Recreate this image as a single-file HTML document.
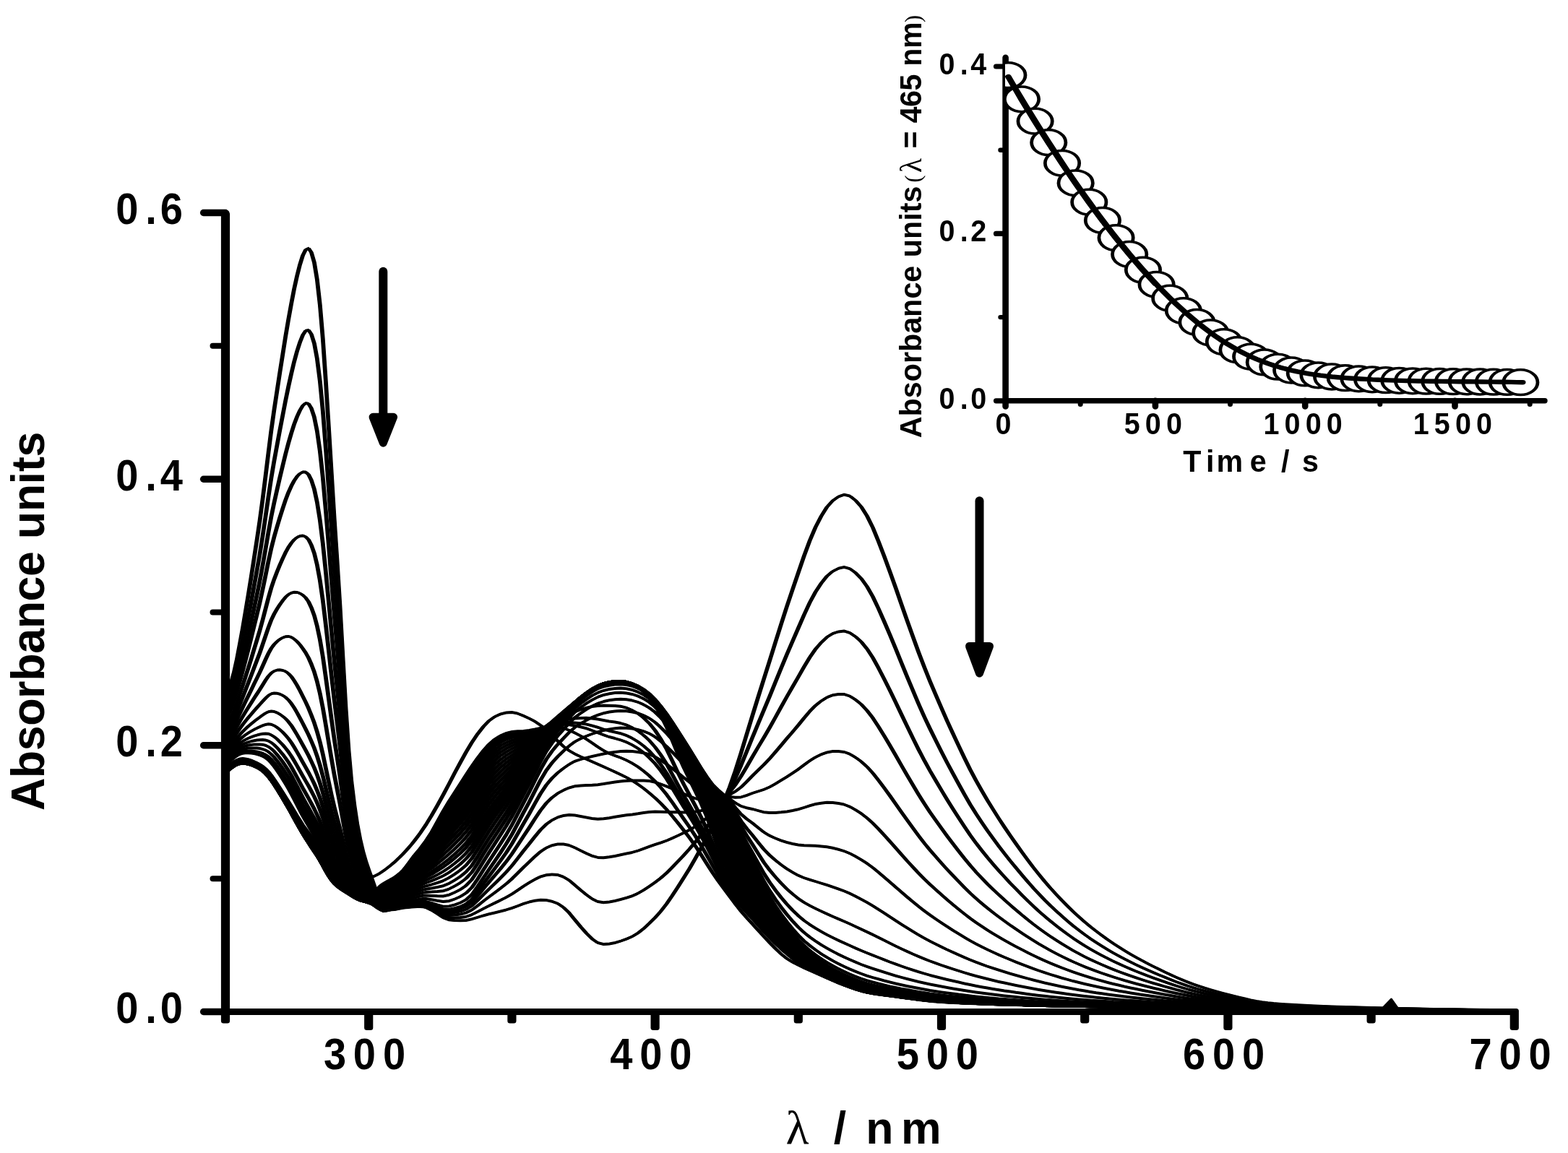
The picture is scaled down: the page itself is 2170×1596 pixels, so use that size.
<!DOCTYPE html>
<html lang="en"><head><meta charset="utf-8"><title>Absorbance spectra</title>
<style>html,body{margin:0;padding:0;background:#fff;overflow:hidden}svg{display:block}text{font-family:"Liberation Sans",sans-serif;font-weight:bold;fill:#000}.sym{font-family:"Liberation Serif",serif;font-weight:normal}</style></head><body>
<svg width="2170" height="1596" viewBox="0 0 2170 1596">
<rect width="2170" height="1596" fill="#fff"/>
<defs><g id="cv" fill="none" stroke="#000" stroke-width="1.40" stroke-linejoin="round" stroke-linecap="round">
<polyline points="312.0,967.5 316.0,956.8 319.9,945.0 323.9,930.4 327.9,912.5 331.8,892.0 335.8,870.1 339.7,847.2 343.7,823.2 347.7,798.3 351.6,773.0 355.6,747.1 359.6,720.1 363.5,691.0 367.5,659.2 371.5,626.5 375.4,595.6 379.4,567.4 383.4,541.1 387.3,515.6 391.3,490.4 395.2,465.7 399.2,442.1 403.2,420.1 407.1,399.9 411.1,381.8 415.1,366.2 419.0,353.8 423.0,345.7 427.0,343.7 430.9,349.4 434.9,363.2 438.8,386.6 442.8,421.8 446.8,468.9 450.7,525.3 454.7,588.1 458.7,653.7 462.6,717.0 466.6,777.4 470.6,840.8 474.5,910.2 478.5,979.8 482.5,1038.6 486.4,1082.2 490.4,1114.8 494.3,1140.7 498.3,1161.7 502.3,1178.6 506.2,1192.1 510.2,1203.9 514.2,1215.1 518.1,1226.2 522.1,1236.8 526.1,1246.3 530.0,1253.4 534.0,1257.3 537.9,1258.8 541.9,1259.2 545.9,1258.9 549.8,1258.3 553.8,1257.5 557.8,1256.8 561.7,1256.3 565.7,1255.9 569.7,1255.6 573.6,1255.3 577.6,1255.1 581.6,1255.0 585.5,1255.3 589.5,1256.2 597.4,1260.0 605.3,1264.9 613.3,1270.3 621.2,1273.3 629.1,1274.1 637.0,1274.3 645.0,1273.9 652.9,1272.3 660.8,1269.9 668.8,1267.4 676.7,1265.3 684.6,1263.4 692.5,1261.5 700.5,1259.4 708.4,1257.0 716.3,1254.1 724.3,1251.0 732.2,1248.6 740.1,1246.8 748.0,1245.7 756.0,1246.1 763.9,1247.7 771.8,1250.6 779.8,1256.0 787.7,1263.6 795.6,1273.3 803.5,1282.8 811.5,1291.7 819.4,1299.6 827.3,1305.1 835.2,1307.1 843.2,1306.6 851.1,1305.0 859.0,1302.6 867.0,1299.8 874.9,1296.4 882.8,1291.6 890.7,1285.4 898.7,1278.1 906.6,1270.2 914.5,1261.4 922.5,1251.1 930.4,1239.7 938.3,1227.6 946.2,1215.2 954.2,1202.3 962.1,1188.6 970.0,1174.3 978.0,1159.4 985.9,1144.0 993.8,1127.6 1001.7,1109.8 1009.7,1089.8 1017.6,1067.2 1025.5,1042.4 1033.4,1016.4 1041.4,990.3 1049.3,964.7 1057.2,939.6 1065.2,914.4 1073.1,889.1 1081.0,864.1 1088.9,839.6 1096.9,815.9 1104.8,792.8 1112.7,769.8 1120.7,748.2 1128.6,729.7 1136.5,714.5 1144.4,701.9 1152.4,693.1 1160.3,687.5 1168.2,684.7 1176.2,686.6 1184.1,692.7 1192.0,701.6 1199.9,714.1 1207.9,730.2 1215.8,749.4 1223.7,770.1 1231.6,791.4 1239.6,813.8 1247.5,836.4 1255.4,858.9 1263.4,881.2 1271.3,903.0 1279.2,923.6 1287.1,943.2 1295.1,962.0 1303.0,980.3 1310.9,998.2 1318.9,1015.6 1326.8,1032.5 1334.7,1049.1 1342.6,1065.1 1350.6,1080.2 1358.5,1094.2 1366.4,1107.7 1374.4,1120.5 1382.3,1133.0 1390.2,1145.0 1398.1,1156.6 1406.1,1168.0 1414.0,1179.1 1421.9,1189.9 1429.8,1200.4 1437.8,1210.4 1445.7,1220.0 1453.6,1229.1 1461.6,1237.9 1469.5,1246.3 1477.4,1254.3 1485.3,1262.0 1493.3,1269.3 1501.2,1276.2 1509.1,1282.8 1517.1,1289.0 1525.0,1294.9 1532.9,1300.6 1540.8,1306.0 1548.8,1311.2 1556.7,1316.1 1564.6,1320.8 1572.6,1325.3 1580.5,1329.6 1588.4,1333.8 1596.3,1337.8 1604.3,1341.7 1612.2,1345.6 1620.1,1349.3 1628.0,1352.9 1636.0,1356.3 1643.9,1359.5 1651.8,1362.5 1659.8,1365.2 1667.7,1367.8 1675.6,1370.2 1683.5,1372.5 1691.5,1374.7 1699.4,1376.7 1707.3,1378.7 1715.3,1380.7 1723.2,1382.6 1731.1,1384.4 1739.0,1386.0 1747.0,1387.3 1754.9,1388.3 1762.8,1389.1 1770.8,1389.7 1778.7,1390.3 1810.4,1392.1 1842.1,1393.4 1873.8,1394.3 1905.5,1395.2 1937.2,1396.0 1969.0,1396.7 2000.7,1397.2 2032.4,1397.7 2064.1,1398.1 2095.8,1398.3"/>
<polyline points="312.0,979.8 316.0,970.2 319.9,959.6 323.9,946.6 327.9,930.9 331.8,913.1 335.8,894.2 339.7,874.6 343.7,854.1 347.7,832.9 351.6,811.3 355.6,789.4 359.6,766.5 363.5,741.8 367.5,715.0 371.5,687.4 375.4,661.6 379.4,638.2 383.4,616.4 387.3,595.4 391.3,574.6 395.2,554.3 399.2,535.0 403.2,517.0 407.1,500.7 411.1,486.1 415.1,473.7 419.0,463.9 423.0,457.8 427.0,456.9 430.9,462.6 434.9,475.2 438.8,496.2 442.8,527.4 446.8,568.9 450.7,618.6 454.7,673.7 458.7,731.0 462.6,786.2 466.6,838.8 470.6,893.8 474.5,953.9 478.5,1014.2 482.5,1065.3 486.4,1103.3 490.4,1131.7 494.3,1154.6 498.3,1173.2 502.3,1188.2 506.2,1200.5 510.2,1211.1 514.2,1221.2 518.1,1231.2 522.1,1240.6 526.1,1248.9 530.0,1255.0 534.0,1258.1 537.9,1259.1 541.9,1259.1 545.9,1258.7 549.8,1257.9 553.8,1256.9 557.8,1256.1 561.7,1255.5 565.7,1255.1 569.7,1254.7 573.6,1254.3 577.6,1254.0 581.6,1253.9 585.5,1254.1 589.5,1254.9 597.4,1258.4 605.3,1262.9 613.3,1267.7 621.2,1270.1 629.1,1270.4 637.0,1270.1 645.0,1268.9 652.9,1266.2 660.8,1262.2 668.8,1257.8 676.7,1253.8 684.6,1250.0 692.5,1246.2 700.5,1242.1 708.4,1237.6 716.3,1232.3 724.3,1226.8 732.2,1221.9 740.1,1217.3 748.0,1213.5 756.0,1211.2 763.9,1210.4 771.8,1211.0 779.8,1213.8 787.7,1218.5 795.6,1225.2 803.5,1232.0 811.5,1238.5 819.4,1244.2 827.3,1248.1 835.2,1249.3 843.2,1248.6 851.1,1247.1 859.0,1245.0 867.0,1242.8 874.9,1240.2 882.8,1236.7 890.7,1232.1 898.7,1226.9 906.6,1221.4 914.5,1215.4 922.5,1208.4 930.4,1200.6 938.3,1192.3 946.2,1183.9 954.2,1175.1 962.1,1165.8 970.0,1155.8 978.0,1145.2 985.9,1134.1 993.8,1121.8 1001.7,1108.2 1009.7,1093.6 1017.6,1077.5 1025.5,1059.6 1033.4,1040.3 1041.4,1020.6 1049.3,1001.5 1057.2,982.8 1065.2,963.7 1073.1,944.3 1081.0,924.9 1088.9,905.9 1096.9,887.5 1104.8,869.4 1112.7,851.2 1120.7,834.0 1128.6,819.4 1136.5,807.4 1144.4,797.5 1152.4,790.8 1160.3,786.8 1168.2,785.0 1176.2,787.2 1184.1,792.9 1192.0,800.9 1199.9,811.9 1207.9,825.9 1215.8,842.5 1223.7,860.4 1231.6,878.7 1239.6,898.0 1247.5,917.4 1255.4,936.7 1263.4,955.8 1271.3,974.5 1279.2,992.2 1287.1,1008.9 1295.1,1025.0 1303.0,1040.7 1310.9,1056.0 1318.9,1070.9 1326.8,1085.4 1334.7,1099.6 1342.6,1113.3 1350.6,1126.2 1358.5,1138.2 1366.4,1149.7 1374.4,1160.7 1382.3,1171.3 1390.2,1181.6 1398.1,1191.6 1406.1,1201.3 1414.0,1210.8 1421.9,1220.0 1429.8,1228.9 1437.8,1237.5 1445.7,1245.7 1453.6,1253.5 1461.6,1260.9 1469.5,1268.1 1477.4,1275.0 1485.3,1281.6 1493.3,1287.8 1501.2,1293.7 1509.1,1299.3 1517.1,1304.6 1525.0,1309.6 1532.9,1314.5 1540.8,1319.1 1548.8,1323.5 1556.7,1327.7 1564.6,1331.7 1572.6,1335.6 1580.5,1339.3 1588.4,1342.8 1596.3,1346.2 1604.3,1349.6 1612.2,1352.8 1620.1,1356.0 1628.0,1359.1 1636.0,1362.0 1643.9,1364.8 1651.8,1367.3 1659.8,1369.6 1667.7,1371.8 1675.6,1373.9 1683.5,1375.9 1691.5,1377.7 1699.4,1379.5 1707.3,1381.2 1715.3,1382.9 1723.2,1384.5 1731.1,1386.0 1739.0,1387.4 1747.0,1388.5 1754.9,1389.4 1762.8,1390.0 1770.8,1390.6 1778.7,1391.1 1810.4,1392.7 1842.1,1393.8 1873.8,1394.7 1905.5,1395.4 1937.2,1396.2 1969.0,1396.8 2000.7,1397.4 2032.4,1397.8 2064.1,1398.2 2095.8,1398.3"/>
<polyline points="312.0,989.6 316.0,980.9 319.9,971.3 323.9,959.6 327.9,945.6 331.8,930.0 335.8,913.6 339.7,896.5 343.7,878.9 347.7,860.6 351.6,842.1 355.6,823.3 359.6,803.7 363.5,782.7 367.5,759.9 371.5,736.7 375.4,715.1 379.4,695.8 383.4,678.0 387.3,661.0 391.3,644.4 395.2,628.3 399.2,613.2 403.2,599.5 407.1,587.3 411.1,576.7 415.1,568.0 419.0,561.5 423.0,558.0 427.0,558.8 430.9,565.2 434.9,577.3 438.8,596.5 442.8,624.4 446.8,661.1 450.7,704.6 454.7,752.7 458.7,802.6 462.6,850.3 466.6,895.6 470.6,942.9 474.5,994.5 478.5,1046.2 482.5,1090.0 486.4,1122.8 490.4,1147.5 494.3,1167.4 498.3,1183.9 502.3,1197.2 506.2,1208.2 510.2,1217.8 514.2,1226.9 518.1,1235.8 522.1,1244.1 526.1,1251.3 530.0,1256.5 534.0,1258.8 537.9,1259.3 541.9,1259.1 545.9,1258.4 549.8,1257.4 553.8,1256.4 557.8,1255.5 561.7,1254.8 565.7,1254.3 569.7,1253.8 573.6,1253.4 577.6,1253.0 581.6,1252.8 585.5,1252.8 589.5,1253.5 597.4,1256.7 605.3,1260.7 613.3,1264.9 621.2,1266.8 629.1,1266.4 637.0,1265.5 645.0,1263.5 652.9,1259.7 660.8,1253.9 668.8,1247.5 676.7,1241.5 684.6,1235.7 692.5,1229.7 700.5,1223.5 708.4,1216.6 716.3,1208.8 724.3,1200.7 732.2,1193.2 740.1,1185.7 748.0,1178.9 756.0,1173.6 763.9,1170.2 771.8,1168.4 779.8,1168.5 787.7,1170.1 795.6,1173.4 803.5,1177.4 811.5,1181.3 819.4,1184.7 827.3,1186.9 835.2,1187.3 843.2,1186.3 851.1,1184.9 859.0,1183.2 867.0,1181.6 874.9,1179.9 882.8,1177.6 890.7,1174.8 898.7,1171.8 906.6,1169.0 914.5,1166.5 922.5,1163.6 930.4,1160.2 938.3,1156.6 946.2,1152.8 954.2,1148.8 962.1,1144.1 970.0,1138.6 978.0,1132.4 985.9,1125.2 993.8,1116.7 1001.7,1106.8 1009.7,1096.8 1017.6,1086.6 1025.5,1074.7 1033.4,1061.3 1041.4,1047.3 1049.3,1034.0 1057.2,1020.9 1065.2,1007.2 1073.1,993.0 1081.0,978.7 1088.9,964.5 1096.9,950.7 1104.8,937.0 1112.7,923.1 1120.7,909.8 1128.6,898.5 1136.5,889.4 1144.4,881.9 1152.4,877.0 1160.3,874.4 1168.2,873.5 1176.2,876.0 1184.1,881.3 1192.0,888.5 1199.9,898.2 1207.9,910.4 1215.8,924.7 1223.7,940.0 1231.6,955.8 1239.6,972.3 1247.5,988.9 1255.4,1005.3 1263.4,1021.7 1271.3,1037.6 1279.2,1052.7 1287.1,1067.0 1295.1,1080.7 1303.0,1094.0 1310.9,1107.1 1318.9,1119.8 1326.8,1132.1 1334.7,1144.2 1342.6,1155.8 1350.6,1166.8 1358.5,1177.0 1366.4,1186.8 1374.4,1196.2 1382.3,1205.2 1390.2,1213.9 1398.1,1222.4 1406.1,1230.6 1414.0,1238.7 1421.9,1246.5 1429.8,1254.1 1437.8,1261.4 1445.7,1268.3 1453.6,1274.9 1461.6,1281.3 1469.5,1287.4 1477.4,1293.2 1485.3,1298.8 1493.3,1304.1 1501.2,1309.1 1509.1,1313.8 1517.1,1318.3 1525.0,1322.6 1532.9,1326.7 1540.8,1330.6 1548.8,1334.3 1556.7,1337.9 1564.6,1341.3 1572.6,1344.6 1580.5,1347.7 1588.4,1350.8 1596.3,1353.7 1604.3,1356.5 1612.2,1359.3 1620.1,1362.0 1628.0,1364.6 1636.0,1367.1 1643.9,1369.4 1651.8,1371.5 1659.8,1373.5 1667.7,1375.4 1675.6,1377.2 1683.5,1378.8 1691.5,1380.4 1699.4,1381.9 1707.3,1383.3 1715.3,1384.8 1723.2,1386.2 1731.1,1387.5 1739.0,1388.7 1747.0,1389.6 1754.9,1390.4 1762.8,1390.9 1770.8,1391.4 1778.7,1391.8 1810.4,1393.2 1842.1,1394.2 1873.8,1395.0 1905.5,1395.7 1937.2,1396.3 1969.0,1397.0 2000.7,1397.5 2032.4,1397.9 2064.1,1398.2 2095.8,1398.4"/>
<polyline points="312.0,997.5 316.0,989.5 319.9,980.6 323.9,970.0 327.9,957.5 331.8,943.6 335.8,929.1 339.7,914.2 343.7,898.8 347.7,882.9 351.6,866.9 355.6,850.7 359.6,833.9 363.5,815.9 367.5,796.5 371.5,776.9 375.4,759.0 379.4,743.3 383.4,729.3 387.3,716.2 391.3,703.7 395.2,692.0 399.2,681.6 403.2,672.7 407.1,665.3 411.1,659.6 415.1,655.6 419.0,653.3 423.0,653.4 427.0,656.9 430.9,664.6 434.9,677.0 438.8,695.0 442.8,720.0 446.8,752.2 450.7,790.0 454.7,831.3 458.7,873.7 462.6,914.1 466.6,952.3 470.6,991.9 474.5,1035.0 478.5,1078.1 482.5,1114.7 486.4,1142.3 490.4,1163.3 494.3,1180.3 498.3,1194.5 502.3,1206.2 506.2,1215.9 510.2,1224.5 514.2,1232.6 518.1,1240.4 522.1,1247.6 526.1,1253.7 530.0,1258.0 534.0,1259.5 537.9,1259.6 541.9,1259.0 545.9,1258.1 549.8,1257.0 553.8,1255.9 557.8,1254.9 561.7,1254.1 565.7,1253.5 569.7,1252.9 573.6,1252.4 577.6,1252.0 581.6,1251.7 585.5,1251.7 589.5,1252.3 597.4,1255.2 605.3,1258.8 613.3,1262.5 621.2,1263.8 629.1,1263.0 637.0,1261.5 645.0,1258.8 652.9,1254.1 660.8,1246.8 668.8,1238.6 676.7,1230.8 684.6,1223.2 692.5,1215.4 700.5,1207.3 708.4,1198.4 716.3,1188.4 724.3,1178.0 732.2,1168.3 740.1,1158.2 748.0,1148.7 756.0,1140.9 763.9,1135.3 771.8,1131.3 779.8,1129.0 787.7,1128.0 795.6,1128.5 803.5,1129.9 811.5,1131.5 819.4,1133.0 827.3,1133.7 835.2,1133.3 843.2,1132.2 851.1,1130.8 859.0,1129.4 867.0,1128.3 874.9,1127.4 882.8,1126.3 890.7,1125.0 898.7,1123.9 906.6,1123.4 914.5,1123.7 922.5,1124.0 930.4,1124.2 938.3,1124.3 946.2,1124.4 954.2,1124.3 962.1,1123.6 970.0,1122.2 978.0,1119.9 985.9,1116.5 993.8,1111.6 1001.7,1105.4 1009.7,1100.1 1017.6,1095.6 1025.5,1089.7 1033.4,1082.0 1041.4,1073.8 1049.3,1066.1 1057.2,1058.5 1065.2,1050.1 1073.1,1041.0 1081.0,1031.7 1088.9,1022.3 1096.9,1013.1 1104.8,1003.7 1112.7,994.0 1120.7,984.6 1128.6,976.6 1136.5,970.3 1144.4,965.3 1152.4,962.2 1160.3,960.9 1168.2,961.0 1176.2,963.6 1184.1,968.6 1192.0,975.0 1199.9,983.5 1207.9,993.8 1215.8,1005.9 1223.7,1018.7 1231.6,1031.9 1239.6,1045.7 1247.5,1059.5 1255.4,1073.1 1263.4,1086.7 1271.3,1099.9 1279.2,1112.4 1287.1,1124.3 1295.1,1135.6 1303.0,1146.7 1310.9,1157.5 1318.9,1168.0 1326.8,1178.2 1334.7,1188.2 1342.6,1197.8 1350.6,1206.9 1358.5,1215.3 1366.4,1223.4 1374.4,1231.2 1382.3,1238.6 1390.2,1245.8 1398.1,1252.8 1406.1,1259.6 1414.0,1266.3 1421.9,1272.7 1429.8,1279.0 1437.8,1285.0 1445.7,1290.7 1453.6,1296.2 1461.6,1301.4 1469.5,1306.4 1477.4,1311.2 1485.3,1315.8 1493.3,1320.2 1501.2,1324.3 1509.1,1328.2 1517.1,1331.9 1525.0,1335.4 1532.9,1338.8 1540.8,1342.0 1548.8,1345.1 1556.7,1348.0 1564.6,1350.8 1572.6,1353.5 1580.5,1356.1 1588.4,1358.6 1596.3,1361.0 1604.3,1363.3 1612.2,1365.6 1620.1,1367.8 1628.0,1370.0 1636.0,1372.0 1643.9,1374.0 1651.8,1375.7 1659.8,1377.4 1667.7,1378.9 1675.6,1380.4 1683.5,1381.7 1691.5,1383.0 1699.4,1384.3 1707.3,1385.5 1715.3,1386.7 1723.2,1387.8 1731.1,1388.9 1739.0,1389.9 1747.0,1390.7 1754.9,1391.3 1762.8,1391.8 1770.8,1392.2 1778.7,1392.6 1810.4,1393.7 1842.1,1394.6 1873.8,1395.3 1905.5,1395.9 1937.2,1396.5 1969.0,1397.1 2000.7,1397.6 2032.4,1398.0 2064.1,1398.3 2095.8,1398.4"/>
<polyline points="312.0,1007.7 316.0,1000.6 319.9,992.8 323.9,983.5 327.9,972.8 331.8,961.1 335.8,949.1 339.7,937.0 343.7,924.5 347.7,911.7 351.6,898.8 355.6,885.8 359.6,872.4 363.5,858.1 367.5,842.8 371.5,827.5 375.4,813.7 379.4,801.9 383.4,791.5 387.3,782.0 391.3,773.0 395.2,764.7 399.2,757.5 403.2,751.6 407.1,747.0 411.1,743.8 415.1,742.0 419.0,741.5 423.0,742.9 427.0,746.9 430.9,754.5 434.9,765.7 438.8,781.6 442.8,803.4 446.8,831.1 450.7,863.5 454.7,898.7 458.7,934.6 462.6,968.6 466.6,1000.5 470.6,1033.6 474.5,1069.3 478.5,1105.1 482.5,1135.7 486.4,1158.8 490.4,1176.6 494.3,1191.2 498.3,1203.5 502.3,1213.8 506.2,1222.5 510.2,1230.2 514.2,1237.4 518.1,1244.3 522.1,1250.5 526.1,1255.7 530.0,1259.3 534.0,1260.1 537.9,1259.8 541.9,1259.0 545.9,1257.9 549.8,1256.7 553.8,1255.4 557.8,1254.3 561.7,1253.5 565.7,1252.9 569.7,1252.2 573.6,1251.6 577.6,1251.2 581.6,1250.8 585.5,1250.7 589.5,1251.2 597.4,1253.8 605.3,1257.1 613.3,1260.3 621.2,1261.2 629.1,1259.9 637.0,1257.9 645.0,1254.7 652.9,1249.1 660.8,1240.3 668.8,1230.6 676.7,1221.2 684.6,1212.0 692.5,1202.7 700.5,1192.8 708.4,1182.2 716.3,1170.1 724.3,1157.8 732.2,1146.0 740.1,1133.7 748.0,1121.9 756.0,1111.7 763.9,1104.1 771.8,1098.2 779.8,1093.8 787.7,1090.4 795.6,1088.3 803.5,1087.6 811.5,1087.1 819.4,1086.8 827.3,1086.2 835.2,1085.1 843.2,1083.8 851.1,1082.5 859.0,1081.4 867.0,1080.8 874.9,1080.5 882.8,1080.4 890.7,1080.5 898.7,1081.1 906.6,1082.7 914.5,1085.4 922.5,1088.5 930.4,1091.9 938.3,1095.3 946.2,1098.8 954.2,1102.2 962.1,1105.1 970.0,1107.3 978.0,1108.5 985.9,1108.6 993.8,1107.0 1001.7,1104.1 1009.7,1103.0 1017.6,1103.8 1025.5,1103.4 1033.4,1101.0 1041.4,1097.9 1049.3,1095.4 1057.2,1092.9 1065.2,1089.4 1073.1,1085.0 1081.0,1080.2 1088.9,1075.3 1096.9,1070.2 1104.8,1064.8 1112.7,1058.9 1120.7,1053.0 1128.6,1048.1 1136.5,1044.3 1144.4,1041.5 1152.4,1040.1 1160.3,1040.0 1168.2,1040.9 1176.2,1043.8 1184.1,1048.5 1192.0,1054.2 1199.9,1061.4 1207.9,1070.1 1215.8,1080.1 1223.7,1090.7 1231.6,1101.5 1239.6,1112.8 1247.5,1124.1 1255.4,1135.2 1263.4,1146.2 1271.3,1156.9 1279.2,1167.1 1287.1,1176.7 1295.1,1185.9 1303.0,1194.9 1310.9,1203.6 1318.9,1212.1 1326.8,1220.3 1334.7,1228.4 1342.6,1236.2 1350.6,1243.5 1358.5,1250.4 1366.4,1256.9 1374.4,1263.2 1382.3,1269.2 1390.2,1275.0 1398.1,1280.7 1406.1,1286.1 1414.0,1291.5 1421.9,1296.7 1429.8,1301.7 1437.8,1306.6 1445.7,1311.2 1453.6,1315.6 1461.6,1319.8 1469.5,1323.8 1477.4,1327.7 1485.3,1331.4 1493.3,1334.9 1501.2,1338.2 1509.1,1341.3 1517.1,1344.3 1525.0,1347.1 1532.9,1349.8 1540.8,1352.4 1548.8,1354.9 1556.7,1357.3 1564.6,1359.5 1572.6,1361.7 1580.5,1363.8 1588.4,1365.8 1596.3,1367.7 1604.3,1369.6 1612.2,1371.4 1620.1,1373.2 1628.0,1374.9 1636.0,1376.6 1643.9,1378.1 1651.8,1379.6 1659.8,1380.9 1667.7,1382.1 1675.6,1383.3 1683.5,1384.4 1691.5,1385.5 1699.4,1386.5 1707.3,1387.4 1715.3,1388.4 1723.2,1389.3 1731.1,1390.2 1739.0,1391.0 1747.0,1391.7 1754.9,1392.2 1762.8,1392.6 1770.8,1392.9 1778.7,1393.2 1810.4,1394.2 1842.1,1394.9 1873.8,1395.5 1905.5,1396.1 1937.2,1396.7 1969.0,1397.2 2000.7,1397.7 2032.4,1398.1 2064.1,1398.4 2095.8,1398.5"/>
<polyline points="312.0,1015.9 316.0,1009.5 319.9,1002.5 323.9,994.4 327.9,985.1 331.8,975.2 335.8,965.2 339.7,955.2 343.7,945.1 347.7,934.8 351.6,924.4 355.6,914.0 359.6,903.4 363.5,892.1 367.5,880.2 371.5,868.5 375.4,858.3 379.4,849.9 383.4,842.9 387.3,836.8 391.3,831.3 395.2,826.6 399.2,822.9 403.2,820.7 407.1,819.7 411.1,819.9 415.1,821.3 419.0,823.7 423.0,827.3 427.0,832.9 430.9,841.1 434.9,851.9 438.8,866.4 442.8,885.4 446.8,909.0 450.7,936.3 454.7,965.6 458.7,995.1 462.6,1022.8 466.6,1048.6 470.6,1075.1 474.5,1103.7 478.5,1132.2 482.5,1156.6 486.4,1175.3 490.4,1190.0 494.3,1202.1 498.3,1212.5 502.3,1221.4 506.2,1229.0 510.2,1235.9 514.2,1242.3 518.1,1248.2 522.1,1253.5 526.1,1257.8 530.0,1260.6 534.0,1260.7 537.9,1260.0 541.9,1258.9 545.9,1257.7 549.8,1256.3 553.8,1255.0 557.8,1253.8 561.7,1253.0 565.7,1252.2 569.7,1251.5 573.6,1250.9 577.6,1250.3 581.6,1249.9 585.5,1249.8 589.5,1250.2 597.4,1252.6 605.3,1255.6 613.3,1258.4 621.2,1258.9 629.1,1257.2 637.0,1254.9 645.0,1251.1 652.9,1244.7 660.8,1234.8 668.8,1223.7 676.7,1213.0 684.6,1202.4 692.5,1191.7 700.5,1180.3 708.4,1168.2 716.3,1154.4 724.3,1140.3 732.2,1126.8 740.1,1112.5 748.0,1098.7 756.0,1086.6 763.9,1077.3 771.8,1069.7 779.8,1063.5 787.7,1058.0 795.6,1053.7 803.5,1051.1 811.5,1048.9 819.4,1047.0 827.3,1045.3 835.2,1043.6 843.2,1042.1 851.1,1040.9 859.0,1040.0 867.0,1039.8 874.9,1040.1 882.8,1040.9 890.7,1042.2 898.7,1044.3 906.6,1047.6 914.5,1052.3 922.5,1057.8 930.4,1063.7 938.3,1069.9 946.2,1076.3 954.2,1082.6 962.1,1088.6 970.0,1093.9 978.0,1098.3 985.9,1101.4 993.8,1102.8 1001.7,1102.9 1009.7,1105.7 1017.6,1111.3 1025.5,1115.9 1033.4,1118.3 1041.4,1119.9 1049.3,1122.1 1057.2,1124.2 1065.2,1125.1 1073.1,1125.0 1081.0,1124.3 1088.9,1123.4 1096.9,1122.0 1104.8,1120.3 1112.7,1117.9 1120.7,1115.2 1128.6,1113.1 1136.5,1111.7 1144.4,1110.8 1152.4,1111.0 1160.3,1111.9 1168.2,1113.6 1176.2,1116.7 1184.1,1121.1 1192.0,1126.2 1199.9,1132.3 1207.9,1139.5 1215.8,1147.6 1223.7,1156.1 1231.6,1164.8 1239.6,1173.8 1247.5,1182.8 1255.4,1191.6 1263.4,1200.3 1271.3,1208.7 1279.2,1216.8 1287.1,1224.3 1295.1,1231.6 1303.0,1238.6 1310.9,1245.5 1318.9,1252.2 1326.8,1258.7 1334.7,1265.0 1342.6,1271.1 1350.6,1276.9 1358.5,1282.2 1366.4,1287.4 1374.4,1292.3 1382.3,1297.0 1390.2,1301.6 1398.1,1306.0 1406.1,1310.3 1414.0,1314.4 1421.9,1318.5 1429.8,1322.4 1437.8,1326.2 1445.7,1329.8 1453.6,1333.2 1461.6,1336.5 1469.5,1339.6 1477.4,1342.6 1485.3,1345.5 1493.3,1348.2 1501.2,1350.8 1509.1,1353.2 1517.1,1355.6 1525.0,1357.8 1532.9,1359.9 1540.8,1361.9 1548.8,1363.8 1556.7,1365.7 1564.6,1367.4 1572.6,1369.1 1580.5,1370.7 1588.4,1372.3 1596.3,1373.8 1604.3,1375.3 1612.2,1376.7 1620.1,1378.1 1628.0,1379.4 1636.0,1380.7 1643.9,1381.9 1651.8,1383.0 1659.8,1384.1 1667.7,1385.0 1675.6,1386.0 1683.5,1386.8 1691.5,1387.7 1699.4,1388.4 1707.3,1389.2 1715.3,1390.0 1723.2,1390.7 1731.1,1391.4 1739.0,1392.0 1747.0,1392.6 1754.9,1393.0 1762.8,1393.3 1770.8,1393.6 1778.7,1393.8 1810.4,1394.6 1842.1,1395.3 1873.8,1395.8 1905.5,1396.3 1937.2,1396.8 1969.0,1397.3 2000.7,1397.7 2032.4,1398.1 2064.1,1398.4 2095.8,1398.5"/>
<polyline points="312.0,1023.2 316.0,1017.4 319.9,1011.1 323.9,1003.9 327.9,995.9 331.8,987.6 335.8,979.4 339.7,971.3 343.7,963.1 347.7,955.0 351.6,946.8 355.6,938.7 359.6,930.5 363.5,921.9 367.5,912.9 371.5,904.4 375.4,897.3 379.4,892.0 383.4,888.0 387.3,884.9 391.3,882.6 395.2,881.2 399.2,880.9 403.2,882.0 407.1,884.5 411.1,888.0 415.1,892.4 419.0,897.6 423.0,903.5 427.0,910.6 430.9,919.4 434.9,930.1 438.8,943.3 442.8,959.9 446.8,979.9 450.7,1002.5 454.7,1026.5 458.7,1050.2 462.6,1072.2 466.6,1092.5 470.6,1113.1 474.5,1135.0 478.5,1156.9 482.5,1175.8 486.4,1190.5 490.4,1202.2 494.3,1212.1 498.3,1220.8 502.3,1228.3 506.2,1234.9 510.2,1240.9 514.2,1246.4 518.1,1251.4 522.1,1255.7 526.1,1259.1 530.0,1261.2 534.0,1260.7 537.9,1259.6 541.9,1258.3 545.9,1256.8 549.8,1255.3 553.8,1253.9 557.8,1252.6 561.7,1251.7 565.7,1250.8 569.7,1250.0 573.6,1249.2 577.6,1248.6 581.6,1248.0 585.5,1247.8 589.5,1248.0 597.4,1250.0 605.3,1252.4 613.3,1254.7 621.2,1254.6 629.1,1252.5 637.0,1249.6 645.0,1245.3 652.9,1238.3 660.8,1227.5 668.8,1215.4 676.7,1203.7 684.6,1192.2 692.5,1180.5 700.5,1168.2 708.4,1155.1 716.3,1140.3 724.3,1125.2 732.2,1110.6 740.1,1095.1 748.0,1079.9 756.0,1066.5 763.9,1056.0 771.8,1047.2 779.8,1039.6 787.7,1032.5 795.6,1026.6 803.5,1022.5 811.5,1018.9 819.4,1015.9 827.3,1013.2 835.2,1011.1 843.2,1009.5 851.1,1008.3 859.0,1007.6 867.0,1007.8 874.9,1008.5 882.8,1010.0 890.7,1012.2 898.7,1015.4 906.6,1020.0 914.5,1026.2 922.5,1033.3 930.4,1041.0 938.3,1049.2 946.2,1057.6 954.2,1066.1 962.1,1074.5 970.0,1082.4 978.0,1089.3 985.9,1095.1 993.8,1099.0 1001.7,1101.9 1009.7,1108.1 1017.6,1118.0 1025.5,1126.9 1033.4,1133.6 1041.4,1139.4 1049.3,1145.8 1057.2,1152.0 1065.2,1156.8 1073.1,1160.4 1081.0,1163.5 1088.9,1166.0 1096.9,1168.1 1104.8,1169.6 1112.7,1170.2 1120.7,1170.4 1128.6,1170.7 1136.5,1171.4 1144.4,1172.3 1152.4,1173.8 1160.3,1175.8 1168.2,1178.1 1176.2,1181.4 1184.1,1185.5 1192.0,1190.1 1199.9,1195.2 1207.9,1201.0 1215.8,1207.5 1223.7,1214.2 1231.6,1221.0 1239.6,1228.0 1247.5,1234.8 1255.4,1241.6 1263.4,1248.3 1271.3,1254.7 1279.2,1260.9 1287.1,1266.6 1295.1,1272.2 1303.0,1277.5 1310.9,1282.7 1318.9,1287.8 1326.8,1292.7 1334.7,1297.5 1342.6,1302.1 1350.6,1306.5 1358.5,1310.5 1366.4,1314.4 1374.4,1318.1 1382.3,1321.7 1390.2,1325.1 1398.1,1328.4 1406.1,1331.7 1414.0,1334.8 1421.9,1337.8 1429.8,1340.8 1437.8,1343.6 1445.7,1346.3 1453.6,1348.9 1461.6,1351.3 1469.5,1353.7 1477.4,1355.9 1485.3,1358.1 1493.3,1360.1 1501.2,1362.0 1509.1,1363.8 1517.1,1365.6 1525.0,1367.2 1532.9,1368.8 1540.8,1370.3 1548.8,1371.8 1556.7,1373.1 1564.6,1374.4 1572.6,1375.7 1580.5,1376.9 1588.4,1378.1 1596.3,1379.2 1604.3,1380.3 1612.2,1381.4 1620.1,1382.4 1628.0,1383.4 1636.0,1384.4 1643.9,1385.3 1651.8,1386.1 1659.8,1386.9 1667.7,1387.6 1675.6,1388.3 1683.5,1389.0 1691.5,1389.6 1699.4,1390.2 1707.3,1390.8 1715.3,1391.4 1723.2,1391.9 1731.1,1392.5 1739.0,1392.9 1747.0,1393.3 1754.9,1393.7 1762.8,1393.9 1770.8,1394.1 1778.7,1394.3 1810.4,1395.0 1842.1,1395.5 1873.8,1396.0 1905.5,1396.4 1937.2,1396.9 1969.0,1397.4 2000.7,1397.8 2032.4,1398.2 2064.1,1398.5 2095.8,1398.6"/>
<polyline points="312.0,1029.8 316.0,1024.6 319.9,1018.9 323.9,1012.6 327.9,1005.7 331.8,998.7 335.8,992.0 339.7,985.5 343.7,979.1 347.7,972.8 351.6,966.6 355.6,960.5 359.6,954.4 363.5,948.1 367.5,941.7 371.5,935.9 375.4,931.6 379.4,928.9 383.4,927.6 387.3,927.3 391.3,927.9 395.2,929.4 399.2,932.3 403.2,936.5 407.1,942.1 411.1,948.7 415.1,956.0 419.0,963.7 423.0,971.8 427.0,980.4 430.9,990.0 434.9,1000.6 438.8,1012.7 442.8,1027.1 446.8,1043.9 450.7,1062.4 454.7,1081.5 458.7,1100.1 462.6,1117.0 466.6,1132.3 470.6,1147.5 474.5,1163.5 478.5,1179.4 482.5,1193.2 486.4,1204.3 490.4,1213.4 494.3,1221.3 498.3,1228.3 502.3,1234.5 506.2,1240.1 510.2,1245.1 514.2,1249.7 518.1,1253.7 522.1,1256.9 526.1,1259.4 530.0,1260.7 534.0,1259.6 537.9,1258.3 541.9,1256.7 545.9,1255.1 549.8,1253.5 553.8,1251.9 557.8,1250.5 561.7,1249.3 565.7,1248.2 569.7,1247.2 573.6,1246.2 577.6,1245.3 581.6,1244.6 585.5,1244.1 589.5,1244.1 597.4,1245.3 605.3,1246.8 613.3,1248.1 621.2,1247.3 629.1,1244.6 637.0,1241.1 645.0,1236.2 652.9,1228.6 660.8,1217.2 668.8,1204.4 676.7,1192.2 684.6,1180.2 692.5,1168.1 700.5,1155.5 708.4,1142.0 716.3,1127.0 724.3,1111.6 732.2,1096.7 740.1,1080.8 748.0,1065.1 756.0,1051.1 763.9,1039.9 771.8,1030.4 779.8,1021.9 787.7,1013.8 795.6,1006.7 803.5,1001.5 811.5,997.0 819.4,993.0 827.3,989.7 835.2,987.3 843.2,985.6 851.1,984.4 859.0,983.9 867.0,984.3 874.9,985.4 882.8,987.3 890.7,990.3 898.7,994.3 906.6,999.8 914.5,1006.9 922.5,1015.0 930.4,1023.7 938.3,1033.1 946.2,1042.9 954.2,1052.9 962.1,1063.0 970.0,1072.8 978.0,1081.8 985.9,1089.8 993.8,1095.8 1001.7,1101.0 1009.7,1110.2 1017.6,1123.7 1025.5,1136.4 1033.4,1146.7 1041.4,1156.1 1049.3,1166.1 1057.2,1175.8 1065.2,1183.9 1073.1,1190.8 1081.0,1197.0 1088.9,1202.6 1096.9,1207.5 1104.8,1211.8 1112.7,1215.1 1120.7,1217.7 1128.6,1220.1 1136.5,1222.6 1144.4,1225.0 1152.4,1227.7 1160.3,1230.5 1168.2,1233.4 1176.2,1236.8 1184.1,1240.7 1192.0,1244.8 1199.9,1249.1 1207.9,1253.8 1215.8,1258.8 1223.7,1263.9 1231.6,1269.1 1239.6,1274.3 1247.5,1279.5 1255.4,1284.4 1263.4,1289.4 1271.3,1294.1 1279.2,1298.6 1287.1,1302.8 1295.1,1306.9 1303.0,1310.8 1310.9,1314.6 1318.9,1318.2 1326.8,1321.8 1334.7,1325.3 1342.6,1328.6 1350.6,1331.8 1358.5,1334.7 1366.4,1337.6 1374.4,1340.2 1382.3,1342.8 1390.2,1345.3 1398.1,1347.7 1406.1,1350.0 1414.0,1352.2 1421.9,1354.4 1429.8,1356.5 1437.8,1358.5 1445.7,1360.5 1453.6,1362.3 1461.6,1364.0 1469.5,1365.7 1477.4,1367.3 1485.3,1368.8 1493.3,1370.3 1501.2,1371.6 1509.1,1372.9 1517.1,1374.2 1525.0,1375.3 1532.9,1376.4 1540.8,1377.5 1548.8,1378.5 1556.7,1379.5 1564.6,1380.4 1572.6,1381.3 1580.5,1382.2 1588.4,1383.0 1596.3,1383.8 1604.3,1384.6 1612.2,1385.4 1620.1,1386.1 1628.0,1386.8 1636.0,1387.5 1643.9,1388.2 1651.8,1388.8 1659.8,1389.3 1667.7,1389.9 1675.6,1390.4 1683.5,1390.8 1691.5,1391.3 1699.4,1391.7 1707.3,1392.2 1715.3,1392.6 1723.2,1393.0 1731.1,1393.4 1739.0,1393.7 1747.0,1394.0 1754.9,1394.3 1762.8,1394.5 1770.8,1394.6 1778.7,1394.8 1810.4,1395.3 1842.1,1395.8 1873.8,1396.2 1905.5,1396.6 1937.2,1397.0 1969.0,1397.5 2000.7,1397.9 2032.4,1398.2 2064.1,1398.5 2095.8,1398.6"/>
<polyline points="312.0,1035.9 316.0,1031.1 319.9,1026.0 323.9,1020.3 327.9,1014.4 331.8,1008.6 335.8,1003.2 339.7,998.1 343.7,993.3 347.7,988.6 351.6,984.0 355.6,979.5 359.6,975.1 363.5,970.7 367.5,966.4 371.5,962.7 375.4,960.3 379.4,959.4 383.4,959.7 387.3,960.8 391.3,962.6 395.2,965.2 399.2,968.9 403.2,973.8 407.1,979.7 411.1,986.5 415.1,993.8 419.0,1001.3 423.0,1009.1 427.0,1017.2 430.9,1026.0 434.9,1035.6 438.8,1046.5 442.8,1059.3 446.8,1074.2 450.7,1090.4 454.7,1107.1 458.7,1123.2 462.6,1137.6 466.6,1150.5 470.6,1163.3 474.5,1176.6 478.5,1189.7 482.5,1201.3 486.4,1210.7 490.4,1218.6 494.3,1225.5 498.3,1231.7 502.3,1237.2 506.2,1242.2 510.2,1246.7 514.2,1250.6 518.1,1253.9 522.1,1256.5 526.1,1258.3 530.0,1259.2 534.0,1257.9 537.9,1256.4 541.9,1254.8 545.9,1253.1 549.8,1251.4 553.8,1249.7 557.8,1248.1 561.7,1246.7 565.7,1245.4 569.7,1244.0 573.6,1242.8 577.6,1241.6 581.6,1240.6 585.5,1239.8 589.5,1239.5 597.4,1239.9 605.3,1240.3 613.3,1240.5 621.2,1238.8 629.1,1235.4 637.0,1231.3 645.0,1225.8 652.9,1217.7 660.8,1205.9 668.8,1192.8 676.7,1180.3 684.6,1168.2 692.5,1155.9 700.5,1143.4 708.4,1130.1 716.3,1115.3 724.3,1100.2 732.2,1085.5 740.1,1069.7 748.0,1054.1 756.0,1040.0 763.9,1028.6 771.8,1018.6 779.8,1009.7 787.7,1000.9 795.6,993.1 803.5,987.3 811.5,982.0 819.4,977.5 827.3,973.7 835.2,971.1 843.2,969.3 851.1,968.2 859.0,967.7 867.0,968.2 874.9,969.6 882.8,971.9 890.7,975.3 898.7,979.9 906.6,985.9 914.5,993.6 922.5,1002.2 930.4,1011.6 938.3,1021.6 946.2,1032.2 954.2,1043.2 962.1,1054.5 970.0,1065.6 978.0,1076.2 985.9,1085.7 993.8,1093.4 1001.7,1100.3 1009.7,1111.7 1017.6,1128.0 1025.5,1143.6 1033.4,1156.7 1041.4,1168.8 1049.3,1181.5 1057.2,1193.8 1065.2,1204.5 1073.1,1213.9 1081.0,1222.5 1088.9,1230.4 1096.9,1237.5 1104.8,1243.8 1112.7,1249.1 1120.7,1253.6 1128.6,1257.6 1136.5,1261.4 1144.4,1265.0 1152.4,1268.6 1160.3,1272.0 1168.2,1275.4 1176.2,1278.9 1184.1,1282.6 1192.0,1286.3 1199.9,1290.0 1207.9,1293.8 1215.8,1297.7 1223.7,1301.7 1231.6,1305.7 1239.6,1309.6 1247.5,1313.4 1255.4,1317.0 1263.4,1320.6 1271.3,1324.0 1279.2,1327.3 1287.1,1330.4 1295.1,1333.3 1303.0,1336.1 1310.9,1338.8 1318.9,1341.4 1326.8,1343.9 1334.7,1346.4 1342.6,1348.8 1350.6,1351.0 1358.5,1353.1 1366.4,1355.1 1374.4,1357.1 1382.3,1358.9 1390.2,1360.6 1398.1,1362.3 1406.1,1363.9 1414.0,1365.5 1421.9,1367.0 1429.8,1368.5 1437.8,1369.9 1445.7,1371.2 1453.6,1372.5 1461.6,1373.7 1469.5,1374.8 1477.4,1375.9 1485.3,1377.0 1493.3,1378.0 1501.2,1378.9 1509.1,1379.8 1517.1,1380.7 1525.0,1381.5 1532.9,1382.2 1540.8,1383.0 1548.8,1383.7 1556.7,1384.4 1564.6,1385.0 1572.6,1385.6 1580.5,1386.2 1588.4,1386.8 1596.3,1387.4 1604.3,1387.9 1612.2,1388.4 1620.1,1388.9 1628.0,1389.4 1636.0,1389.9 1643.9,1390.4 1651.8,1390.8 1659.8,1391.2 1667.7,1391.5 1675.6,1391.9 1683.5,1392.2 1691.5,1392.6 1699.4,1392.9 1707.3,1393.2 1715.3,1393.5 1723.2,1393.8 1731.1,1394.1 1739.0,1394.3 1747.0,1394.5 1754.9,1394.7 1762.8,1394.9 1770.8,1395.0 1778.7,1395.1 1810.4,1395.6 1842.1,1396.0 1873.8,1396.3 1905.5,1396.7 1937.2,1397.1 1969.0,1397.5 2000.7,1397.9 2032.4,1398.3 2064.1,1398.5 2095.8,1398.6"/>
<polyline points="312.0,1041.1 316.0,1036.8 319.9,1032.1 323.9,1027.0 327.9,1021.9 331.8,1017.1 335.8,1012.7 339.7,1008.9 343.7,1005.3 347.7,1001.9 351.6,998.7 355.6,995.6 359.6,992.7 363.5,989.8 367.5,987.1 371.5,985.2 375.4,984.5 379.4,985.0 383.4,986.5 387.3,988.7 391.3,991.5 395.2,994.8 399.2,999.1 403.2,1004.2 407.1,1010.3 411.1,1017.0 415.1,1024.0 419.0,1031.2 423.0,1038.4 427.0,1045.9 430.9,1054.0 434.9,1062.7 438.8,1072.6 442.8,1084.0 446.8,1097.3 450.7,1111.8 454.7,1126.6 458.7,1140.7 462.6,1153.2 466.6,1164.4 470.6,1175.3 474.5,1186.5 478.5,1197.6 482.5,1207.5 486.4,1215.7 490.4,1222.6 494.3,1228.7 498.3,1234.3 502.3,1239.3 506.2,1243.8 510.2,1247.7 514.2,1251.1 518.1,1253.8 522.1,1255.8 526.1,1257.1 530.0,1257.6 534.0,1256.1 537.9,1254.5 541.9,1252.8 545.9,1251.0 549.8,1249.2 553.8,1247.4 557.8,1245.7 561.7,1244.2 565.7,1242.5 569.7,1240.9 573.6,1239.4 577.6,1238.0 581.6,1236.8 585.5,1235.7 589.5,1235.0 597.4,1234.6 605.3,1234.0 613.3,1233.2 621.2,1230.7 629.1,1226.7 637.0,1222.0 645.0,1216.0 652.9,1207.6 660.8,1195.6 668.8,1182.4 676.7,1169.9 684.6,1157.8 692.5,1145.8 700.5,1133.5 708.4,1120.6 716.3,1106.4 724.3,1091.8 732.2,1077.6 740.1,1062.4 748.0,1047.2 756.0,1033.3 763.9,1021.9 771.8,1011.8 779.8,1002.7 787.7,993.7 795.6,985.6 803.5,979.3 811.5,973.7 819.4,968.8 827.3,964.8 835.2,962.0 843.2,960.3 851.1,959.1 859.0,958.7 867.0,959.4 874.9,960.9 882.8,963.5 890.7,967.2 898.7,972.2 906.6,978.7 914.5,986.8 922.5,995.9 930.4,1005.8 938.3,1016.5 946.2,1027.6 954.2,1039.3 962.1,1051.3 970.0,1063.4 978.0,1075.1 985.9,1086.1 993.8,1095.5 1001.7,1104.0 1009.7,1117.0 1017.6,1134.9 1025.5,1152.1 1033.4,1166.9 1041.4,1180.8 1049.3,1195.1 1057.2,1209.0 1065.2,1221.3 1073.1,1232.2 1081.0,1242.2 1088.9,1251.5 1096.9,1260.0 1104.8,1267.6 1112.7,1274.2 1120.7,1279.8 1128.6,1284.8 1136.5,1289.5 1144.4,1293.8 1152.4,1297.9 1160.3,1301.7 1168.2,1305.3 1176.2,1308.9 1184.1,1312.5 1192.0,1315.9 1199.9,1319.1 1207.9,1322.3 1215.8,1325.4 1223.7,1328.5 1231.6,1331.6 1239.6,1334.5 1247.5,1337.4 1255.4,1340.1 1263.4,1342.7 1271.3,1345.3 1279.2,1347.6 1287.1,1349.9 1295.1,1352.0 1303.0,1354.0 1310.9,1355.9 1318.9,1357.8 1326.8,1359.6 1334.7,1361.4 1342.6,1363.1 1350.6,1364.7 1358.5,1366.2 1366.4,1367.6 1374.4,1368.9 1382.3,1370.2 1390.2,1371.5 1398.1,1372.6 1406.1,1373.8 1414.0,1374.8 1421.9,1375.9 1429.8,1376.9 1437.8,1377.9 1445.7,1378.8 1453.6,1379.7 1461.6,1380.5 1469.5,1381.3 1477.4,1382.1 1485.3,1382.8 1493.3,1383.5 1501.2,1384.1 1509.1,1384.7 1517.1,1385.3 1525.0,1385.8 1532.9,1386.3 1540.8,1386.9 1548.8,1387.3 1556.7,1387.8 1564.6,1388.2 1572.6,1388.7 1580.5,1389.1 1588.4,1389.5 1596.3,1389.8 1604.3,1390.2 1612.2,1390.6 1620.1,1390.9 1628.0,1391.3 1636.0,1391.6 1643.9,1391.9 1651.8,1392.2 1659.8,1392.5 1667.7,1392.7 1675.6,1393.0 1683.5,1393.2 1691.5,1393.5 1699.4,1393.7 1707.3,1393.9 1715.3,1394.1 1723.2,1394.3 1731.1,1394.5 1739.0,1394.7 1747.0,1394.9 1754.9,1395.0 1762.8,1395.2 1770.8,1395.3 1778.7,1395.4 1810.4,1395.8 1842.1,1396.1 1873.8,1396.4 1905.5,1396.8 1937.2,1397.2 1969.0,1397.6 2000.7,1398.0 2032.4,1398.3 2064.1,1398.5 2095.8,1398.6"/>
<polyline points="312.0,1045.2 316.0,1041.2 319.9,1036.8 323.9,1032.3 327.9,1027.7 331.8,1023.6 335.8,1020.1 339.7,1017.2 343.7,1014.5 347.7,1012.1 351.6,1009.9 355.6,1007.9 359.6,1006.0 363.5,1004.3 367.5,1003.0 371.5,1002.3 375.4,1002.8 379.4,1004.4 383.4,1006.9 387.3,1010.0 391.3,1013.6 395.2,1017.7 399.2,1022.4 403.2,1027.9 407.1,1034.2 411.1,1041.0 415.1,1048.0 419.0,1055.1 423.0,1062.1 427.0,1069.3 430.9,1076.8 434.9,1084.9 438.8,1094.0 442.8,1104.5 446.8,1116.5 450.7,1129.6 454.7,1142.9 458.7,1155.3 462.6,1166.3 466.6,1176.0 470.6,1185.4 474.5,1194.9 478.5,1204.3 482.5,1212.7 486.4,1219.8 490.4,1225.9 494.3,1231.5 498.3,1236.5 502.3,1241.0 506.2,1245.0 510.2,1248.5 514.2,1251.4 518.1,1253.5 522.1,1255.0 526.1,1255.8 530.0,1255.9 534.0,1254.3 537.9,1252.6 541.9,1250.8 545.9,1249.0 549.8,1247.2 553.8,1245.3 557.8,1243.4 561.7,1241.6 565.7,1239.8 569.7,1237.9 573.6,1236.2 577.6,1234.5 581.6,1233.0 585.5,1231.7 589.5,1230.7 597.4,1229.5 605.3,1228.0 613.3,1226.2 621.2,1223.0 629.1,1218.5 637.0,1213.4 645.0,1206.9 652.9,1198.1 660.8,1186.0 668.8,1172.9 676.7,1160.4 684.6,1148.5 692.5,1136.7 700.5,1124.8 708.4,1112.4 716.3,1098.8 724.3,1084.9 732.2,1071.3 740.1,1056.6 748.0,1041.9 756.0,1028.4 763.9,1017.1 771.8,1007.0 779.8,997.8 787.7,988.7 795.6,980.4 803.5,973.9 811.5,968.1 819.4,962.9 827.3,958.8 835.2,955.9 843.2,954.1 851.1,953.0 859.0,952.6 867.0,953.3 874.9,955.0 882.8,957.8 890.7,961.8 898.7,967.1 906.6,974.0 914.5,982.5 922.5,992.0 930.4,1002.5 938.3,1013.7 946.2,1025.5 954.2,1037.6 962.1,1050.2 970.0,1063.0 978.0,1075.6 985.9,1087.7 993.8,1098.3 1001.7,1108.1 1009.7,1122.1 1017.6,1140.9 1025.5,1159.1 1033.4,1174.9 1041.4,1189.8 1049.3,1205.1 1057.2,1219.9 1065.2,1233.0 1073.1,1244.8 1081.0,1255.7 1088.9,1265.8 1096.9,1275.1 1104.8,1283.5 1112.7,1290.8 1120.7,1297.1 1128.6,1302.7 1136.5,1307.8 1144.4,1312.5 1152.4,1316.9 1160.3,1321.0 1168.2,1324.8 1176.2,1328.4 1184.1,1331.8 1192.0,1335.1 1199.9,1338.0 1207.9,1340.7 1215.8,1343.3 1223.7,1345.8 1231.6,1348.3 1239.6,1350.7 1247.5,1352.9 1255.4,1355.0 1263.4,1357.0 1271.3,1359.0 1279.2,1360.8 1287.1,1362.5 1295.1,1364.1 1303.0,1365.6 1310.9,1367.0 1318.9,1368.4 1326.8,1369.8 1334.7,1371.1 1342.6,1372.3 1350.6,1373.5 1358.5,1374.6 1366.4,1375.6 1374.4,1376.6 1382.3,1377.6 1390.2,1378.5 1398.1,1379.3 1406.1,1380.1 1414.0,1380.9 1421.9,1381.6 1429.8,1382.3 1437.8,1383.0 1445.7,1383.7 1453.6,1384.3 1461.6,1384.9 1469.5,1385.5 1477.4,1386.0 1485.3,1386.5 1493.3,1387.0 1501.2,1387.4 1509.1,1387.8 1517.1,1388.2 1525.0,1388.6 1532.9,1389.0 1540.8,1389.3 1548.8,1389.7 1556.7,1390.0 1564.6,1390.3 1572.6,1390.6 1580.5,1390.9 1588.4,1391.2 1596.3,1391.4 1604.3,1391.7 1612.2,1392.0 1620.1,1392.2 1628.0,1392.4 1636.0,1392.7 1643.9,1392.9 1651.8,1393.1 1659.8,1393.3 1667.7,1393.5 1675.6,1393.7 1683.5,1393.9 1691.5,1394.0 1699.4,1394.2 1707.3,1394.4 1715.3,1394.5 1723.2,1394.7 1731.1,1394.8 1739.0,1395.0 1747.0,1395.1 1754.9,1395.2 1762.8,1395.3 1770.8,1395.4 1778.7,1395.5 1810.4,1395.9 1842.1,1396.2 1873.8,1396.5 1905.5,1396.8 1937.2,1397.2 1969.0,1397.6 2000.7,1398.0 2032.4,1398.3 2064.1,1398.5 2095.8,1398.6"/>
<polyline points="312.0,1048.6 316.0,1044.8 319.9,1040.7 323.9,1036.5 327.9,1032.4 331.8,1028.9 335.8,1026.0 339.7,1023.8 343.7,1021.9 347.7,1020.2 351.6,1018.8 355.6,1017.6 359.6,1016.6 363.5,1015.8 367.5,1015.4 371.5,1015.8 375.4,1017.3 379.4,1019.8 383.4,1023.0 387.3,1026.9 391.3,1031.0 395.2,1035.6 399.2,1040.8 403.2,1046.7 407.1,1053.1 411.1,1060.0 415.1,1067.1 419.0,1074.1 423.0,1081.0 427.0,1087.9 430.9,1095.1 434.9,1102.8 438.8,1111.2 442.8,1120.9 446.8,1132.0 450.7,1144.0 454.7,1156.0 458.7,1167.2 462.6,1177.0 466.6,1185.5 470.6,1193.5 474.5,1201.7 478.5,1209.7 482.5,1217.0 486.4,1223.2 490.4,1228.7 494.3,1233.7 498.3,1238.3 502.3,1242.4 506.2,1246.0 510.2,1249.1 514.2,1251.4 518.1,1253.0 522.1,1254.0 526.1,1254.4 530.0,1254.2 534.0,1252.4 537.9,1250.7 541.9,1248.9 545.9,1247.0 549.8,1245.1 553.8,1243.1 557.8,1241.1 561.7,1239.1 565.7,1237.0 569.7,1234.8 573.6,1232.9 577.6,1231.0 581.6,1229.3 585.5,1227.7 589.5,1226.4 597.4,1224.4 605.3,1222.0 613.3,1219.2 621.2,1215.2 629.1,1210.1 637.0,1204.5 645.0,1197.6 652.9,1188.5 660.8,1176.4 668.8,1163.3 676.7,1150.9 684.6,1139.1 692.5,1127.6 700.5,1116.1 708.4,1104.2 716.3,1091.3 724.3,1078.1 732.2,1065.2 740.1,1051.1 748.0,1037.0 756.0,1023.9 763.9,1012.8 771.8,1002.7 779.8,993.4 787.7,984.3 795.6,975.9 803.5,969.2 811.5,963.1 819.4,957.8 827.3,953.4 835.2,950.5 843.2,948.7 851.1,947.5 859.0,947.2 867.0,948.0 874.9,949.8 882.8,952.8 890.7,957.0 898.7,962.7 906.6,970.0 914.5,978.9 922.5,989.0 930.4,1000.2 938.3,1012.1 946.2,1024.4 954.2,1037.1 962.1,1050.3 970.0,1063.7 978.0,1077.0 985.9,1090.0 993.8,1101.7 1001.7,1112.4 1009.7,1127.1 1017.6,1146.4 1025.5,1165.1 1033.4,1181.5 1041.4,1196.9 1049.3,1212.7 1057.2,1228.0 1065.2,1241.7 1073.1,1253.9 1081.0,1265.3 1088.9,1275.9 1096.9,1285.6 1104.8,1294.5 1112.7,1302.2 1120.7,1308.9 1128.6,1314.8 1136.5,1320.3 1144.4,1325.2 1152.4,1329.8 1160.3,1334.0 1168.2,1337.9 1176.2,1341.5 1184.1,1344.8 1192.0,1347.9 1199.9,1350.7 1207.9,1353.1 1215.8,1355.3 1223.7,1357.5 1231.6,1359.5 1239.6,1361.5 1247.5,1363.3 1255.4,1365.0 1263.4,1366.6 1271.3,1368.1 1279.2,1369.6 1287.1,1371.0 1295.1,1372.2 1303.0,1373.4 1310.9,1374.5 1318.9,1375.5 1326.8,1376.6 1334.7,1377.5 1342.6,1378.5 1350.6,1379.4 1358.5,1380.2 1366.4,1381.0 1374.4,1381.7 1382.3,1382.5 1390.2,1383.1 1398.1,1383.7 1406.1,1384.3 1414.0,1384.9 1421.9,1385.5 1429.8,1386.0 1437.8,1386.5 1445.7,1387.0 1453.6,1387.4 1461.6,1387.8 1469.5,1388.2 1477.4,1388.6 1485.3,1389.0 1493.3,1389.3 1501.2,1389.6 1509.1,1389.9 1517.1,1390.2 1525.0,1390.5 1532.9,1390.8 1540.8,1391.0 1548.8,1391.3 1556.7,1391.5 1564.6,1391.7 1572.6,1391.9 1580.5,1392.1 1588.4,1392.3 1596.3,1392.5 1604.3,1392.7 1612.2,1392.9 1620.1,1393.1 1628.0,1393.2 1636.0,1393.4 1643.9,1393.6 1651.8,1393.7 1659.8,1393.9 1667.7,1394.0 1675.6,1394.1 1683.5,1394.3 1691.5,1394.4 1699.4,1394.5 1707.3,1394.7 1715.3,1394.8 1723.2,1394.9 1731.1,1395.0 1739.0,1395.2 1747.0,1395.3 1754.9,1395.4 1762.8,1395.5 1770.8,1395.5 1778.7,1395.6 1810.4,1395.9 1842.1,1396.2 1873.8,1396.5 1905.5,1396.9 1937.2,1397.2 1969.0,1397.6 2000.7,1398.0 2032.4,1398.3 2064.1,1398.6 2095.8,1398.6"/>
<polyline points="312.0,1051.2 316.0,1047.5 319.9,1043.6 323.9,1039.7 327.9,1035.9 331.8,1032.8 335.8,1030.4 339.7,1028.6 343.7,1027.2 347.7,1026.1 351.6,1025.3 355.6,1024.6 359.6,1024.2 363.5,1024.1 367.5,1024.5 371.5,1025.6 375.4,1027.8 379.4,1031.0 383.4,1034.9 387.3,1039.4 391.3,1044.2 395.2,1049.4 399.2,1055.2 403.2,1061.6 407.1,1068.6 411.1,1076.0 415.1,1083.5 419.0,1090.8 423.0,1097.9 427.0,1105.0 430.9,1112.2 434.9,1119.7 438.8,1127.8 442.8,1136.9 446.8,1147.1 450.7,1158.1 454.7,1168.9 458.7,1178.9 462.6,1187.5 466.6,1194.9 470.6,1201.7 474.5,1208.5 478.5,1215.2 482.5,1221.3 486.4,1226.7 490.4,1231.5 494.3,1236.0 498.3,1240.1 502.3,1243.7 506.2,1246.9 510.2,1249.6 514.2,1251.4 518.1,1252.5 522.1,1252.9 526.1,1252.8 530.0,1252.4 534.0,1250.5 537.9,1248.6 541.9,1246.8 545.9,1244.9 549.8,1242.9 553.8,1240.8 557.8,1238.7 561.7,1236.5 565.7,1234.1 569.7,1231.7 573.6,1229.5 577.6,1227.4 581.6,1225.5 585.5,1223.7 589.5,1222.1 597.4,1219.3 605.3,1216.0 613.3,1212.4 621.2,1207.8 629.1,1202.2 637.0,1196.1 645.0,1188.8 652.9,1179.5 660.8,1167.3 668.8,1154.3 676.7,1142.1 684.6,1130.6 692.5,1119.5 700.5,1108.4 708.4,1097.2 716.3,1085.0 724.3,1072.7 732.2,1060.5 740.1,1047.2 748.0,1033.7 756.0,1021.1 763.9,1010.3 771.8,1000.4 779.8,991.2 787.7,982.2 795.6,973.8 803.5,966.9 811.5,960.7 819.4,955.3 827.3,951.0 835.2,948.0 843.2,946.1 851.1,945.0 859.0,944.7 867.0,945.5 874.9,947.4 882.8,950.5 890.7,954.9 898.7,960.9 906.6,968.4 914.5,977.7 922.5,988.2 930.4,999.9 938.3,1012.3 946.2,1025.1 954.2,1038.1 962.1,1051.6 970.0,1065.4 978.0,1079.2 985.9,1093.0 993.8,1105.4 1001.7,1116.8 1009.7,1131.8 1017.6,1151.2 1025.5,1170.0 1033.4,1186.6 1041.4,1202.2 1049.3,1218.1 1057.2,1233.5 1065.2,1247.3 1073.1,1259.7 1081.0,1271.2 1088.9,1281.9 1096.9,1291.8 1104.8,1300.8 1112.7,1308.6 1120.7,1315.5 1128.6,1321.5 1136.5,1327.0 1144.4,1332.1 1152.4,1336.7 1160.3,1340.9 1168.2,1344.8 1176.2,1348.4 1184.1,1351.7 1192.0,1354.7 1199.9,1357.3 1207.9,1359.5 1215.8,1361.6 1223.7,1363.5 1231.6,1365.4 1239.6,1367.1 1247.5,1368.7 1255.4,1370.1 1263.4,1371.6 1271.3,1372.9 1279.2,1374.2 1287.1,1375.4 1295.1,1376.4 1303.0,1377.4 1310.9,1378.4 1318.9,1379.2 1326.8,1380.1 1334.7,1380.9 1342.6,1381.7 1350.6,1382.4 1358.5,1383.1 1366.4,1383.8 1374.4,1384.4 1382.3,1385.0 1390.2,1385.5 1398.1,1386.0 1406.1,1386.5 1414.0,1387.0 1421.9,1387.4 1429.8,1387.9 1437.8,1388.3 1445.7,1388.6 1453.6,1389.0 1461.6,1389.4 1469.5,1389.7 1477.4,1390.0 1485.3,1390.3 1493.3,1390.5 1501.2,1390.8 1509.1,1391.0 1517.1,1391.3 1525.0,1391.5 1532.9,1391.7 1540.8,1391.9 1548.8,1392.1 1556.7,1392.3 1564.6,1392.4 1572.6,1392.6 1580.5,1392.8 1588.4,1392.9 1596.3,1393.1 1604.3,1393.2 1612.2,1393.4 1620.1,1393.5 1628.0,1393.6 1636.0,1393.8 1643.9,1393.9 1651.8,1394.0 1659.8,1394.1 1667.7,1394.3 1675.6,1394.4 1683.5,1394.5 1691.5,1394.6 1699.4,1394.7 1707.3,1394.8 1715.3,1394.9 1723.2,1395.0 1731.1,1395.1 1739.0,1395.2 1747.0,1395.3 1754.9,1395.4 1762.8,1395.5 1770.8,1395.6 1778.7,1395.7 1810.4,1396.0 1842.1,1396.3 1873.8,1396.6 1905.5,1396.9 1937.2,1397.2 1969.0,1397.6 2000.7,1398.0 2032.4,1398.3 2064.1,1398.6 2095.8,1398.7"/>
<polyline points="312.0,1053.4 316.0,1049.8 319.9,1046.1 323.9,1042.3 327.9,1038.9 331.8,1036.0 335.8,1034.0 339.7,1032.6 343.7,1031.6 347.7,1030.9 351.6,1030.5 355.6,1030.4 359.6,1030.4 363.5,1030.8 367.5,1031.8 371.5,1033.6 375.4,1036.3 379.4,1040.1 383.4,1044.5 387.3,1049.4 391.3,1054.7 395.2,1060.4 399.2,1066.6 403.2,1073.4 407.1,1080.8 411.1,1088.4 415.1,1096.2 419.0,1103.7 423.0,1111.0 427.0,1118.2 430.9,1125.3 434.9,1132.6 438.8,1140.4 442.8,1149.0 446.8,1158.6 450.7,1168.8 454.7,1178.8 458.7,1187.8 462.6,1195.5 466.6,1202.0 470.6,1207.9 474.5,1213.7 478.5,1219.4 482.5,1224.6 486.4,1229.3 490.4,1233.7 494.3,1237.7 498.3,1241.4 502.3,1244.7 506.2,1247.6 510.2,1249.8 514.2,1251.3 518.1,1251.9 522.1,1251.9 526.1,1251.4 530.0,1250.7 534.0,1248.7 537.9,1246.8 541.9,1244.9 545.9,1242.9 549.8,1240.9 553.8,1238.8 557.8,1236.5 561.7,1234.1 565.7,1231.5 569.7,1228.9 573.6,1226.5 577.6,1224.2 581.6,1222.1 585.5,1220.0 589.5,1218.2 597.4,1214.8 605.3,1210.8 613.3,1206.3 621.2,1201.2 629.1,1195.2 637.0,1188.7 645.0,1181.0 652.9,1171.5 660.8,1159.4 668.8,1146.5 676.7,1134.5 684.6,1123.3 692.5,1112.6 700.5,1102.0 708.4,1091.3 716.3,1079.9 724.3,1068.3 732.2,1056.9 740.1,1044.3 748.0,1031.5 756.0,1019.4 763.9,1008.9 771.8,999.2 779.8,990.1 787.7,981.2 795.6,972.8 803.5,966.0 811.5,959.7 819.4,954.3 827.3,949.9 835.2,946.9 843.2,945.1 851.1,943.9 859.0,943.6 867.0,944.5 874.9,946.5 882.8,949.7 890.7,954.2 898.7,960.3 906.6,968.1 914.5,977.6 922.5,988.5 930.4,1000.6 938.3,1013.5 946.2,1026.6 954.2,1039.9 962.1,1053.6 970.0,1067.6 978.0,1081.8 985.9,1096.1 993.8,1109.3 1001.7,1121.3 1009.7,1136.5 1017.6,1155.8 1025.5,1174.5 1033.4,1191.0 1041.4,1206.7 1049.3,1222.5 1057.2,1237.9 1065.2,1251.6 1073.1,1264.0 1081.0,1275.5 1088.9,1286.1 1096.9,1296.0 1104.8,1305.0 1112.7,1312.9 1120.7,1319.7 1128.6,1325.7 1136.5,1331.2 1144.4,1336.3 1152.4,1340.9 1160.3,1345.1 1168.2,1349.0 1176.2,1352.5 1184.1,1355.8 1192.0,1358.8 1199.9,1361.3 1207.9,1363.4 1215.8,1365.3 1223.7,1367.1 1231.6,1368.8 1239.6,1370.4 1247.5,1371.8 1255.4,1373.2 1263.4,1374.5 1271.3,1375.8 1279.2,1376.9 1287.1,1378.0 1295.1,1379.0 1303.0,1379.8 1310.9,1380.7 1318.9,1381.4 1326.8,1382.2 1334.7,1382.9 1342.6,1383.6 1350.6,1384.2 1358.5,1384.9 1366.4,1385.4 1374.4,1386.0 1382.3,1386.5 1390.2,1387.0 1398.1,1387.4 1406.1,1387.8 1414.0,1388.2 1421.9,1388.6 1429.8,1389.0 1437.8,1389.3 1445.7,1389.6 1453.6,1389.9 1461.6,1390.2 1469.5,1390.5 1477.4,1390.8 1485.3,1391.0 1493.3,1391.3 1501.2,1391.5 1509.1,1391.7 1517.1,1391.9 1525.0,1392.0 1532.9,1392.2 1540.8,1392.4 1548.8,1392.5 1556.7,1392.7 1564.6,1392.8 1572.6,1393.0 1580.5,1393.1 1588.4,1393.3 1596.3,1393.4 1604.3,1393.5 1612.2,1393.6 1620.1,1393.8 1628.0,1393.9 1636.0,1394.0 1643.9,1394.1 1651.8,1394.2 1659.8,1394.3 1667.7,1394.4 1675.6,1394.5 1683.5,1394.6 1691.5,1394.7 1699.4,1394.8 1707.3,1394.9 1715.3,1395.0 1723.2,1395.1 1731.1,1395.2 1739.0,1395.3 1747.0,1395.4 1754.9,1395.5 1762.8,1395.5 1770.8,1395.6 1778.7,1395.7 1810.4,1396.0 1842.1,1396.3 1873.8,1396.6 1905.5,1396.9 1937.2,1397.2 1969.0,1397.6 2000.7,1398.0 2032.4,1398.3 2064.1,1398.6 2095.8,1398.7"/>
<polyline points="312.0,1055.4 316.0,1052.0 319.9,1048.4 323.9,1044.8 327.9,1041.6 331.8,1039.0 335.8,1037.3 339.7,1036.3 343.7,1035.6 347.7,1035.4 351.6,1035.4 355.6,1035.6 359.6,1036.1 363.5,1037.0 367.5,1038.4 371.5,1040.7 375.4,1044.0 379.4,1048.1 383.4,1053.0 387.3,1058.2 391.3,1063.9 395.2,1069.8 399.2,1076.2 403.2,1083.2 407.1,1090.6 411.1,1098.4 415.1,1106.1 419.0,1113.6 423.0,1120.8 427.0,1127.8 430.9,1134.8 434.9,1141.9 438.8,1149.4 442.8,1157.6 446.8,1166.7 450.7,1176.3 454.7,1185.7 458.7,1194.1 462.6,1201.1 466.6,1207.0 470.6,1212.3 474.5,1217.4 478.5,1222.3 482.5,1226.9 486.4,1231.2 490.4,1235.2 494.3,1239.0 498.3,1242.4 502.3,1245.4 506.2,1248.0 510.2,1249.9 514.2,1251.0 518.1,1251.1 522.1,1250.7 526.1,1249.9 530.0,1248.9 534.0,1246.8 537.9,1244.9 541.9,1243.0 545.9,1241.0 549.8,1238.9 553.8,1236.7 557.8,1234.3 561.7,1231.8 565.7,1229.0 569.7,1226.1 573.6,1223.5 577.6,1221.0 581.6,1218.7 585.5,1216.4 589.5,1214.3 597.4,1210.3 605.3,1205.5 613.3,1200.3 621.2,1194.6 629.1,1188.1 637.0,1181.2 645.0,1173.2 652.9,1163.5 660.8,1151.5 668.8,1138.8 676.7,1127.0 684.6,1116.1 692.5,1105.8 700.5,1095.7 708.4,1085.7 716.3,1075.0 724.3,1064.2 732.2,1053.5 740.1,1041.7 748.0,1029.6 756.0,1018.1 763.9,1007.9 771.8,998.4 779.8,989.5 787.7,980.7 795.6,972.5 803.5,965.7 811.5,959.4 819.4,954.0 827.3,949.5 835.2,946.5 843.2,944.7 851.1,943.6 859.0,943.2 867.0,944.1 874.9,946.2 882.8,949.5 890.7,954.1 898.7,960.3 906.6,968.3 914.5,978.1 922.5,989.3 930.4,1001.8 938.3,1015.1 946.2,1028.4 954.2,1041.9 962.1,1055.8 970.0,1070.1 978.0,1084.6 985.9,1099.4 993.8,1113.2 1001.7,1125.7 1009.7,1141.1 1017.6,1160.2 1025.5,1178.7 1033.4,1195.1 1041.4,1210.7 1049.3,1226.4 1057.2,1241.6 1065.2,1255.2 1073.1,1267.4 1081.0,1278.8 1088.9,1289.4 1096.9,1299.2 1104.8,1308.1 1112.7,1315.9 1120.7,1322.6 1128.6,1328.6 1136.5,1334.1 1144.4,1339.1 1152.4,1343.7 1160.3,1347.9 1168.2,1351.7 1176.2,1355.2 1184.1,1358.5 1192.0,1361.4 1199.9,1363.8 1207.9,1365.9 1215.8,1367.7 1223.7,1369.4 1231.6,1371.0 1239.6,1372.5 1247.5,1373.9 1255.4,1375.2 1263.4,1376.4 1271.3,1377.6 1279.2,1378.6 1287.1,1379.6 1295.1,1380.6 1303.0,1381.4 1310.9,1382.1 1318.9,1382.8 1326.8,1383.5 1334.7,1384.2 1342.6,1384.8 1350.6,1385.4 1358.5,1385.9 1366.4,1386.5 1374.4,1387.0 1382.3,1387.4 1390.2,1387.8 1398.1,1388.2 1406.1,1388.6 1414.0,1389.0 1421.9,1389.3 1429.8,1389.6 1437.8,1390.0 1445.7,1390.3 1453.6,1390.5 1461.6,1390.8 1469.5,1391.1 1477.4,1391.3 1485.3,1391.5 1493.3,1391.7 1501.2,1391.9 1509.1,1392.1 1517.1,1392.2 1525.0,1392.4 1532.9,1392.6 1540.8,1392.7 1548.8,1392.8 1556.7,1393.0 1564.6,1393.1 1572.6,1393.2 1580.5,1393.4 1588.4,1393.5 1596.3,1393.6 1604.3,1393.7 1612.2,1393.8 1620.1,1393.9 1628.0,1394.0 1636.0,1394.1 1643.9,1394.2 1651.8,1394.3 1659.8,1394.4 1667.7,1394.5 1675.6,1394.6 1683.5,1394.7 1691.5,1394.8 1699.4,1394.9 1707.3,1395.0 1715.3,1395.1 1723.2,1395.2 1731.1,1395.2 1739.0,1395.3 1747.0,1395.4 1754.9,1395.5 1762.8,1395.6 1770.8,1395.6 1778.7,1395.7 1810.4,1396.0 1842.1,1396.3 1873.8,1396.6 1905.5,1396.9 1937.2,1397.2 1969.0,1397.6 2000.7,1398.0 2032.4,1398.3 2064.1,1398.6 2095.8,1398.7"/>
<polyline points="312.0,1057.3 316.0,1054.0 319.9,1050.5 323.9,1047.1 327.9,1044.1 331.8,1041.8 335.8,1040.4 339.7,1039.7 343.7,1039.4 347.7,1039.5 351.6,1039.9 355.6,1040.5 359.6,1041.4 363.5,1042.7 367.5,1044.6 371.5,1047.4 375.4,1051.1 379.4,1055.6 383.4,1060.8 387.3,1066.4 391.3,1072.3 395.2,1078.5 399.2,1085.1 403.2,1092.2 407.1,1099.7 411.1,1107.5 415.1,1115.2 419.0,1122.6 423.0,1129.8 427.0,1136.6 430.9,1143.4 434.9,1150.3 438.8,1157.5 442.8,1165.4 446.8,1174.0 450.7,1183.1 454.7,1191.8 458.7,1199.6 462.6,1206.1 466.6,1211.5 470.6,1216.2 474.5,1220.6 478.5,1224.9 482.5,1229.0 486.4,1232.9 490.4,1236.6 494.3,1240.1 498.3,1243.2 502.3,1246.0 506.2,1248.3 510.2,1249.9 514.2,1250.7 518.1,1250.5 522.1,1249.7 526.1,1248.6 530.0,1247.4 534.0,1245.3 537.9,1243.3 541.9,1241.4 545.9,1239.4 549.8,1237.2 553.8,1235.0 557.8,1232.5 561.7,1229.8 565.7,1226.8 569.7,1223.8 573.6,1220.9 577.6,1218.3 581.6,1215.8 585.5,1213.4 589.5,1211.1 597.4,1206.6 605.3,1201.1 613.3,1195.3 621.2,1189.1 629.1,1182.3 637.0,1175.1 645.0,1166.8 652.9,1157.0 660.8,1145.0 668.8,1132.4 676.7,1120.8 684.6,1110.1 692.5,1100.2 700.5,1090.5 708.4,1081.0 716.3,1071.0 724.3,1060.9 732.2,1050.8 740.1,1039.7 748.0,1028.2 756.0,1017.1 763.9,1007.2 771.8,997.9 779.8,989.0 787.7,980.4 795.6,972.4 803.5,965.5 811.5,959.2 819.4,953.8 827.3,949.3 835.2,946.3 843.2,944.5 851.1,943.4 859.0,943.0 867.0,944.0 874.9,946.1 882.8,949.5 890.7,954.2 898.7,960.6 906.6,968.7 914.5,978.7 922.5,990.2 930.4,1003.2 938.3,1016.8 946.2,1030.5 954.2,1044.2 962.1,1058.2 970.0,1072.7 978.0,1087.5 985.9,1102.8 993.8,1117.2 1001.7,1130.2 1009.7,1145.7 1017.6,1164.5 1025.5,1182.7 1033.4,1199.0 1041.4,1214.4 1049.3,1229.9 1057.2,1244.9 1065.2,1258.3 1073.1,1270.4 1081.0,1281.6 1088.9,1292.0 1096.9,1301.7 1104.8,1310.5 1112.7,1318.2 1120.7,1324.9 1128.6,1330.7 1136.5,1336.1 1144.4,1341.1 1152.4,1345.6 1160.3,1349.8 1168.2,1353.6 1176.2,1357.1 1184.1,1360.3 1192.0,1363.1 1199.9,1365.5 1207.9,1367.5 1215.8,1369.3 1223.7,1370.9 1231.6,1372.4 1239.6,1373.9 1247.5,1375.2 1255.4,1376.4 1263.4,1377.6 1271.3,1378.7 1279.2,1379.8 1287.1,1380.7 1295.1,1381.6 1303.0,1382.4 1310.9,1383.1 1318.9,1383.8 1326.8,1384.4 1334.7,1385.0 1342.6,1385.6 1350.6,1386.1 1358.5,1386.6 1366.4,1387.1 1374.4,1387.6 1382.3,1388.0 1390.2,1388.4 1398.1,1388.8 1406.1,1389.1 1414.0,1389.5 1421.9,1389.8 1429.8,1390.1 1437.8,1390.4 1445.7,1390.6 1453.6,1390.9 1461.6,1391.2 1469.5,1391.4 1477.4,1391.6 1485.3,1391.8 1493.3,1392.0 1501.2,1392.2 1509.1,1392.3 1517.1,1392.5 1525.0,1392.6 1532.9,1392.8 1540.8,1392.9 1548.8,1393.0 1556.7,1393.2 1564.6,1393.3 1572.6,1393.4 1580.5,1393.5 1588.4,1393.6 1596.3,1393.7 1604.3,1393.8 1612.2,1393.9 1620.1,1394.0 1628.0,1394.1 1636.0,1394.2 1643.9,1394.3 1651.8,1394.4 1659.8,1394.5 1667.7,1394.6 1675.6,1394.7 1683.5,1394.7 1691.5,1394.8 1699.4,1394.9 1707.3,1395.0 1715.3,1395.1 1723.2,1395.2 1731.1,1395.3 1739.0,1395.3 1747.0,1395.4 1754.9,1395.5 1762.8,1395.6 1770.8,1395.7 1778.7,1395.7 1810.4,1396.0 1842.1,1396.3 1873.8,1396.6 1905.5,1396.9 1937.2,1397.2 1969.0,1397.6 2000.7,1398.0 2032.4,1398.3 2064.1,1398.6 2095.8,1398.7"/>
<polyline points="312.0,1058.8 316.0,1055.6 319.9,1052.2 323.9,1048.9 327.9,1046.1 331.8,1044.0 335.8,1042.8 339.7,1042.2 343.7,1042.2 347.7,1042.5 351.6,1043.1 355.6,1044.0 359.6,1045.2 363.5,1046.8 367.5,1049.0 371.5,1052.1 375.4,1056.1 379.4,1060.9 383.4,1066.4 387.3,1072.2 391.3,1078.3 395.2,1084.6 399.2,1091.3 403.2,1098.6 407.1,1106.1 411.1,1113.9 415.1,1121.7 419.0,1129.1 423.0,1136.2 427.0,1143.0 430.9,1149.7 434.9,1156.4 438.8,1163.4 442.8,1171.0 446.8,1179.4 450.7,1188.0 454.7,1196.4 458.7,1203.8 462.6,1209.9 466.6,1214.8 470.6,1219.1 474.5,1223.1 478.5,1227.0 482.5,1230.7 486.4,1234.2 490.4,1237.7 494.3,1240.9 498.3,1243.9 502.3,1246.5 506.2,1248.5 510.2,1249.8 514.2,1250.1 518.1,1249.6 522.1,1248.4 526.1,1246.9 530.0,1245.5 534.0,1243.4 537.9,1241.4 541.9,1239.5 545.9,1237.4 549.8,1235.3 553.8,1232.9 557.8,1230.3 561.7,1227.4 565.7,1224.2 569.7,1220.9 573.6,1217.9 577.6,1215.1 581.6,1212.4 585.5,1209.8 589.5,1207.2 597.4,1202.0 605.3,1195.8 613.3,1189.2 621.2,1182.4 629.1,1175.2 637.0,1167.5 645.0,1158.9 652.9,1148.9 660.8,1137.0 668.8,1124.6 676.7,1113.2 684.6,1102.9 692.5,1093.3 700.5,1084.2 708.4,1075.3 716.3,1066.1 724.3,1056.9 732.2,1047.6 740.1,1037.2 748.0,1026.4 756.0,1016.0 763.9,1006.4 771.8,997.3 779.8,988.6 787.7,980.2 795.6,972.3 803.5,965.4 811.5,959.2 819.4,953.7 827.3,949.3 835.2,946.3 843.2,944.4 851.1,943.3 859.0,943.0 867.0,943.9 874.9,946.1 882.8,949.5 890.7,954.4 898.7,960.9 906.6,969.2 914.5,979.4 922.5,991.3 930.4,1004.6 938.3,1018.7 946.2,1032.6 954.2,1046.5 962.1,1060.7 970.0,1075.4 978.0,1090.5 985.9,1106.2 993.8,1121.2 1001.7,1134.7 1009.7,1150.2 1017.6,1168.7 1025.5,1186.7 1033.4,1202.8 1041.4,1218.0 1049.3,1233.3 1057.2,1248.0 1065.2,1261.2 1073.1,1273.1 1081.0,1284.1 1088.9,1294.4 1096.9,1303.9 1104.8,1312.5 1112.7,1320.1 1120.7,1326.6 1128.6,1332.4 1136.5,1337.7 1144.4,1342.6 1152.4,1347.1 1160.3,1351.2 1168.2,1354.9 1176.2,1358.4 1184.1,1361.6 1192.0,1364.4 1199.9,1366.7 1207.9,1368.6 1215.8,1370.4 1223.7,1371.9 1231.6,1373.4 1239.6,1374.8 1247.5,1376.1 1255.4,1377.3 1263.4,1378.4 1271.3,1379.5 1279.2,1380.6 1287.1,1381.5 1295.1,1382.3 1303.0,1383.1 1310.9,1383.7 1318.9,1384.4 1326.8,1385.0 1334.7,1385.6 1342.6,1386.1 1350.6,1386.6 1358.5,1387.1 1366.4,1387.6 1374.4,1388.0 1382.3,1388.4 1390.2,1388.8 1398.1,1389.1 1406.1,1389.5 1414.0,1389.8 1421.9,1390.1 1429.8,1390.4 1437.8,1390.6 1445.7,1390.9 1453.6,1391.2 1461.6,1391.4 1469.5,1391.6 1477.4,1391.8 1485.3,1392.0 1493.3,1392.2 1501.2,1392.3 1509.1,1392.5 1517.1,1392.6 1525.0,1392.8 1532.9,1392.9 1540.8,1393.0 1548.8,1393.2 1556.7,1393.3 1564.6,1393.4 1572.6,1393.5 1580.5,1393.6 1588.4,1393.7 1596.3,1393.8 1604.3,1393.9 1612.2,1394.0 1620.1,1394.1 1628.0,1394.2 1636.0,1394.3 1643.9,1394.3 1651.8,1394.4 1659.8,1394.5 1667.7,1394.6 1675.6,1394.7 1683.5,1394.8 1691.5,1394.9 1699.4,1394.9 1707.3,1395.0 1715.3,1395.1 1723.2,1395.2 1731.1,1395.3 1739.0,1395.4 1747.0,1395.4 1754.9,1395.5 1762.8,1395.6 1770.8,1395.7 1778.7,1395.7 1810.4,1396.0 1842.1,1396.3 1873.8,1396.6 1905.5,1396.9 1937.2,1397.2 1969.0,1397.6 2000.7,1398.0 2032.4,1398.3 2064.1,1398.6 2095.8,1398.7"/>
<polyline points="312.0,1063.0 316.0,1060.1 319.9,1057.0 323.9,1054.2 327.9,1051.9 331.8,1050.5 335.8,1050.1 339.7,1050.4 343.7,1051.2 347.7,1052.5 351.6,1054.1 355.6,1055.9 359.6,1058.1 363.5,1060.7 367.5,1064.1 371.5,1068.2 375.4,1073.2 379.4,1078.8 383.4,1084.8 387.3,1090.9 391.3,1097.1 395.2,1103.3 399.2,1109.6 403.2,1116.1 407.1,1122.7 411.1,1129.3 415.1,1135.7 419.0,1141.8 423.0,1147.5 427.0,1153.0 430.9,1158.5 434.9,1164.2 438.8,1170.3 442.8,1177.1 446.8,1184.7 450.7,1192.7 454.7,1200.5 458.7,1207.3 462.6,1213.0 466.6,1217.5 470.6,1221.5 474.5,1225.1 478.5,1228.6 482.5,1232.0 486.4,1235.3 490.4,1238.5 494.3,1241.6 498.3,1244.4 502.3,1246.7 506.2,1248.5 510.2,1249.5 514.2,1249.6 518.1,1248.6 522.1,1247.1 526.1,1245.3 530.0,1243.7 534.0,1241.6 537.9,1239.6 541.9,1237.6 545.9,1235.6 549.8,1233.4 553.8,1230.9 557.8,1228.2 561.7,1225.2 565.7,1221.7 569.7,1218.3 573.6,1215.0 577.6,1212.0 581.6,1209.2 585.5,1206.3 589.5,1203.5 597.4,1197.7 605.3,1190.7 613.3,1183.3 621.2,1176.0 629.1,1168.3 637.0,1160.3 645.0,1151.4 652.9,1141.2 660.8,1129.3 668.8,1117.1 676.7,1105.9 684.6,1095.9 692.5,1086.8 700.5,1078.1 708.4,1069.9 716.3,1061.5 724.3,1053.0 732.2,1044.5 740.1,1034.9 748.0,1024.8 756.0,1014.9 763.9,1005.7 771.8,996.7 779.8,988.3 787.7,980.0 795.6,972.2 803.5,965.4 811.5,959.1 819.4,953.7 827.3,949.2 835.2,946.2 843.2,944.4 851.1,943.2 859.0,942.9 867.0,943.9 874.9,946.1 882.8,949.6 890.7,954.6 898.7,961.2 906.6,969.7 914.5,980.2 922.5,992.4 930.4,1006.1 938.3,1020.6 946.2,1034.8 954.2,1048.9 962.1,1063.3 970.0,1078.1 978.0,1093.5 985.9,1109.7 993.8,1125.2 1001.7,1139.2 1009.7,1154.7 1017.6,1172.9 1025.5,1190.5 1033.4,1206.4 1041.4,1221.4 1049.3,1236.5 1057.2,1250.9 1065.2,1263.9 1073.1,1275.6 1081.0,1286.4 1088.9,1296.5 1096.9,1305.8 1104.8,1314.3 1112.7,1321.8 1120.7,1328.1 1128.6,1333.8 1136.5,1339.0 1144.4,1343.8 1152.4,1348.2 1160.3,1352.3 1168.2,1356.0 1176.2,1359.4 1184.1,1362.5 1192.0,1365.3 1199.9,1367.6 1207.9,1369.5 1215.8,1371.1 1223.7,1372.7 1231.6,1374.1 1239.6,1375.5 1247.5,1376.7 1255.4,1377.9 1263.4,1379.0 1271.3,1380.1 1279.2,1381.1 1287.1,1382.0 1295.1,1382.9 1303.0,1383.6 1310.9,1384.2 1318.9,1384.8 1326.8,1385.4 1334.7,1386.0 1342.6,1386.5 1350.6,1387.0 1358.5,1387.5 1366.4,1387.9 1374.4,1388.3 1382.3,1388.7 1390.2,1389.0 1398.1,1389.4 1406.1,1389.7 1414.0,1390.0 1421.9,1390.3 1429.8,1390.6 1437.8,1390.8 1445.7,1391.1 1453.6,1391.3 1461.6,1391.6 1469.5,1391.8 1477.4,1392.0 1485.3,1392.1 1493.3,1392.3 1501.2,1392.5 1509.1,1392.6 1517.1,1392.8 1525.0,1392.9 1532.9,1393.0 1540.8,1393.1 1548.8,1393.2 1556.7,1393.4 1564.6,1393.5 1572.6,1393.6 1580.5,1393.7 1588.4,1393.8 1596.3,1393.9 1604.3,1394.0 1612.2,1394.0 1620.1,1394.1 1628.0,1394.2 1636.0,1394.3 1643.9,1394.4 1651.8,1394.5 1659.8,1394.5 1667.7,1394.6 1675.6,1394.7 1683.5,1394.8 1691.5,1394.9 1699.4,1395.0 1707.3,1395.0 1715.3,1395.1 1723.2,1395.2 1731.1,1395.3 1739.0,1395.4 1747.0,1395.4 1754.9,1395.5 1762.8,1395.6 1770.8,1395.7 1778.7,1395.7 1810.4,1396.0 1842.1,1396.3 1873.8,1396.6 1905.5,1396.9 1937.2,1397.2 1969.0,1397.6 2000.7,1398.0 2032.4,1398.3 2064.1,1398.6 2095.8,1398.7"/>
<polyline points="312.0,1063.7 316.0,1060.7 319.9,1057.7 323.9,1054.8 327.9,1052.6 331.8,1051.2 335.8,1050.7 339.7,1051.0 343.7,1051.9 347.7,1053.2 351.6,1054.7 355.6,1056.6 359.6,1058.8 363.5,1061.4 367.5,1064.8 371.5,1069.0 375.4,1074.0 379.4,1079.6 383.4,1085.7 387.3,1091.9 391.3,1098.2 395.2,1104.5 399.2,1111.0 403.2,1117.6 407.1,1124.4 411.1,1131.2 415.1,1137.8 419.0,1144.1 423.0,1150.0 427.0,1155.7 430.9,1161.3 434.9,1167.0 438.8,1173.1 442.8,1179.9 446.8,1187.4 450.7,1195.3 454.7,1202.9 458.7,1209.6 462.6,1215.0 466.6,1219.4 470.6,1223.1 474.5,1226.6 478.5,1229.8 482.5,1233.0 486.4,1236.1 490.4,1239.2 494.3,1242.2 498.3,1244.8 502.3,1246.9 506.2,1248.5 510.2,1249.2 514.2,1249.0 518.1,1247.7 522.1,1245.8 526.1,1243.8 530.0,1242.0 534.0,1239.8 537.9,1237.8 541.9,1235.9 545.9,1233.8 549.8,1231.5 553.8,1229.0 557.8,1226.2 561.7,1223.0 565.7,1219.4 569.7,1215.7 573.6,1212.2 577.6,1209.0 581.6,1206.0 585.5,1202.9 589.5,1199.9 597.4,1193.4 605.3,1185.7 613.3,1177.6 621.2,1169.7 629.1,1161.7 637.0,1153.3 645.0,1144.0 652.9,1133.6 660.8,1121.9 668.8,1109.9 676.7,1098.8 684.6,1089.1 692.5,1080.4 700.5,1072.2 708.4,1064.6 716.3,1057.0 724.3,1049.3 732.2,1041.5 740.1,1032.6 748.0,1023.2 756.0,1013.8 763.9,1005.0 771.8,996.2 779.8,987.9 787.7,979.8 795.6,972.2 803.5,965.4 811.5,959.1 819.4,953.6 827.3,949.2 835.2,946.2 843.2,944.4 851.1,943.2 859.0,942.9 867.0,943.9 874.9,946.2 882.8,949.8 890.7,954.8 898.7,961.6 906.6,970.3 914.5,981.0 922.5,993.5 930.4,1007.7 938.3,1022.5 946.2,1037.0 954.2,1051.3 962.1,1065.9 970.0,1080.8 978.0,1096.5 985.9,1113.1 993.8,1129.2 1001.7,1143.6 1009.7,1159.2 1017.6,1177.1 1025.5,1194.4 1033.4,1210.0 1041.4,1224.8 1049.3,1239.6 1057.2,1253.8 1065.2,1266.6 1073.1,1278.0 1081.0,1288.6 1088.9,1298.4 1096.9,1307.6 1104.8,1315.9 1112.7,1323.2 1120.7,1329.5 1128.6,1335.0 1136.5,1340.1 1144.4,1344.8 1152.4,1349.1 1160.3,1353.1 1168.2,1356.8 1176.2,1360.2 1184.1,1363.3 1192.0,1366.0 1199.9,1368.3 1207.9,1370.2 1215.8,1371.8 1223.7,1373.3 1231.6,1374.7 1239.6,1376.0 1247.5,1377.2 1255.4,1378.4 1263.4,1379.5 1271.3,1380.6 1279.2,1381.5 1287.1,1382.5 1295.1,1383.3 1303.0,1384.0 1310.9,1384.6 1318.9,1385.2 1326.8,1385.7 1334.7,1386.3 1342.6,1386.8 1350.6,1387.3 1358.5,1387.7 1366.4,1388.1 1374.4,1388.5 1382.3,1388.9 1390.2,1389.2 1398.1,1389.6 1406.1,1389.9 1414.0,1390.2 1421.9,1390.5 1429.8,1390.7 1437.8,1391.0 1445.7,1391.2 1453.6,1391.5 1461.6,1391.7 1469.5,1391.9 1477.4,1392.1 1485.3,1392.3 1493.3,1392.4 1501.2,1392.6 1509.1,1392.7 1517.1,1392.8 1525.0,1393.0 1532.9,1393.1 1540.8,1393.2 1548.8,1393.3 1556.7,1393.4 1564.6,1393.5 1572.6,1393.6 1580.5,1393.7 1588.4,1393.8 1596.3,1393.9 1604.3,1394.0 1612.2,1394.1 1620.1,1394.2 1628.0,1394.2 1636.0,1394.3 1643.9,1394.4 1651.8,1394.5 1659.8,1394.6 1667.7,1394.6 1675.6,1394.7 1683.5,1394.8 1691.5,1394.9 1699.4,1395.0 1707.3,1395.0 1715.3,1395.1 1723.2,1395.2 1731.1,1395.3 1739.0,1395.4 1747.0,1395.4 1754.9,1395.5 1762.8,1395.6 1770.8,1395.7 1778.7,1395.7 1810.4,1396.0 1842.1,1396.3 1873.8,1396.6 1905.5,1396.9 1937.2,1397.2 1969.0,1397.6 2000.7,1398.0 2032.4,1398.3 2064.1,1398.6 2095.8,1398.7"/>
<polyline points="312.0,1064.3 316.0,1061.4 319.9,1058.3 323.9,1055.5 327.9,1053.2 331.8,1051.8 335.8,1051.4 339.7,1051.7 343.7,1052.5 347.7,1053.8 351.6,1055.4 355.6,1057.2 359.6,1059.4 363.5,1062.1 367.5,1065.5 371.5,1069.7 375.4,1074.7 379.4,1080.4 383.4,1086.5 387.3,1092.8 391.3,1099.1 395.2,1105.5 399.2,1112.1 403.2,1118.8 407.1,1125.8 411.1,1132.7 415.1,1139.4 419.0,1145.8 423.0,1151.9 427.0,1157.7 430.9,1163.4 434.9,1169.2 438.8,1175.3 442.8,1182.1 446.8,1189.5 450.7,1197.3 454.7,1204.8 458.7,1211.3 462.6,1216.6 466.6,1220.8 470.6,1224.4 474.5,1227.7 478.5,1230.8 482.5,1233.8 486.4,1236.8 490.4,1239.8 494.3,1242.6 498.3,1245.1 502.3,1247.1 506.2,1248.4 510.2,1248.9 514.2,1248.3 518.1,1246.7 522.1,1244.5 526.1,1242.3 530.0,1240.3 534.0,1238.1 537.9,1236.1 541.9,1234.2 545.9,1232.1 549.8,1229.8 553.8,1227.2 557.8,1224.3 561.7,1220.9 565.7,1217.1 569.7,1213.2 573.6,1209.5 577.6,1206.2 581.6,1203.0 585.5,1199.7 589.5,1196.4 597.4,1189.4 605.3,1180.9 613.3,1172.1 621.2,1163.7 629.1,1155.3 637.0,1146.6 645.0,1137.0 652.9,1126.4 660.8,1114.7 668.8,1102.9 676.7,1092.1 684.6,1082.6 692.5,1074.3 700.5,1066.6 708.4,1059.6 716.3,1052.6 724.3,1045.7 732.2,1038.6 740.1,1030.4 748.0,1021.7 756.0,1012.9 763.9,1004.3 771.8,995.8 779.8,987.6 787.7,979.7 795.6,972.1 803.5,965.4 811.5,959.1 819.4,953.6 827.3,949.2 835.2,946.2 843.2,944.3 851.1,943.2 859.0,942.9 867.0,943.9 874.9,946.3 882.8,949.9 890.7,955.0 898.7,961.9 906.6,970.8 914.5,981.8 922.5,994.6 930.4,1009.2 938.3,1024.4 946.2,1039.3 954.2,1053.8 962.1,1068.5 970.0,1083.6 978.0,1099.5 985.9,1116.6 993.8,1133.3 1001.7,1148.1 1009.7,1163.7 1017.6,1181.2 1025.5,1198.2 1033.4,1213.6 1041.4,1228.2 1049.3,1242.7 1057.2,1256.6 1065.2,1269.1 1073.1,1280.4 1081.0,1290.7 1088.9,1300.4 1096.9,1309.3 1104.8,1317.5 1112.7,1324.6 1120.7,1330.7 1128.6,1336.1 1136.5,1341.1 1144.4,1345.7 1152.4,1350.0 1160.3,1353.9 1168.2,1357.5 1176.2,1360.9 1184.1,1363.9 1192.0,1366.7 1199.9,1368.9 1207.9,1370.7 1215.8,1372.3 1223.7,1373.7 1231.6,1375.1 1239.6,1376.4 1247.5,1377.6 1255.4,1378.7 1263.4,1379.9 1271.3,1380.9 1279.2,1381.9 1287.1,1382.8 1295.1,1383.6 1303.0,1384.3 1310.9,1384.9 1318.9,1385.5 1326.8,1386.0 1334.7,1386.5 1342.6,1387.0 1350.6,1387.5 1358.5,1387.9 1366.4,1388.3 1374.4,1388.7 1382.3,1389.1 1390.2,1389.4 1398.1,1389.7 1406.1,1390.0 1414.0,1390.3 1421.9,1390.6 1429.8,1390.8 1437.8,1391.1 1445.7,1391.3 1453.6,1391.6 1461.6,1391.8 1469.5,1392.0 1477.4,1392.2 1485.3,1392.3 1493.3,1392.5 1501.2,1392.6 1509.1,1392.8 1517.1,1392.9 1525.0,1393.0 1532.9,1393.1 1540.8,1393.3 1548.8,1393.4 1556.7,1393.5 1564.6,1393.6 1572.6,1393.7 1580.5,1393.8 1588.4,1393.8 1596.3,1393.9 1604.3,1394.0 1612.2,1394.1 1620.1,1394.2 1628.0,1394.3 1636.0,1394.3 1643.9,1394.4 1651.8,1394.5 1659.8,1394.6 1667.7,1394.6 1675.6,1394.7 1683.5,1394.8 1691.5,1394.9 1699.4,1395.0 1707.3,1395.0 1715.3,1395.1 1723.2,1395.2 1731.1,1395.3 1739.0,1395.4 1747.0,1395.4 1754.9,1395.5 1762.8,1395.6 1770.8,1395.7 1778.7,1395.7 1810.4,1396.0 1842.1,1396.3 1873.8,1396.6 1905.5,1396.9 1937.2,1397.2 1969.0,1397.6 2000.7,1398.0 2032.4,1398.3 2064.1,1398.6 2095.8,1398.7"/>
<polyline points="312.0,1064.9 316.0,1062.0 319.9,1059.0 323.9,1056.1 327.9,1053.9 331.8,1052.5 335.8,1052.0 339.7,1052.3 343.7,1053.2 347.7,1054.5 351.6,1056.0 355.6,1057.9 359.6,1060.1 363.5,1062.8 367.5,1066.2 371.5,1070.4 375.4,1075.4 379.4,1081.1 383.4,1087.2 387.3,1093.5 391.3,1100.0 395.2,1106.4 399.2,1113.1 403.2,1119.9 407.1,1126.9 411.1,1133.9 415.1,1140.8 419.0,1147.3 423.0,1153.4 427.0,1159.3 430.9,1165.0 434.9,1170.9 438.8,1177.0 442.8,1183.8 446.8,1191.2 450.7,1198.9 454.7,1206.2 458.7,1212.6 462.6,1217.8 466.6,1222.0 470.6,1225.5 474.5,1228.6 478.5,1231.6 482.5,1234.5 486.4,1237.4 490.4,1240.3 494.3,1243.0 498.3,1245.3 502.3,1247.2 506.2,1248.3 510.2,1248.5 514.2,1247.7 518.1,1245.8 522.1,1243.3 526.1,1240.8 530.0,1238.7 534.0,1236.4 537.9,1234.5 541.9,1232.5 545.9,1230.4 549.8,1228.0 553.8,1225.4 557.8,1222.4 561.7,1218.9 565.7,1214.8 569.7,1210.7 573.6,1206.9 577.6,1203.4 581.6,1200.0 585.5,1196.5 589.5,1193.0 597.4,1185.3 605.3,1176.2 613.3,1166.7 621.2,1157.7 629.1,1148.9 637.0,1139.8 645.0,1129.9 652.9,1119.2 660.8,1107.6 668.8,1095.9 676.7,1085.3 684.6,1076.2 692.5,1068.2 700.5,1061.0 708.4,1054.5 716.3,1048.3 724.3,1042.1 732.2,1035.7 740.1,1028.3 748.0,1020.2 756.0,1011.9 763.9,1003.6 771.8,995.3 779.8,987.3 787.7,979.5 795.6,972.1 803.5,965.4 811.5,959.1 819.4,953.6 827.3,949.2 835.2,946.2 843.2,944.3 851.1,943.2 859.0,942.9 867.0,943.9 874.9,946.4 882.8,950.1 890.7,955.3 898.7,962.3 906.6,971.4 914.5,982.6 922.5,995.8 930.4,1010.8 938.3,1026.4 946.2,1041.5 954.2,1056.2 962.1,1071.1 970.0,1086.3 978.0,1102.5 985.9,1120.1 993.8,1137.3 1001.7,1152.5 1009.7,1168.2 1017.6,1185.4 1025.5,1202.0 1033.4,1217.2 1041.4,1231.5 1049.3,1245.8 1057.2,1259.4 1065.2,1271.6 1073.1,1282.6 1081.0,1292.8 1088.9,1302.2 1096.9,1311.0 1104.8,1319.0 1112.7,1326.0 1120.7,1331.9 1128.6,1337.1 1136.5,1342.0 1144.4,1346.5 1152.4,1350.7 1160.3,1354.6 1168.2,1358.2 1176.2,1361.5 1184.1,1364.5 1192.0,1367.2 1199.9,1369.4 1207.9,1371.2 1215.8,1372.7 1223.7,1374.2 1231.6,1375.5 1239.6,1376.7 1247.5,1377.9 1255.4,1379.1 1263.4,1380.2 1271.3,1381.2 1279.2,1382.2 1287.1,1383.1 1295.1,1383.9 1303.0,1384.6 1310.9,1385.2 1318.9,1385.7 1326.8,1386.3 1334.7,1386.8 1342.6,1387.2 1350.6,1387.7 1358.5,1388.1 1366.4,1388.5 1374.4,1388.8 1382.3,1389.2 1390.2,1389.5 1398.1,1389.8 1406.1,1390.1 1414.0,1390.4 1421.9,1390.7 1429.8,1390.9 1437.8,1391.2 1445.7,1391.4 1453.6,1391.6 1461.6,1391.8 1469.5,1392.0 1477.4,1392.2 1485.3,1392.4 1493.3,1392.6 1501.2,1392.7 1509.1,1392.8 1517.1,1393.0 1525.0,1393.1 1532.9,1393.2 1540.8,1393.3 1548.8,1393.4 1556.7,1393.5 1564.6,1393.6 1572.6,1393.7 1580.5,1393.8 1588.4,1393.9 1596.3,1394.0 1604.3,1394.0 1612.2,1394.1 1620.1,1394.2 1628.0,1394.3 1636.0,1394.4 1643.9,1394.4 1651.8,1394.5 1659.8,1394.6 1667.7,1394.7 1675.6,1394.7 1683.5,1394.8 1691.5,1394.9 1699.4,1395.0 1707.3,1395.0 1715.3,1395.1 1723.2,1395.2 1731.1,1395.3 1739.0,1395.4 1747.0,1395.4 1754.9,1395.5 1762.8,1395.6 1770.8,1395.7 1778.7,1395.7 1810.4,1396.0 1842.1,1396.3 1873.8,1396.6 1905.5,1396.9 1937.2,1397.2 1969.0,1397.6 2000.7,1398.0 2032.4,1398.3 2064.1,1398.6 2095.8,1398.7"/>
<polyline points="312.0,1065.5 316.0,1062.6 319.9,1059.6 323.9,1056.7 327.9,1054.5 331.8,1053.1 335.8,1052.6 339.7,1052.9 343.7,1053.8 347.7,1055.1 351.6,1056.6 355.6,1058.5 359.6,1060.7 363.5,1063.4 367.5,1066.8 371.5,1071.0 375.4,1076.1 379.4,1081.8 383.4,1087.9 387.3,1094.2 391.3,1100.7 395.2,1107.2 399.2,1113.9 403.2,1120.8 407.1,1127.9 411.1,1134.9 415.1,1141.8 419.0,1148.4 423.0,1154.6 427.0,1160.5 430.9,1166.3 434.9,1172.2 438.8,1178.4 442.8,1185.1 446.8,1192.5 450.7,1200.1 454.7,1207.4 458.7,1213.7 462.6,1218.8 466.6,1222.9 470.6,1226.3 474.5,1229.4 478.5,1232.2 482.5,1235.0 486.4,1237.8 490.4,1240.7 494.3,1243.3 498.3,1245.5 502.3,1247.2 506.2,1248.2 510.2,1248.2 514.2,1247.1 518.1,1244.9 522.1,1242.1 526.1,1239.4 530.0,1237.1 534.0,1234.9 537.9,1232.9 541.9,1230.9 545.9,1228.8 549.8,1226.4 553.8,1223.8 557.8,1220.6 561.7,1216.9 565.7,1212.7 569.7,1208.4 573.6,1204.4 577.6,1200.8 581.6,1197.2 585.5,1193.5 589.5,1189.8 597.4,1181.6 605.3,1171.8 613.3,1161.6 621.2,1152.2 629.1,1143.0 637.0,1133.6 645.0,1123.4 652.9,1112.5 660.8,1101.0 668.8,1089.4 676.7,1079.0 684.6,1070.1 692.5,1062.5 700.5,1055.8 708.4,1049.9 716.3,1044.3 724.3,1038.8 732.2,1033.1 740.1,1026.3 748.0,1018.8 756.0,1011.0 763.9,1003.0 771.8,994.8 779.8,987.0 787.7,979.4 795.6,972.1 803.5,965.4 811.5,959.1 819.4,953.6 827.3,949.2 835.2,946.2 843.2,944.3 851.1,943.2 859.0,942.9 867.0,943.9 874.9,946.4 882.8,950.2 890.7,955.5 898.7,962.7 906.6,971.9 914.5,983.4 922.5,996.9 930.4,1012.3 938.3,1028.4 946.2,1043.8 954.2,1058.7 962.1,1073.7 970.0,1089.1 978.0,1105.6 985.9,1123.5 993.8,1141.3 1001.7,1157.0 1009.7,1172.6 1017.6,1189.5 1025.5,1205.8 1033.4,1220.7 1041.4,1234.9 1049.3,1248.8 1057.2,1262.1 1065.2,1274.2 1073.1,1284.9 1081.0,1294.8 1088.9,1304.0 1096.9,1312.6 1104.8,1320.5 1112.7,1327.3 1120.7,1333.0 1128.6,1338.2 1136.5,1342.9 1144.4,1347.3 1152.4,1351.5 1160.3,1355.3 1168.2,1358.8 1176.2,1362.1 1184.1,1365.1 1192.0,1367.7 1199.9,1369.9 1207.9,1371.6 1215.8,1373.2 1223.7,1374.5 1231.6,1375.8 1239.6,1377.0 1247.5,1378.2 1255.4,1379.4 1263.4,1380.5 1271.3,1381.5 1279.2,1382.5 1287.1,1383.4 1295.1,1384.1 1303.0,1384.8 1310.9,1385.4 1318.9,1385.9 1326.8,1386.5 1334.7,1386.9 1342.6,1387.4 1350.6,1387.8 1358.5,1388.2 1366.4,1388.6 1374.4,1389.0 1382.3,1389.3 1390.2,1389.6 1398.1,1389.9 1406.1,1390.2 1414.0,1390.5 1421.9,1390.8 1429.8,1391.0 1437.8,1391.3 1445.7,1391.5 1453.6,1391.7 1461.6,1391.9 1469.5,1392.1 1477.4,1392.3 1485.3,1392.5 1493.3,1392.6 1501.2,1392.8 1509.1,1392.9 1517.1,1393.0 1525.0,1393.1 1532.9,1393.2 1540.8,1393.3 1548.8,1393.4 1556.7,1393.5 1564.6,1393.6 1572.6,1393.7 1580.5,1393.8 1588.4,1393.9 1596.3,1394.0 1604.3,1394.1 1612.2,1394.1 1620.1,1394.2 1628.0,1394.3 1636.0,1394.4 1643.9,1394.4 1651.8,1394.5 1659.8,1394.6 1667.7,1394.7 1675.6,1394.7 1683.5,1394.8 1691.5,1394.9 1699.4,1395.0 1707.3,1395.0 1715.3,1395.1 1723.2,1395.2 1731.1,1395.3 1739.0,1395.4 1747.0,1395.4 1754.9,1395.5 1762.8,1395.6 1770.8,1395.7 1778.7,1395.7 1810.4,1396.0 1842.1,1396.3 1873.8,1396.6 1905.5,1396.9 1937.2,1397.2 1969.0,1397.6 2000.7,1398.0 2032.4,1398.3 2064.1,1398.6 2095.8,1398.7"/>
<polyline points="312.0,1066.1 316.0,1063.1 319.9,1060.1 323.9,1057.3 327.9,1055.1 331.8,1053.7 335.8,1053.2 339.7,1053.5 343.7,1054.4 347.7,1055.6 351.6,1057.2 355.6,1059.1 359.6,1061.3 363.5,1064.0 367.5,1067.4 371.5,1071.6 375.4,1076.7 379.4,1082.4 383.4,1088.5 387.3,1094.9 391.3,1101.4 395.2,1107.9 399.2,1114.6 403.2,1121.6 407.1,1128.7 411.1,1135.8 415.1,1142.8 419.0,1149.4 423.0,1155.6 427.0,1161.6 430.9,1167.4 434.9,1173.3 438.8,1179.5 442.8,1186.2 446.8,1193.5 450.7,1201.1 454.7,1208.3 458.7,1214.6 462.6,1219.7 466.6,1223.7 470.6,1227.0 474.5,1230.0 478.5,1232.8 482.5,1235.5 486.4,1238.3 490.4,1241.0 494.3,1243.6 498.3,1245.7 502.3,1247.3 506.2,1248.0 510.2,1247.8 514.2,1246.5 518.1,1244.0 522.1,1240.9 526.1,1238.0 530.0,1235.6 534.0,1233.4 537.9,1231.4 541.9,1229.4 545.9,1227.3 549.8,1224.9 553.8,1222.2 557.8,1218.9 561.7,1215.1 565.7,1210.7 569.7,1206.2 573.6,1202.0 577.6,1198.2 581.6,1194.5 585.5,1190.6 589.5,1186.7 597.4,1177.9 605.3,1167.5 613.3,1156.7 621.2,1146.8 629.1,1137.2 637.0,1127.5 645.0,1117.0 652.9,1106.0 660.8,1094.5 668.8,1083.1 676.7,1072.9 684.6,1064.3 692.5,1057.0 700.5,1050.7 708.4,1045.3 716.3,1040.4 724.3,1035.5 732.2,1030.5 740.1,1024.3 748.0,1017.4 756.0,1010.1 763.9,1002.4 771.8,994.4 779.8,986.7 787.7,979.2 795.6,972.1 803.5,965.4 811.5,959.1 819.4,953.6 827.3,949.2 835.2,946.2 843.2,944.3 851.1,943.2 859.0,942.9 867.0,944.0 874.9,946.5 882.8,950.4 890.7,955.8 898.7,963.1 906.6,972.5 914.5,984.2 922.5,998.1 930.4,1013.9 938.3,1030.3 946.2,1046.0 954.2,1061.1 962.1,1076.3 970.0,1091.9 978.0,1108.6 985.9,1127.0 993.8,1145.3 1001.7,1161.5 1009.7,1177.1 1017.6,1193.6 1025.5,1209.6 1033.4,1224.3 1041.4,1238.2 1049.3,1251.9 1057.2,1264.9 1065.2,1276.6 1073.1,1287.2 1081.0,1296.9 1088.9,1305.8 1096.9,1314.2 1104.8,1321.9 1112.7,1328.5 1120.7,1334.2 1128.6,1339.1 1136.5,1343.8 1144.4,1348.1 1152.4,1352.1 1160.3,1355.9 1168.2,1359.4 1176.2,1362.6 1184.1,1365.6 1192.0,1368.2 1199.9,1370.4 1207.9,1372.1 1215.8,1373.5 1223.7,1374.9 1231.6,1376.1 1239.6,1377.3 1247.5,1378.5 1255.4,1379.6 1263.4,1380.7 1271.3,1381.8 1279.2,1382.7 1287.1,1383.6 1295.1,1384.4 1303.0,1385.0 1310.9,1385.6 1318.9,1386.2 1326.8,1386.7 1334.7,1387.1 1342.6,1387.6 1350.6,1388.0 1358.5,1388.4 1366.4,1388.8 1374.4,1389.1 1382.3,1389.4 1390.2,1389.7 1398.1,1390.0 1406.1,1390.3 1414.0,1390.6 1421.9,1390.8 1429.8,1391.1 1437.8,1391.3 1445.7,1391.6 1453.6,1391.8 1461.6,1392.0 1469.5,1392.2 1477.4,1392.4 1485.3,1392.5 1493.3,1392.7 1501.2,1392.8 1509.1,1392.9 1517.1,1393.1 1525.0,1393.2 1532.9,1393.3 1540.8,1393.4 1548.8,1393.5 1556.7,1393.6 1564.6,1393.7 1572.6,1393.8 1580.5,1393.8 1588.4,1393.9 1596.3,1394.0 1604.3,1394.1 1612.2,1394.2 1620.1,1394.2 1628.0,1394.3 1636.0,1394.4 1643.9,1394.5 1651.8,1394.5 1659.8,1394.6 1667.7,1394.7 1675.6,1394.7 1683.5,1394.8 1691.5,1394.9 1699.4,1395.0 1707.3,1395.0 1715.3,1395.1 1723.2,1395.2 1731.1,1395.3 1739.0,1395.4 1747.0,1395.4 1754.9,1395.5 1762.8,1395.6 1770.8,1395.7 1778.7,1395.7 1810.4,1396.0 1842.1,1396.3 1873.8,1396.6 1905.5,1396.9 1937.2,1397.2 1969.0,1397.6 2000.7,1398.0 2032.4,1398.3 2064.1,1398.6 2095.8,1398.7"/>
<polyline points="312.0,1066.7 316.0,1063.7 319.9,1060.7 323.9,1057.9 327.9,1055.6 331.8,1054.3 335.8,1053.8 339.7,1054.1 343.7,1054.9 347.7,1056.2 351.6,1057.8 355.6,1059.6 359.6,1061.8 363.5,1064.5 367.5,1068.0 371.5,1072.2 375.4,1077.3 379.4,1083.0 383.4,1089.1 387.3,1095.5 391.3,1102.0 395.2,1108.6 399.2,1115.3 403.2,1122.3 407.1,1129.4 411.1,1136.6 415.1,1143.6 419.0,1150.2 423.0,1156.5 427.0,1162.5 430.9,1168.3 434.9,1174.2 438.8,1180.4 442.8,1187.2 446.8,1194.4 450.7,1202.0 454.7,1209.2 458.7,1215.4 462.6,1220.4 466.6,1224.4 470.6,1227.7 474.5,1230.6 478.5,1233.3 482.5,1236.0 486.4,1238.6 490.4,1241.3 494.3,1243.8 498.3,1245.9 502.3,1247.3 506.2,1247.9 510.2,1247.5 514.2,1245.9 518.1,1243.1 522.1,1239.8 526.1,1236.7 530.0,1234.2 534.0,1231.9 537.9,1229.9 541.9,1228.0 545.9,1225.8 549.8,1223.4 553.8,1220.6 557.8,1217.3 561.7,1213.3 565.7,1208.7 569.7,1204.1 573.6,1199.7 577.6,1195.7 581.6,1191.8 585.5,1187.8 589.5,1183.6 597.4,1174.4 605.3,1163.3 613.3,1151.9 621.2,1141.5 629.1,1131.6 637.0,1121.5 645.0,1110.8 652.9,1099.7 660.8,1088.2 668.8,1077.0 676.7,1066.9 684.6,1058.5 692.5,1051.6 700.5,1045.7 708.4,1040.8 716.3,1036.5 724.3,1032.4 732.2,1027.9 740.1,1022.4 748.0,1016.1 756.0,1009.2 763.9,1001.8 771.8,994.0 779.8,986.4 787.7,979.1 795.6,972.0 803.5,965.4 811.5,959.1 819.4,953.6 827.3,949.2 835.2,946.2 843.2,944.3 851.1,943.2 859.0,942.9 867.0,944.0 874.9,946.6 882.8,950.5 890.7,956.0 898.7,963.4 906.6,973.0 914.5,985.0 922.5,999.2 930.4,1015.4 938.3,1032.3 946.2,1048.3 954.2,1063.6 962.1,1078.9 970.0,1094.7 978.0,1111.6 985.9,1130.5 993.8,1149.3 1001.7,1165.9 1009.7,1181.6 1017.6,1197.8 1025.5,1213.4 1033.4,1227.8 1041.4,1241.5 1049.3,1254.9 1057.2,1267.6 1065.2,1279.1 1073.1,1289.4 1081.0,1298.9 1088.9,1307.6 1096.9,1315.8 1104.8,1323.3 1112.7,1329.8 1120.7,1335.3 1128.6,1340.1 1136.5,1344.6 1144.4,1348.9 1152.4,1352.8 1160.3,1356.5 1168.2,1360.0 1176.2,1363.2 1184.1,1366.1 1192.0,1368.7 1199.9,1370.8 1207.9,1372.5 1215.8,1373.9 1223.7,1375.2 1231.6,1376.5 1239.6,1377.6 1247.5,1378.8 1255.4,1379.9 1263.4,1381.0 1271.3,1382.0 1279.2,1383.0 1287.1,1383.9 1295.1,1384.6 1303.0,1385.3 1310.9,1385.8 1318.9,1386.4 1326.8,1386.9 1334.7,1387.3 1342.6,1387.7 1350.6,1388.1 1358.5,1388.5 1366.4,1388.9 1374.4,1389.2 1382.3,1389.5 1390.2,1389.8 1398.1,1390.1 1406.1,1390.4 1414.0,1390.7 1421.9,1390.9 1429.8,1391.2 1437.8,1391.4 1445.7,1391.6 1453.6,1391.8 1461.6,1392.0 1469.5,1392.2 1477.4,1392.4 1485.3,1392.6 1493.3,1392.7 1501.2,1392.9 1509.1,1393.0 1517.1,1393.1 1525.0,1393.2 1532.9,1393.3 1540.8,1393.4 1548.8,1393.5 1556.7,1393.6 1564.6,1393.7 1572.6,1393.8 1580.5,1393.9 1588.4,1393.9 1596.3,1394.0 1604.3,1394.1 1612.2,1394.2 1620.1,1394.2 1628.0,1394.3 1636.0,1394.4 1643.9,1394.5 1651.8,1394.5 1659.8,1394.6 1667.7,1394.7 1675.6,1394.7 1683.5,1394.8 1691.5,1394.9 1699.4,1395.0 1707.3,1395.0 1715.3,1395.1 1723.2,1395.2 1731.1,1395.3 1739.0,1395.4 1747.0,1395.4 1754.9,1395.5 1762.8,1395.6 1770.8,1395.6 1778.7,1395.7 1810.4,1396.0 1842.1,1396.3 1873.8,1396.6 1905.5,1396.9 1937.2,1397.2 1969.0,1397.6 2000.7,1398.0 2032.4,1398.3 2064.1,1398.6 2095.8,1398.7"/>
<polyline points="312.0,1067.2 316.0,1064.3 319.9,1061.2 323.9,1058.4 327.9,1056.2 331.8,1054.8 335.8,1054.4 339.7,1054.6 343.7,1055.5 347.7,1056.8 351.6,1058.3 355.6,1060.2 359.6,1062.4 363.5,1065.1 367.5,1068.5 371.5,1072.8 375.4,1077.9 379.4,1083.6 383.4,1089.7 387.3,1096.1 391.3,1102.6 395.2,1109.2 399.2,1115.9 403.2,1122.9 407.1,1130.1 411.1,1137.3 415.1,1144.3 419.0,1151.0 423.0,1157.3 427.0,1163.3 430.9,1169.1 434.9,1175.0 438.8,1181.3 442.8,1188.0 446.8,1195.2 450.7,1202.7 454.7,1209.9 458.7,1216.0 462.6,1221.0 466.6,1225.0 470.6,1228.2 474.5,1231.1 478.5,1233.7 482.5,1236.4 486.4,1239.0 490.4,1241.6 494.3,1244.0 498.3,1246.0 502.3,1247.3 506.2,1247.7 510.2,1247.1 514.2,1245.3 518.1,1242.3 522.1,1238.7 526.1,1235.4 530.0,1232.7 534.0,1230.5 537.9,1228.5 541.9,1226.5 545.9,1224.4 549.8,1221.9 553.8,1219.1 557.8,1215.7 561.7,1211.5 565.7,1206.8 569.7,1202.0 573.6,1197.5 577.6,1193.3 581.6,1189.3 585.5,1185.1 589.5,1180.7 597.4,1170.9 605.3,1159.2 613.3,1147.2 621.2,1136.3 629.1,1126.1 637.0,1115.7 645.0,1104.7 652.9,1093.5 660.8,1082.0 668.8,1071.0 676.7,1061.1 684.6,1053.0 692.5,1046.3 700.5,1040.8 708.4,1036.5 716.3,1032.8 724.3,1029.3 732.2,1025.4 740.1,1020.5 748.0,1014.8 756.0,1008.3 763.9,1001.2 771.8,993.6 779.8,986.1 787.7,979.0 795.6,972.0 803.5,965.4 811.5,959.1 819.4,953.6 827.3,949.2 835.2,946.2 843.2,944.3 851.1,943.2 859.0,942.9 867.0,944.0 874.9,946.7 882.8,950.7 890.7,956.3 898.7,963.8 906.6,973.6 914.5,985.8 922.5,1000.4 930.4,1017.0 938.3,1034.3 946.2,1050.6 954.2,1066.0 962.1,1081.5 970.0,1097.4 978.0,1114.7 985.9,1133.9 993.8,1153.4 1001.7,1170.4 1009.7,1186.1 1017.6,1201.9 1025.5,1217.2 1033.4,1231.4 1041.4,1244.8 1049.3,1257.9 1057.2,1270.4 1065.2,1281.6 1073.1,1291.7 1081.0,1300.9 1088.9,1309.4 1096.9,1317.4 1104.8,1324.8 1112.7,1331.1 1120.7,1336.4 1128.6,1341.1 1136.5,1345.5 1144.4,1349.6 1152.4,1353.5 1160.3,1357.2 1168.2,1360.6 1176.2,1363.7 1184.1,1366.6 1192.0,1369.2 1199.9,1371.2 1207.9,1372.9 1215.8,1374.3 1223.7,1375.6 1231.6,1376.8 1239.6,1377.9 1247.5,1379.0 1255.4,1380.2 1263.4,1381.2 1271.3,1382.3 1279.2,1383.2 1287.1,1384.1 1295.1,1384.9 1303.0,1385.5 1310.9,1386.1 1318.9,1386.6 1326.8,1387.0 1334.7,1387.5 1342.6,1387.9 1350.6,1388.3 1358.5,1388.7 1366.4,1389.0 1374.4,1389.3 1382.3,1389.6 1390.2,1389.9 1398.1,1390.2 1406.1,1390.5 1414.0,1390.7 1421.9,1391.0 1429.8,1391.2 1437.8,1391.5 1445.7,1391.7 1453.6,1391.9 1461.6,1392.1 1469.5,1392.3 1477.4,1392.5 1485.3,1392.6 1493.3,1392.8 1501.2,1392.9 1509.1,1393.0 1517.1,1393.1 1525.0,1393.2 1532.9,1393.4 1540.8,1393.5 1548.8,1393.5 1556.7,1393.6 1564.6,1393.7 1572.6,1393.8 1580.5,1393.9 1588.4,1394.0 1596.3,1394.0 1604.3,1394.1 1612.2,1394.2 1620.1,1394.3 1628.0,1394.3 1636.0,1394.4 1643.9,1394.5 1651.8,1394.5 1659.8,1394.6 1667.7,1394.7 1675.6,1394.7 1683.5,1394.8 1691.5,1394.9 1699.4,1395.0 1707.3,1395.0 1715.3,1395.1 1723.2,1395.2 1731.1,1395.3 1739.0,1395.3 1747.0,1395.4 1754.9,1395.5 1762.8,1395.6 1770.8,1395.6 1778.7,1395.7 1810.4,1396.0 1842.1,1396.3 1873.8,1396.6 1905.5,1396.9 1937.2,1397.2 1969.0,1397.6 2000.7,1398.0 2032.4,1398.3 2064.1,1398.6 2095.8,1398.7"/>
<polyline points="312.0,1067.7 316.0,1064.8 319.9,1061.8 323.9,1059.0 327.9,1056.7 331.8,1055.4 335.8,1054.9 339.7,1055.2 343.7,1056.0 347.7,1057.3 351.6,1058.9 355.6,1060.7 359.6,1062.9 363.5,1065.6 367.5,1069.1 371.5,1073.3 375.4,1078.4 379.4,1084.1 383.4,1090.2 387.3,1096.6 391.3,1103.1 395.2,1109.8 399.2,1116.5 403.2,1123.5 407.1,1130.7 411.1,1137.9 415.1,1144.9 419.0,1151.6 423.0,1157.9 427.0,1163.9 430.9,1169.8 434.9,1175.7 438.8,1182.0 442.8,1188.7 446.8,1195.9 450.7,1203.4 454.7,1210.5 458.7,1216.6 462.6,1221.6 466.6,1225.5 470.6,1228.7 474.5,1231.5 478.5,1234.1 482.5,1236.7 486.4,1239.3 490.4,1241.9 494.3,1244.2 498.3,1246.1 502.3,1247.3 506.2,1247.6 510.2,1246.8 514.2,1244.8 518.1,1241.5 522.1,1237.7 526.1,1234.1 530.0,1231.4 534.0,1229.1 537.9,1227.2 541.9,1225.2 545.9,1223.0 549.8,1220.5 553.8,1217.6 557.8,1214.2 561.7,1209.9 565.7,1205.0 569.7,1200.0 573.6,1195.3 577.6,1191.0 581.6,1186.8 585.5,1182.5 589.5,1177.9 597.4,1167.7 605.3,1155.4 613.3,1142.8 621.2,1131.5 629.1,1120.9 637.0,1110.2 645.0,1099.0 652.9,1087.6 660.8,1076.2 668.8,1065.3 676.7,1055.6 684.6,1047.7 692.5,1041.4 700.5,1036.3 708.4,1032.4 716.3,1029.3 724.3,1026.4 732.2,1023.1 740.1,1018.8 748.0,1013.5 756.0,1007.5 763.9,1000.7 771.8,993.2 779.8,985.9 787.7,978.8 795.6,972.0 803.5,965.4 811.5,959.1 819.4,953.6 827.3,949.2 835.2,946.2 843.2,944.3 851.1,943.2 859.0,942.9 867.0,944.0 874.9,946.8 882.8,950.8 890.7,956.5 898.7,964.2 906.6,974.2 914.5,986.7 922.5,1001.5 930.4,1018.6 938.3,1036.2 946.2,1052.8 954.2,1068.5 962.1,1084.1 970.0,1100.2 978.0,1117.7 985.9,1137.4 993.8,1157.4 1001.7,1174.8 1009.7,1190.5 1017.6,1206.0 1025.5,1221.0 1033.4,1234.9 1041.4,1248.1 1049.3,1261.0 1057.2,1273.1 1065.2,1284.1 1073.1,1293.9 1081.0,1302.9 1088.9,1311.2 1096.9,1319.0 1104.8,1326.2 1112.7,1332.3 1120.7,1337.5 1128.6,1342.0 1136.5,1346.3 1144.4,1350.4 1152.4,1354.2 1160.3,1357.8 1168.2,1361.1 1176.2,1364.2 1184.1,1367.1 1192.0,1369.6 1199.9,1371.7 1207.9,1373.3 1215.8,1374.7 1223.7,1375.9 1231.6,1377.1 1239.6,1378.2 1247.5,1379.3 1255.4,1380.4 1263.4,1381.5 1271.3,1382.5 1279.2,1383.5 1287.1,1384.4 1295.1,1385.1 1303.0,1385.7 1310.9,1386.3 1318.9,1386.8 1326.8,1387.2 1334.7,1387.7 1342.6,1388.1 1350.6,1388.4 1358.5,1388.8 1366.4,1389.1 1374.4,1389.4 1382.3,1389.7 1390.2,1390.0 1398.1,1390.3 1406.1,1390.6 1414.0,1390.8 1421.9,1391.1 1429.8,1391.3 1437.8,1391.5 1445.7,1391.7 1453.6,1392.0 1461.6,1392.2 1469.5,1392.3 1477.4,1392.5 1485.3,1392.7 1493.3,1392.8 1501.2,1392.9 1509.1,1393.1 1517.1,1393.2 1525.0,1393.3 1532.9,1393.4 1540.8,1393.5 1548.8,1393.6 1556.7,1393.7 1564.6,1393.8 1572.6,1393.8 1580.5,1393.9 1588.4,1394.0 1596.3,1394.1 1604.3,1394.1 1612.2,1394.2 1620.1,1394.3 1628.0,1394.3 1636.0,1394.4 1643.9,1394.5 1651.8,1394.5 1659.8,1394.6 1667.7,1394.7 1675.6,1394.8 1683.5,1394.8 1691.5,1394.9 1699.4,1395.0 1707.3,1395.0 1715.3,1395.1 1723.2,1395.2 1731.1,1395.3 1739.0,1395.3 1747.0,1395.4 1754.9,1395.5 1762.8,1395.6 1770.8,1395.6 1778.7,1395.7 1810.4,1396.0 1842.1,1396.3 1873.8,1396.6 1905.5,1396.9 1937.2,1397.2 1969.0,1397.6 2000.7,1398.0 2032.4,1398.3 2064.1,1398.6 2095.8,1398.7"/>
<polyline points="312.0,1068.2 316.0,1065.3 319.9,1062.2 323.9,1059.5 327.9,1057.2 331.8,1055.9 335.8,1055.4 339.7,1055.7 343.7,1056.5 347.7,1057.8 351.6,1059.3 355.6,1061.2 359.6,1063.4 363.5,1066.1 367.5,1069.6 371.5,1073.8 375.4,1078.9 379.4,1084.6 383.4,1090.7 387.3,1097.1 391.3,1103.7 395.2,1110.3 399.2,1117.1 403.2,1124.1 407.1,1131.2 411.1,1138.4 415.1,1145.5 419.0,1152.2 423.0,1158.5 427.0,1164.5 430.9,1170.4 434.9,1176.4 438.8,1182.6 442.8,1189.3 446.8,1196.5 450.7,1204.0 454.7,1211.0 458.7,1217.1 462.6,1222.0 466.6,1225.9 470.6,1229.1 474.5,1231.9 478.5,1234.5 482.5,1237.0 486.4,1239.6 490.4,1242.1 494.3,1244.4 498.3,1246.2 502.3,1247.3 506.2,1247.5 510.2,1246.5 514.2,1244.2 518.1,1240.7 522.1,1236.7 526.1,1233.0 530.0,1230.1 534.0,1227.8 537.9,1225.9 541.9,1223.9 545.9,1221.7 549.8,1219.2 553.8,1216.3 557.8,1212.7 561.7,1208.3 565.7,1203.3 569.7,1198.1 573.6,1193.3 577.6,1188.9 581.6,1184.6 585.5,1180.1 589.5,1175.3 597.4,1164.6 605.3,1151.8 613.3,1138.6 621.2,1126.9 629.1,1116.0 637.0,1105.1 645.0,1093.6 652.9,1082.1 660.8,1070.8 668.8,1060.0 676.7,1050.4 684.6,1042.7 692.5,1036.7 700.5,1032.0 708.4,1028.5 716.3,1026.0 724.3,1023.6 732.2,1020.9 740.1,1017.1 748.0,1012.4 756.0,1006.8 763.9,1000.2 771.8,992.9 779.8,985.6 787.7,978.7 795.6,972.0 803.5,965.4 811.5,959.1 819.4,953.6 827.3,949.2 835.2,946.2 843.2,944.3 851.1,943.2 859.0,942.9 867.0,944.0 874.9,946.8 882.8,951.0 890.7,956.8 898.7,964.6 906.6,974.7 914.5,987.5 922.5,1002.7 930.4,1020.1 938.3,1038.2 946.2,1055.1 954.2,1071.0 962.1,1086.7 970.0,1103.0 978.0,1120.7 985.9,1140.9 993.8,1161.4 1001.7,1179.3 1009.7,1195.0 1017.6,1210.2 1025.5,1224.8 1033.4,1238.4 1041.4,1251.4 1049.3,1264.0 1057.2,1275.8 1065.2,1286.6 1073.1,1296.2 1081.0,1304.9 1088.9,1313.0 1096.9,1320.6 1104.8,1327.6 1112.7,1333.6 1120.7,1338.6 1128.6,1343.0 1136.5,1347.1 1144.4,1351.1 1152.4,1354.8 1160.3,1358.4 1168.2,1361.7 1176.2,1364.8 1184.1,1367.6 1192.0,1370.1 1199.9,1372.1 1207.9,1373.7 1215.8,1375.0 1223.7,1376.2 1231.6,1377.4 1239.6,1378.5 1247.5,1379.6 1255.4,1380.7 1263.4,1381.7 1271.3,1382.8 1279.2,1383.7 1287.1,1384.6 1295.1,1385.3 1303.0,1385.9 1310.9,1386.5 1318.9,1387.0 1326.8,1387.4 1334.7,1387.8 1342.6,1388.2 1350.6,1388.6 1358.5,1388.9 1366.4,1389.2 1374.4,1389.5 1382.3,1389.8 1390.2,1390.1 1398.1,1390.4 1406.1,1390.6 1414.0,1390.9 1421.9,1391.1 1429.8,1391.4 1437.8,1391.6 1445.7,1391.8 1453.6,1392.0 1461.6,1392.2 1469.5,1392.4 1477.4,1392.6 1485.3,1392.7 1493.3,1392.9 1501.2,1393.0 1509.1,1393.1 1517.1,1393.2 1525.0,1393.3 1532.9,1393.4 1540.8,1393.5 1548.8,1393.6 1556.7,1393.7 1564.6,1393.8 1572.6,1393.9 1580.5,1393.9 1588.4,1394.0 1596.3,1394.1 1604.3,1394.1 1612.2,1394.2 1620.1,1394.3 1628.0,1394.4 1636.0,1394.4 1643.9,1394.5 1651.8,1394.6 1659.8,1394.6 1667.7,1394.7 1675.6,1394.8 1683.5,1394.8 1691.5,1394.9 1699.4,1395.0 1707.3,1395.0 1715.3,1395.1 1723.2,1395.2 1731.1,1395.3 1739.0,1395.3 1747.0,1395.4 1754.9,1395.5 1762.8,1395.6 1770.8,1395.6 1778.7,1395.7 1810.4,1396.0 1842.1,1396.3 1873.8,1396.6 1905.5,1396.9 1937.2,1397.2 1969.0,1397.6 2000.7,1398.0 2032.4,1398.3 2064.1,1398.6 2095.8,1398.7"/>
<polyline points="312.0,1068.7 316.0,1065.7 319.9,1062.7 323.9,1059.9 327.9,1057.7 331.8,1056.3 335.8,1055.9 339.7,1056.1 343.7,1057.0 347.7,1058.2 351.6,1059.8 355.6,1061.7 359.6,1063.9 363.5,1066.6 367.5,1070.1 371.5,1074.3 375.4,1079.4 379.4,1085.1 383.4,1091.2 387.3,1097.6 391.3,1104.1 395.2,1110.8 399.2,1117.6 403.2,1124.6 407.1,1131.8 411.1,1139.0 415.1,1146.0 419.0,1152.7 423.0,1159.1 427.0,1165.1 430.9,1171.0 434.9,1176.9 438.8,1183.1 442.8,1189.8 446.8,1197.1 450.7,1204.5 454.7,1211.5 458.7,1217.6 462.6,1222.5 466.6,1226.4 470.6,1229.5 474.5,1232.3 478.5,1234.9 482.5,1237.4 486.4,1239.9 490.4,1242.4 494.3,1244.6 498.3,1246.3 502.3,1247.3 506.2,1247.3 510.2,1246.2 514.2,1243.7 518.1,1240.0 522.1,1235.8 526.1,1231.9 530.0,1228.9 534.0,1226.6 537.9,1224.7 541.9,1222.7 545.9,1220.5 549.8,1218.0 553.8,1215.0 557.8,1211.3 561.7,1206.8 565.7,1201.7 569.7,1196.3 573.6,1191.4 577.6,1186.8 581.6,1182.3 585.5,1177.7 589.5,1172.8 597.4,1161.6 605.3,1148.3 613.3,1134.5 621.2,1122.4 629.1,1111.3 637.0,1100.1 645.0,1088.4 652.9,1076.7 660.8,1065.5 668.8,1054.8 676.7,1045.4 684.6,1037.9 692.5,1032.2 700.5,1027.8 708.4,1024.8 716.3,1022.8 724.3,1021.0 732.2,1018.8 740.1,1015.5 748.0,1011.3 756.0,1006.1 763.9,999.7 771.8,992.5 779.8,985.4 787.7,978.6 795.6,972.0 803.5,965.4 811.5,959.1 819.4,953.6 827.3,949.2 835.2,946.2 843.2,944.3 851.1,943.2 859.0,942.9 867.0,944.1 874.9,946.9 882.8,951.1 890.7,957.0 898.7,965.0 906.6,975.3 914.5,988.3 922.5,1003.8 930.4,1021.7 938.3,1040.2 946.2,1057.4 954.2,1073.4 962.1,1089.4 970.0,1105.8 978.0,1123.8 985.9,1144.4 993.8,1165.4 1001.7,1183.7 1009.7,1199.5 1017.6,1214.3 1025.5,1228.6 1033.4,1242.0 1041.4,1254.7 1049.3,1267.0 1057.2,1278.6 1065.2,1289.0 1073.1,1298.4 1081.0,1306.9 1088.9,1314.8 1096.9,1322.2 1104.8,1329.0 1112.7,1334.8 1120.7,1339.7 1128.6,1343.9 1136.5,1348.0 1144.4,1351.8 1152.4,1355.5 1160.3,1359.0 1168.2,1362.2 1176.2,1365.3 1184.1,1368.1 1192.0,1370.6 1199.9,1372.5 1207.9,1374.1 1215.8,1375.4 1223.7,1376.5 1231.6,1377.6 1239.6,1378.7 1247.5,1379.8 1255.4,1380.9 1263.4,1382.0 1271.3,1383.0 1279.2,1384.0 1287.1,1384.8 1295.1,1385.6 1303.0,1386.2 1310.9,1386.7 1318.9,1387.1 1326.8,1387.6 1334.7,1388.0 1342.6,1388.4 1350.6,1388.7 1358.5,1389.1 1366.4,1389.4 1374.4,1389.7 1382.3,1389.9 1390.2,1390.2 1398.1,1390.5 1406.1,1390.7 1414.0,1391.0 1421.9,1391.2 1429.8,1391.4 1437.8,1391.7 1445.7,1391.9 1453.6,1392.1 1461.6,1392.3 1469.5,1392.4 1477.4,1392.6 1485.3,1392.8 1493.3,1392.9 1501.2,1393.0 1509.1,1393.1 1517.1,1393.3 1525.0,1393.4 1532.9,1393.5 1540.8,1393.6 1548.8,1393.6 1556.7,1393.7 1564.6,1393.8 1572.6,1393.9 1580.5,1394.0 1588.4,1394.0 1596.3,1394.1 1604.3,1394.2 1612.2,1394.2 1620.1,1394.3 1628.0,1394.4 1636.0,1394.4 1643.9,1394.5 1651.8,1394.6 1659.8,1394.6 1667.7,1394.7 1675.6,1394.8 1683.5,1394.8 1691.5,1394.9 1699.4,1395.0 1707.3,1395.0 1715.3,1395.1 1723.2,1395.2 1731.1,1395.3 1739.0,1395.3 1747.0,1395.4 1754.9,1395.5 1762.8,1395.6 1770.8,1395.6 1778.7,1395.7 1810.4,1396.0 1842.1,1396.3 1873.8,1396.6 1905.5,1396.9 1937.2,1397.2 1969.0,1397.6 2000.7,1398.0 2032.4,1398.3 2064.1,1398.6 2095.8,1398.7"/>
<polyline points="312.0,1069.1 316.0,1066.2 319.9,1063.2 323.9,1060.4 327.9,1058.2 331.8,1056.8 335.8,1056.3 339.7,1056.6 343.7,1057.4 347.7,1058.7 351.6,1060.3 355.6,1062.1 359.6,1064.4 363.5,1067.1 367.5,1070.5 371.5,1074.8 375.4,1079.9 379.4,1085.5 383.4,1091.7 387.3,1098.1 391.3,1104.6 395.2,1111.2 399.2,1118.0 403.2,1125.0 407.1,1132.2 411.1,1139.5 415.1,1146.5 419.0,1153.2 423.0,1159.6 427.0,1165.6 430.9,1171.5 434.9,1177.5 438.8,1183.7 442.8,1190.4 446.8,1197.6 450.7,1205.0 454.7,1212.0 458.7,1218.0 462.6,1222.9 466.6,1226.7 470.6,1229.9 474.5,1232.6 478.5,1235.2 482.5,1237.6 486.4,1240.1 490.4,1242.6 494.3,1244.8 498.3,1246.4 502.3,1247.3 506.2,1247.2 510.2,1245.9 514.2,1243.2 518.1,1239.3 522.1,1234.8 526.1,1230.8 530.0,1227.7 534.0,1225.4 537.9,1223.5 541.9,1221.5 545.9,1219.3 549.8,1216.7 553.8,1213.7 557.8,1210.0 561.7,1205.4 565.7,1200.1 569.7,1194.6 573.6,1189.5 577.6,1184.8 581.6,1180.2 585.5,1175.4 589.5,1170.3 597.4,1158.7 605.3,1144.9 613.3,1130.6 621.2,1118.1 629.1,1106.7 637.0,1095.2 645.0,1083.3 652.9,1071.5 660.8,1060.3 668.8,1049.8 676.7,1040.5 684.6,1033.2 692.5,1027.8 700.5,1023.7 708.4,1021.1 716.3,1019.6 724.3,1018.4 732.2,1016.7 740.1,1014.0 748.0,1010.2 756.0,1005.4 763.9,999.2 771.8,992.2 779.8,985.2 787.7,978.5 795.6,972.0 803.5,965.4 811.5,959.1 819.4,953.6 827.3,949.2 835.2,946.2 843.2,944.3 851.1,943.2 859.0,942.9 867.0,944.1 874.9,947.0 882.8,951.3 890.7,957.3 898.7,965.3 906.6,975.9 914.5,989.1 922.5,1005.0 930.4,1023.3 938.3,1042.1 946.2,1059.6 954.2,1075.9 962.1,1092.0 970.0,1108.6 978.0,1126.8 985.9,1147.8 993.8,1169.4 1001.7,1188.2 1009.7,1203.9 1017.6,1218.4 1025.5,1232.3 1033.4,1245.5 1041.4,1258.0 1049.3,1270.0 1057.2,1281.3 1065.2,1291.5 1073.1,1300.7 1081.0,1308.9 1088.9,1316.6 1096.9,1323.8 1104.8,1330.4 1112.7,1336.1 1120.7,1340.8 1128.6,1344.9 1136.5,1348.8 1144.4,1352.6 1152.4,1356.2 1160.3,1359.6 1168.2,1362.8 1176.2,1365.8 1184.1,1368.6 1192.0,1371.0 1199.9,1373.0 1207.9,1374.5 1215.8,1375.7 1223.7,1376.9 1231.6,1377.9 1239.6,1379.0 1247.5,1380.1 1255.4,1381.2 1263.4,1382.2 1271.3,1383.3 1279.2,1384.2 1287.1,1385.1 1295.1,1385.8 1303.0,1386.4 1310.9,1386.9 1318.9,1387.3 1326.8,1387.8 1334.7,1388.2 1342.6,1388.5 1350.6,1388.9 1358.5,1389.2 1366.4,1389.5 1374.4,1389.8 1382.3,1390.0 1390.2,1390.3 1398.1,1390.5 1406.1,1390.8 1414.0,1391.0 1421.9,1391.3 1429.8,1391.5 1437.8,1391.7 1445.7,1391.9 1453.6,1392.1 1461.6,1392.3 1469.5,1392.5 1477.4,1392.7 1485.3,1392.8 1493.3,1393.0 1501.2,1393.1 1509.1,1393.2 1517.1,1393.3 1525.0,1393.4 1532.9,1393.5 1540.8,1393.6 1548.8,1393.7 1556.7,1393.8 1564.6,1393.8 1572.6,1393.9 1580.5,1394.0 1588.4,1394.0 1596.3,1394.1 1604.3,1394.2 1612.2,1394.2 1620.1,1394.3 1628.0,1394.4 1636.0,1394.4 1643.9,1394.5 1651.8,1394.6 1659.8,1394.6 1667.7,1394.7 1675.6,1394.8 1683.5,1394.8 1691.5,1394.9 1699.4,1395.0 1707.3,1395.0 1715.3,1395.1 1723.2,1395.2 1731.1,1395.3 1739.0,1395.3 1747.0,1395.4 1754.9,1395.5 1762.8,1395.6 1770.8,1395.6 1778.7,1395.7 1810.4,1396.0 1842.1,1396.3 1873.8,1396.6 1905.5,1396.9 1937.2,1397.2 1969.0,1397.6 2000.7,1398.0 2032.4,1398.3 2064.1,1398.6 2095.8,1398.7"/>
<polyline points="312.0,1069.5 316.0,1066.6 319.9,1063.6 323.9,1060.8 327.9,1058.6 331.8,1057.2 335.8,1056.7 339.7,1057.0 343.7,1057.8 347.7,1059.1 351.6,1060.7 355.6,1062.5 359.6,1064.8 363.5,1067.5 367.5,1070.9 371.5,1075.2 375.4,1080.2 379.4,1085.9 383.4,1092.1 387.3,1098.5 391.3,1105.0 395.2,1111.6 399.2,1118.4 403.2,1125.5 407.1,1132.6 411.1,1139.9 415.1,1146.9 419.0,1153.6 423.0,1160.0 427.0,1166.0 430.9,1171.9 434.9,1177.9 438.8,1184.1 442.8,1190.8 446.8,1198.0 450.7,1205.4 454.7,1212.4 458.7,1218.4 462.6,1223.2 466.6,1227.1 470.6,1230.2 474.5,1232.9 478.5,1235.4 482.5,1237.9 486.4,1240.3 490.4,1242.8 494.3,1244.9 498.3,1246.5 502.3,1247.3 506.2,1247.1 510.2,1245.6 514.2,1242.8 518.1,1238.7 522.1,1234.1 526.1,1229.9 530.0,1226.7 534.0,1224.4 537.9,1222.5 541.9,1220.5 545.9,1218.3 549.8,1215.7 553.8,1212.7 557.8,1208.9 561.7,1204.2 565.7,1198.7 569.7,1193.1 573.6,1187.9 577.6,1183.1 581.6,1178.4 585.5,1173.5 589.5,1168.2 597.4,1156.3 605.3,1142.0 613.3,1127.3 621.2,1114.5 629.1,1102.9 637.0,1091.1 645.0,1079.1 652.9,1067.2 660.8,1056.0 668.8,1045.5 676.7,1036.4 684.6,1029.3 692.5,1024.1 700.5,1020.3 708.4,1018.1 716.3,1017.0 724.3,1016.2 732.2,1015.0 740.1,1012.7 748.0,1009.3 756.0,1004.8 763.9,998.8 771.8,991.9 779.8,985.0 787.7,978.4 795.6,971.9 803.5,965.4 811.5,959.1 819.4,953.6 827.3,949.2 835.2,946.2 843.2,944.3 851.1,943.2 859.0,942.9 867.0,944.1 874.9,947.1 882.8,951.5 890.7,957.5 898.7,965.7 906.6,976.4 914.5,989.9 922.5,1006.1 930.4,1024.8 938.3,1044.1 946.2,1061.9 954.2,1078.4 962.1,1094.6 970.0,1111.3 978.0,1129.9 985.9,1151.3 993.8,1173.5 1001.7,1192.7 1009.7,1208.4 1017.6,1222.6 1025.5,1236.1 1033.4,1249.1 1041.4,1261.3 1049.3,1273.1 1057.2,1284.0 1065.2,1294.0 1073.1,1302.9 1081.0,1310.9 1088.9,1318.4 1096.9,1325.4 1104.8,1331.8 1112.7,1337.3 1120.7,1341.9 1128.6,1345.9 1136.5,1349.6 1144.4,1353.3 1152.4,1356.8 1160.3,1360.2 1168.2,1363.4 1176.2,1366.3 1184.1,1369.1 1192.0,1371.5 1199.9,1373.4 1207.9,1374.9 1215.8,1376.1 1223.7,1377.2 1231.6,1378.2 1239.6,1379.3 1247.5,1380.3 1255.4,1381.4 1263.4,1382.5 1271.3,1383.5 1279.2,1384.4 1287.1,1385.3 1295.1,1386.0 1303.0,1386.6 1310.9,1387.1 1318.9,1387.5 1326.8,1387.9 1334.7,1388.3 1342.6,1388.7 1350.6,1389.0 1358.5,1389.3 1366.4,1389.6 1374.4,1389.9 1382.3,1390.1 1390.2,1390.4 1398.1,1390.6 1406.1,1390.9 1414.0,1391.1 1421.9,1391.3 1429.8,1391.6 1437.8,1391.8 1445.7,1392.0 1453.6,1392.2 1461.6,1392.4 1469.5,1392.6 1477.4,1392.7 1485.3,1392.9 1493.3,1393.0 1501.2,1393.1 1509.1,1393.2 1517.1,1393.3 1525.0,1393.4 1532.9,1393.5 1540.8,1393.6 1548.8,1393.7 1556.7,1393.8 1564.6,1393.9 1572.6,1393.9 1580.5,1394.0 1588.4,1394.1 1596.3,1394.1 1604.3,1394.2 1612.2,1394.3 1620.1,1394.3 1628.0,1394.4 1636.0,1394.4 1643.9,1394.5 1651.8,1394.6 1659.8,1394.6 1667.7,1394.7 1675.6,1394.8 1683.5,1394.8 1691.5,1394.9 1699.4,1395.0 1707.3,1395.0 1715.3,1395.1 1723.2,1395.2 1731.1,1395.3 1739.0,1395.3 1747.0,1395.4 1754.9,1395.5 1762.8,1395.6 1770.8,1395.6 1778.7,1395.7 1810.4,1396.0 1842.1,1396.3 1873.8,1396.6 1905.5,1396.9 1937.2,1397.2 1969.0,1397.6 2000.7,1398.0 2032.4,1398.3 2064.1,1398.6 2095.8,1398.7"/>
<polyline points="312.0,1069.5 316.0,1066.5 319.9,1063.5 323.9,1060.8 327.9,1058.5 331.8,1057.2 335.8,1056.7 339.7,1056.9 343.7,1057.8 347.7,1059.0 351.6,1060.6 355.6,1062.5 359.6,1064.7 363.5,1067.4 367.5,1070.9 371.5,1075.1 375.4,1080.2 379.4,1085.9 383.4,1092.1 387.3,1098.5 391.3,1105.0 395.2,1111.7 399.2,1118.5 403.2,1125.5 407.1,1132.7 411.1,1139.9 415.1,1147.0 419.0,1153.7 423.0,1160.1 427.0,1166.2 430.9,1172.1 434.9,1178.0 438.8,1184.2 442.8,1190.9 446.8,1198.0 450.7,1205.3 454.7,1212.2 458.7,1218.1 462.6,1222.9 466.6,1226.7 470.6,1229.8 474.5,1232.5 478.5,1234.9 482.5,1237.3 486.4,1239.7 490.4,1242.1 494.3,1244.2 498.3,1245.7 502.3,1246.4 506.2,1246.2 510.2,1244.7 514.2,1242.0 518.1,1237.9 522.1,1233.4 526.1,1229.2 530.0,1226.1 534.0,1223.8 537.9,1221.8 541.9,1219.8 545.9,1217.5 549.8,1214.9 553.8,1211.9 557.8,1208.1 561.7,1203.4 565.7,1197.9 569.7,1192.4 573.6,1187.2 577.6,1182.4 581.6,1177.6 585.5,1172.7 589.5,1167.4 597.4,1155.5 605.3,1141.2 613.3,1126.5 621.2,1113.6 629.1,1101.9 637.0,1090.1 645.0,1077.9 652.9,1066.0 660.8,1054.8 668.8,1044.4 676.7,1035.2 684.6,1028.2 692.5,1023.0 700.5,1019.3 708.4,1017.1 716.3,1016.1 724.3,1015.4 732.2,1014.2 740.1,1011.9 748.0,1008.9 756.0,1005.2 763.9,1000.8 771.8,996.1 779.8,991.9 787.7,988.5 795.6,985.4 803.5,982.4 811.5,979.8 819.4,978.0 827.3,976.9 835.2,976.6 843.2,976.8 851.1,977.0 859.0,977.8 867.0,979.7 874.9,983.1 882.8,987.7 890.7,993.7 898.7,1001.4 906.6,1011.0 914.5,1022.9 922.5,1037.0 930.4,1053.1 938.3,1069.8 946.2,1085.5 954.2,1100.3 962.1,1115.1 970.0,1130.6 978.0,1147.5 985.9,1166.5 993.8,1185.8 1001.7,1202.7 1009.7,1217.0 1017.6,1229.8 1025.5,1242.0 1033.4,1253.6 1041.4,1264.6 1049.3,1275.4 1057.2,1285.7 1065.2,1295.1 1073.1,1303.7 1081.0,1311.5 1088.9,1318.8 1096.9,1325.7 1104.8,1332.0 1112.7,1337.4 1120.7,1341.9 1128.6,1345.9 1136.5,1349.7 1144.4,1353.3 1152.4,1356.9 1160.3,1360.2 1168.2,1363.4 1176.2,1366.3 1184.1,1369.1 1192.0,1371.5 1199.9,1373.4 1207.9,1374.9 1215.8,1376.1 1223.7,1377.2 1231.6,1378.2 1239.6,1379.3 1247.5,1380.3 1255.4,1381.4 1263.4,1382.5 1271.3,1383.5 1279.2,1384.5 1287.1,1385.3 1295.1,1386.0 1303.0,1386.6 1310.9,1387.1 1318.9,1387.6 1326.8,1388.0 1334.7,1388.3 1342.6,1388.7 1350.6,1389.0 1358.5,1389.3 1366.4,1389.6 1374.4,1389.9 1382.3,1390.1 1390.2,1390.4 1398.1,1390.6 1406.1,1390.9 1414.0,1391.1 1421.9,1391.3 1429.8,1391.6 1437.8,1391.8 1445.7,1392.0 1453.6,1392.2 1461.6,1392.4 1469.5,1392.6 1477.4,1392.7 1485.3,1392.9 1493.3,1393.0 1501.2,1393.1 1509.1,1393.2 1517.1,1393.3 1525.0,1393.4 1532.9,1393.5 1540.8,1393.6 1548.8,1393.7 1556.7,1393.8 1564.6,1393.9 1572.6,1393.9 1580.5,1394.0 1588.4,1394.1 1596.3,1394.1 1604.3,1394.2 1612.2,1394.3 1620.1,1394.3 1628.0,1394.4 1636.0,1394.4 1643.9,1394.5 1651.8,1394.6 1659.8,1394.6 1667.7,1394.7 1675.6,1394.8 1683.5,1394.8 1691.5,1394.9 1699.4,1395.0 1707.3,1395.0 1715.3,1395.1 1723.2,1395.2 1731.1,1395.3 1739.0,1395.3 1747.0,1395.4 1754.9,1395.5 1762.8,1395.6 1770.8,1395.6 1778.7,1395.7 1810.4,1396.0 1842.1,1396.3 1873.8,1396.6 1905.5,1396.9 1937.2,1397.2 1969.0,1397.6 2000.7,1398.0 2032.4,1398.3 2064.1,1398.6 2095.8,1398.7"/>
<polyline points="312.0,1069.5 316.0,1066.5 319.9,1063.5 323.9,1060.7 327.9,1058.5 331.8,1057.1 335.8,1056.6 339.7,1056.9 343.7,1057.7 347.7,1059.0 351.6,1060.6 355.6,1062.4 359.6,1064.6 363.5,1067.4 367.5,1070.8 371.5,1075.1 375.4,1080.2 379.4,1085.9 383.4,1092.0 387.3,1098.5 391.3,1105.0 395.2,1111.7 399.2,1118.5 403.2,1125.5 407.1,1132.7 411.1,1139.9 415.1,1147.0 419.0,1153.7 423.0,1160.1 427.0,1166.2 430.9,1172.1 434.9,1178.1 438.8,1184.2 442.8,1190.8 446.8,1197.9 450.7,1205.1 454.7,1211.9 458.7,1217.7 462.6,1222.5 466.6,1226.2 470.6,1229.3 474.5,1232.0 478.5,1234.4 482.5,1236.7 486.4,1239.1 490.4,1241.4 494.3,1243.4 498.3,1244.9 502.3,1245.5 506.2,1245.3 510.2,1243.8 514.2,1241.1 518.1,1237.2 522.1,1232.7 526.1,1228.6 530.0,1225.4 534.0,1223.1 537.9,1221.1 541.9,1219.1 545.9,1216.8 549.8,1214.1 553.8,1211.1 557.8,1207.2 561.7,1202.6 565.7,1197.2 569.7,1191.7 573.6,1186.5 577.6,1181.6 581.6,1176.9 585.5,1171.9 589.5,1166.6 597.4,1154.6 605.3,1140.4 613.3,1125.7 621.2,1112.8 629.1,1100.9 637.0,1089.0 645.0,1076.8 652.9,1064.8 660.8,1053.6 668.8,1043.2 676.7,1034.1 684.6,1027.1 692.5,1022.0 700.5,1018.3 708.4,1016.2 716.3,1015.3 724.3,1014.6 732.2,1013.4 740.1,1011.3 748.0,1008.6 756.0,1005.6 763.9,1002.2 771.8,999.0 779.8,996.9 787.7,995.5 795.6,994.6 803.5,994.0 811.5,993.8 819.4,994.4 827.3,995.4 835.2,996.9 843.2,998.5 851.1,999.6 859.0,1001.1 867.0,1003.5 874.9,1007.1 882.8,1011.8 890.7,1017.8 898.7,1025.1 906.6,1034.1 914.5,1044.9 922.5,1057.5 930.4,1072.0 938.3,1086.9 946.2,1101.2 954.2,1114.9 962.1,1128.8 970.0,1143.5 978.0,1159.3 985.9,1176.6 993.8,1194.0 1001.7,1209.4 1009.7,1222.7 1017.6,1234.7 1025.5,1246.0 1033.4,1256.7 1041.4,1266.9 1049.3,1277.0 1057.2,1286.8 1065.2,1296.0 1073.1,1304.4 1081.0,1312.0 1088.9,1319.2 1096.9,1326.0 1104.8,1332.2 1112.7,1337.5 1120.7,1342.0 1128.6,1345.9 1136.5,1349.7 1144.4,1353.4 1152.4,1356.9 1160.3,1360.2 1168.2,1363.4 1176.2,1366.4 1184.1,1369.1 1192.0,1371.5 1199.9,1373.4 1207.9,1374.9 1215.8,1376.1 1223.7,1377.2 1231.6,1378.3 1239.6,1379.3 1247.5,1380.4 1255.4,1381.4 1263.4,1382.5 1271.3,1383.5 1279.2,1384.5 1287.1,1385.3 1295.1,1386.0 1303.0,1386.6 1310.9,1387.1 1318.9,1387.6 1326.8,1388.0 1334.7,1388.4 1342.6,1388.7 1350.6,1389.0 1358.5,1389.3 1366.4,1389.6 1374.4,1389.9 1382.3,1390.2 1390.2,1390.4 1398.1,1390.6 1406.1,1390.9 1414.0,1391.1 1421.9,1391.4 1429.8,1391.6 1437.8,1391.8 1445.7,1392.0 1453.6,1392.2 1461.6,1392.4 1469.5,1392.6 1477.4,1392.7 1485.3,1392.9 1493.3,1393.0 1501.2,1393.1 1509.1,1393.2 1517.1,1393.3 1525.0,1393.4 1532.9,1393.5 1540.8,1393.6 1548.8,1393.7 1556.7,1393.8 1564.6,1393.9 1572.6,1393.9 1580.5,1394.0 1588.4,1394.1 1596.3,1394.1 1604.3,1394.2 1612.2,1394.3 1620.1,1394.3 1628.0,1394.4 1636.0,1394.4 1643.9,1394.5 1651.8,1394.6 1659.8,1394.6 1667.7,1394.7 1675.6,1394.8 1683.5,1394.8 1691.5,1394.9 1699.4,1395.0 1707.3,1395.0 1715.3,1395.1 1723.2,1395.2 1731.1,1395.3 1739.0,1395.3 1747.0,1395.4 1754.9,1395.5 1762.8,1395.6 1770.8,1395.6 1778.7,1395.7 1810.4,1396.0 1842.1,1396.3 1873.8,1396.6 1905.5,1396.9 1937.2,1397.2 1969.0,1397.6 2000.7,1398.0 2032.4,1398.3 2064.1,1398.6 2095.8,1398.7"/>
<polyline points="312.0,1069.5 316.0,1066.5 319.9,1063.5 323.9,1060.7 327.9,1058.4 331.8,1057.1 335.8,1056.6 339.7,1056.8 343.7,1057.7 347.7,1058.9 351.6,1060.5 355.6,1062.4 359.6,1064.6 363.5,1067.3 367.5,1070.8 371.5,1075.1 375.4,1080.1 379.4,1085.9 383.4,1092.0 387.3,1098.5 391.3,1105.0 395.2,1111.7 399.2,1118.5 403.2,1125.5 407.1,1132.7 411.1,1139.9 415.1,1147.0 419.0,1153.7 423.0,1160.1 427.0,1166.2 430.9,1172.1 434.9,1178.1 438.8,1184.2 442.8,1190.8 446.8,1197.8 450.7,1204.9 454.7,1211.6 458.7,1217.4 462.6,1222.1 466.6,1225.8 470.6,1228.8 474.5,1231.4 478.5,1233.8 482.5,1236.2 486.4,1238.4 490.4,1240.7 494.3,1242.6 498.3,1244.0 502.3,1244.7 506.2,1244.4 510.2,1243.0 514.2,1240.2 518.1,1236.4 522.1,1232.0 526.1,1227.9 530.0,1224.8 534.0,1222.5 537.9,1220.5 541.9,1218.4 545.9,1216.0 549.8,1213.4 553.8,1210.2 557.8,1206.4 561.7,1201.8 565.7,1196.4 569.7,1190.9 573.6,1185.7 577.6,1180.9 581.6,1176.1 585.5,1171.2 589.5,1165.8 597.4,1153.8 605.3,1139.6 613.3,1124.9 621.2,1111.9 629.1,1099.9 637.0,1087.9 645.0,1075.7 652.9,1063.6 660.8,1052.4 668.8,1042.0 676.7,1032.9 684.6,1026.0 692.5,1020.9 700.5,1017.3 708.4,1015.2 716.3,1014.4 724.3,1013.8 732.2,1012.7 740.1,1010.8 748.0,1008.4 756.0,1005.9 763.9,1003.2 771.8,1001.1 779.8,1000.1 787.7,1000.1 795.6,1000.5 803.5,1001.3 811.5,1002.6 819.4,1004.5 827.3,1006.8 835.2,1009.4 843.2,1011.7 851.1,1013.4 859.0,1015.3 867.0,1018.0 874.9,1021.8 882.8,1026.6 890.7,1032.5 898.7,1039.6 906.6,1048.2 914.5,1058.3 922.5,1070.1 930.4,1083.5 938.3,1097.4 946.2,1110.8 954.2,1123.8 962.1,1137.2 970.0,1151.3 978.0,1166.6 985.9,1182.8 993.8,1199.0 1001.7,1213.5 1009.7,1226.2 1017.6,1237.7 1025.5,1248.5 1033.4,1258.7 1041.4,1268.4 1049.3,1278.1 1057.2,1287.7 1065.2,1296.7 1073.1,1304.9 1081.0,1312.5 1088.9,1319.6 1096.9,1326.3 1104.8,1332.4 1112.7,1337.7 1120.7,1342.1 1128.6,1346.0 1136.5,1349.7 1144.4,1353.4 1152.4,1356.9 1160.3,1360.3 1168.2,1363.4 1176.2,1366.4 1184.1,1369.1 1192.0,1371.5 1199.9,1373.4 1207.9,1374.9 1215.8,1376.1 1223.7,1377.2 1231.6,1378.3 1239.6,1379.3 1247.5,1380.4 1255.4,1381.5 1263.4,1382.5 1271.3,1383.5 1279.2,1384.5 1287.1,1385.3 1295.1,1386.1 1303.0,1386.6 1310.9,1387.1 1318.9,1387.6 1326.8,1388.0 1334.7,1388.4 1342.6,1388.7 1350.6,1389.0 1358.5,1389.3 1366.4,1389.6 1374.4,1389.9 1382.3,1390.2 1390.2,1390.4 1398.1,1390.7 1406.1,1390.9 1414.0,1391.1 1421.9,1391.4 1429.8,1391.6 1437.8,1391.8 1445.7,1392.0 1453.6,1392.2 1461.6,1392.4 1469.5,1392.6 1477.4,1392.7 1485.3,1392.9 1493.3,1393.0 1501.2,1393.1 1509.1,1393.2 1517.1,1393.3 1525.0,1393.4 1532.9,1393.5 1540.8,1393.6 1548.8,1393.7 1556.7,1393.8 1564.6,1393.9 1572.6,1393.9 1580.5,1394.0 1588.4,1394.1 1596.3,1394.1 1604.3,1394.2 1612.2,1394.3 1620.1,1394.3 1628.0,1394.4 1636.0,1394.4 1643.9,1394.5 1651.8,1394.6 1659.8,1394.6 1667.7,1394.7 1675.6,1394.8 1683.5,1394.8 1691.5,1394.9 1699.4,1395.0 1707.3,1395.0 1715.3,1395.1 1723.2,1395.2 1731.1,1395.3 1739.0,1395.3 1747.0,1395.4 1754.9,1395.5 1762.8,1395.6 1770.8,1395.6 1778.7,1395.7 1810.4,1396.0 1842.1,1396.3 1873.8,1396.6 1905.5,1396.9 1937.2,1397.2 1969.0,1397.6 2000.7,1398.0 2032.4,1398.3 2064.1,1398.6 2095.8,1398.7"/>
<polyline points="312.0,1069.5 316.0,1066.5 319.9,1063.5 323.9,1060.7 327.9,1058.4 331.8,1057.0 335.8,1056.5 339.7,1056.8 343.7,1057.6 347.7,1058.9 351.6,1060.4 355.6,1062.3 359.6,1064.5 363.5,1067.3 367.5,1070.7 371.5,1075.0 375.4,1080.1 379.4,1085.8 383.4,1092.0 387.3,1098.4 391.3,1105.0 395.2,1111.7 399.2,1118.5 403.2,1125.5 407.1,1132.7 411.1,1139.9 415.1,1147.0 419.0,1153.7 423.0,1160.1 427.0,1166.2 430.9,1172.2 434.9,1178.1 438.8,1184.2 442.8,1190.7 446.8,1197.6 450.7,1204.7 454.7,1211.3 458.7,1217.0 462.6,1221.6 466.6,1225.3 470.6,1228.3 474.5,1230.9 478.5,1233.3 482.5,1235.6 486.4,1237.8 490.4,1240.0 494.3,1241.8 498.3,1243.2 502.3,1243.8 506.2,1243.5 510.2,1242.1 514.2,1239.4 518.1,1235.6 522.1,1231.3 526.1,1227.3 530.0,1224.2 534.0,1221.8 537.9,1219.8 541.9,1217.6 545.9,1215.3 549.8,1212.6 553.8,1209.4 557.8,1205.6 561.7,1201.0 565.7,1195.7 569.7,1190.2 573.6,1185.0 577.6,1180.2 581.6,1175.4 585.5,1170.4 589.5,1165.0 597.4,1153.0 605.3,1138.7 613.3,1124.1 621.2,1111.0 629.1,1099.0 637.0,1086.9 645.0,1074.5 652.9,1062.5 660.8,1051.2 668.8,1040.8 676.7,1031.8 684.6,1024.9 692.5,1019.8 700.5,1016.2 708.4,1014.2 716.3,1013.5 724.3,1013.0 732.2,1012.1 740.1,1010.3 748.0,1008.2 756.0,1006.1 763.9,1004.0 771.8,1002.6 779.8,1002.5 787.7,1003.3 795.6,1004.6 803.5,1006.2 811.5,1008.3 819.4,1011.1 827.3,1014.2 835.2,1017.3 843.2,1020.1 851.1,1022.1 859.0,1024.4 867.0,1027.3 874.9,1031.1 882.8,1035.9 890.7,1041.8 898.7,1048.9 906.6,1057.1 914.5,1066.8 922.5,1078.1 930.4,1090.8 938.3,1104.0 946.2,1116.9 954.2,1129.5 962.1,1142.5 970.0,1156.3 978.0,1171.1 985.9,1186.8 993.8,1202.1 1001.7,1216.1 1009.7,1228.5 1017.6,1239.7 1025.5,1250.2 1033.4,1260.0 1041.4,1269.5 1049.3,1279.0 1057.2,1288.4 1065.2,1297.3 1073.1,1305.4 1081.0,1313.0 1088.9,1320.0 1096.9,1326.6 1104.8,1332.6 1112.7,1337.8 1120.7,1342.1 1128.6,1346.0 1136.5,1349.8 1144.4,1353.4 1152.4,1356.9 1160.3,1360.3 1168.2,1363.5 1176.2,1366.4 1184.1,1369.2 1192.0,1371.6 1199.9,1373.5 1207.9,1374.9 1215.8,1376.2 1223.7,1377.3 1231.6,1378.3 1239.6,1379.3 1247.5,1380.4 1255.4,1381.5 1263.4,1382.5 1271.3,1383.6 1279.2,1384.5 1287.1,1385.4 1295.1,1386.1 1303.0,1386.7 1310.9,1387.2 1318.9,1387.6 1326.8,1388.0 1334.7,1388.4 1342.6,1388.7 1350.6,1389.1 1358.5,1389.4 1366.4,1389.6 1374.4,1389.9 1382.3,1390.2 1390.2,1390.4 1398.1,1390.7 1406.1,1390.9 1414.0,1391.1 1421.9,1391.4 1429.8,1391.6 1437.8,1391.8 1445.7,1392.0 1453.6,1392.2 1461.6,1392.4 1469.5,1392.6 1477.4,1392.7 1485.3,1392.9 1493.3,1393.0 1501.2,1393.1 1509.1,1393.2 1517.1,1393.3 1525.0,1393.4 1532.9,1393.5 1540.8,1393.6 1548.8,1393.7 1556.7,1393.8 1564.6,1393.9 1572.6,1393.9 1580.5,1394.0 1588.4,1394.1 1596.3,1394.1 1604.3,1394.2 1612.2,1394.3 1620.1,1394.3 1628.0,1394.4 1636.0,1394.4 1643.9,1394.5 1651.8,1394.6 1659.8,1394.6 1667.7,1394.7 1675.6,1394.8 1683.5,1394.8 1691.5,1394.9 1699.4,1395.0 1707.3,1395.0 1715.3,1395.1 1723.2,1395.2 1731.1,1395.3 1739.0,1395.3 1747.0,1395.4 1754.9,1395.5 1762.8,1395.6 1770.8,1395.6 1778.7,1395.7 1810.4,1396.0 1842.1,1396.3 1873.8,1396.6 1905.5,1396.9 1937.2,1397.2 1969.0,1397.6 2000.7,1398.0 2032.4,1398.3 2064.1,1398.6 2095.8,1398.7"/>
<polyline points="312.0,1069.5 316.0,1066.5 319.9,1063.4 323.9,1060.6 327.9,1058.3 331.8,1056.9 335.8,1056.4 339.7,1056.7 343.7,1057.5 347.7,1058.8 351.6,1060.4 355.6,1062.2 359.6,1064.5 363.5,1067.2 367.5,1070.7 371.5,1075.0 375.4,1080.1 379.4,1085.8 383.4,1092.0 387.3,1098.4 391.3,1105.0 395.2,1111.6 399.2,1118.5 403.2,1125.5 407.1,1132.7 411.1,1139.9 415.1,1147.0 419.0,1153.7 423.0,1160.1 427.0,1166.3 430.9,1172.2 434.9,1178.2 438.8,1184.3 442.8,1190.7 446.8,1197.5 450.7,1204.4 454.7,1210.9 458.7,1216.5 462.6,1221.1 466.6,1224.7 470.6,1227.7 474.5,1230.2 478.5,1232.6 482.5,1234.8 486.4,1237.0 490.4,1239.0 494.3,1240.8 498.3,1242.1 502.3,1242.6 506.2,1242.3 510.2,1240.9 514.2,1238.3 518.1,1234.6 522.1,1230.3 526.1,1226.4 530.0,1223.4 534.0,1221.0 537.9,1218.9 541.9,1216.7 545.9,1214.3 549.8,1211.5 553.8,1208.4 557.8,1204.6 561.7,1199.9 565.7,1194.6 569.7,1189.2 573.6,1184.0 577.6,1179.2 581.6,1174.4 585.5,1169.3 589.5,1164.0 597.4,1151.9 605.3,1137.7 613.3,1123.0 621.2,1109.9 629.1,1097.7 637.0,1085.4 645.0,1073.0 652.9,1060.9 660.8,1049.6 668.8,1039.2 676.7,1030.2 684.6,1023.4 692.5,1018.4 700.5,1014.9 708.4,1013.0 716.3,1012.3 724.3,1012.0 732.2,1011.1 740.1,1009.6 748.0,1007.9 756.0,1006.5 763.9,1005.7 771.8,1006.0 779.8,1007.9 787.7,1010.9 795.6,1014.5 803.5,1018.6 811.5,1023.2 819.4,1028.4 827.3,1033.8 835.2,1038.8 843.2,1043.0 851.1,1046.0 859.0,1048.9 867.0,1052.4 874.9,1056.5 882.8,1061.4 890.7,1067.3 898.7,1073.9 906.6,1081.5 914.5,1090.1 922.5,1099.8 930.4,1110.7 938.3,1122.1 946.2,1133.5 954.2,1144.9 962.1,1156.9 970.0,1169.9 978.0,1183.6 985.9,1197.5 993.8,1210.8 1001.7,1223.2 1009.7,1234.5 1017.6,1244.8 1025.5,1254.4 1033.4,1263.3 1041.4,1272.0 1049.3,1280.8 1057.2,1289.7 1065.2,1298.3 1073.1,1306.3 1081.0,1313.6 1088.9,1320.5 1096.9,1327.0 1104.8,1332.8 1112.7,1337.9 1120.7,1342.2 1128.6,1346.1 1136.5,1349.8 1144.4,1353.5 1152.4,1357.0 1160.3,1360.3 1168.2,1363.5 1176.2,1366.4 1184.1,1369.2 1192.0,1371.6 1199.9,1373.5 1207.9,1374.9 1215.8,1376.2 1223.7,1377.3 1231.6,1378.3 1239.6,1379.4 1247.5,1380.4 1255.4,1381.5 1263.4,1382.6 1271.3,1383.6 1279.2,1384.5 1287.1,1385.4 1295.1,1386.1 1303.0,1386.7 1310.9,1387.2 1318.9,1387.6 1326.8,1388.0 1334.7,1388.4 1342.6,1388.8 1350.6,1389.1 1358.5,1389.4 1366.4,1389.7 1374.4,1389.9 1382.3,1390.2 1390.2,1390.4 1398.1,1390.7 1406.1,1390.9 1414.0,1391.1 1421.9,1391.4 1429.8,1391.6 1437.8,1391.8 1445.7,1392.0 1453.6,1392.2 1461.6,1392.4 1469.5,1392.6 1477.4,1392.7 1485.3,1392.9 1493.3,1393.0 1501.2,1393.1 1509.1,1393.2 1517.1,1393.3 1525.0,1393.4 1532.9,1393.5 1540.8,1393.6 1548.8,1393.7 1556.7,1393.8 1564.6,1393.9 1572.6,1393.9 1580.5,1394.0 1588.4,1394.1 1596.3,1394.1 1604.3,1394.2 1612.2,1394.3 1620.1,1394.3 1628.0,1394.4 1636.0,1394.4 1643.9,1394.5 1651.8,1394.6 1659.8,1394.6 1667.7,1394.7 1675.6,1394.8 1683.5,1394.8 1691.5,1394.9 1699.4,1395.0 1707.3,1395.0 1715.3,1395.1 1723.2,1395.2 1731.1,1395.3 1739.0,1395.3 1747.0,1395.4 1754.9,1395.5 1762.8,1395.6 1770.8,1395.6 1778.7,1395.7 1810.4,1396.0 1842.1,1396.3 1873.8,1396.6 1905.5,1396.9 1937.2,1397.2 1969.0,1397.6 2000.7,1398.0 2032.4,1398.3 2064.1,1398.6 2095.8,1398.7"/>
<polyline points="312.0,1069.5 316.0,1066.1 319.9,1062.7 323.9,1059.6 327.9,1057.1 331.8,1055.5 335.8,1054.9 339.7,1055.2 343.7,1056.0 347.7,1057.2 351.6,1058.8 355.6,1060.7 359.6,1062.9 363.5,1065.7 367.5,1069.3 371.5,1073.7 375.4,1079.0 379.4,1085.0 383.4,1091.4 387.3,1098.0 391.3,1104.8 395.2,1111.6 399.2,1118.5 403.2,1125.6 407.1,1132.8 411.1,1140.0 415.1,1147.1 419.0,1153.9 423.0,1160.6 427.0,1167.0 430.9,1173.2 434.9,1179.0 438.8,1184.5 442.8,1189.6 446.8,1194.3 450.7,1198.7 454.7,1202.8 458.7,1206.4 462.6,1209.4 466.6,1212.0 470.6,1214.0 474.5,1215.8 478.5,1217.2 482.5,1218.3 486.4,1219.0 490.4,1219.3 494.3,1219.2 498.3,1218.8 502.3,1218.0 506.2,1217.0 510.2,1215.8 514.2,1214.4 518.1,1212.7 522.1,1210.8 526.1,1208.5 530.0,1205.9 534.0,1203.0 537.9,1200.0 541.9,1196.8 545.9,1193.4 549.8,1189.8 553.8,1185.9 557.8,1181.9 561.7,1177.7 565.7,1173.3 569.7,1168.6 573.6,1163.7 577.6,1158.5 581.6,1153.1 585.5,1147.4 589.5,1141.5 597.4,1128.6 605.3,1114.9 613.3,1100.4 621.2,1085.5 629.1,1070.3 637.0,1055.6 645.0,1041.2 652.9,1027.9 660.8,1016.2 668.8,1006.0 676.7,997.8 684.6,992.1 692.5,988.5 700.5,986.4 708.4,986.0 716.3,987.6 724.3,990.8 732.2,994.4 740.1,998.5 748.0,1003.8 756.0,1010.5 763.9,1017.9 771.8,1025.8 779.8,1033.2 787.7,1039.2 795.6,1043.7 803.5,1047.4 811.5,1050.8 819.4,1054.3 827.3,1057.8 835.2,1061.3 843.2,1064.9 851.1,1068.5 859.0,1072.2 867.0,1076.1 874.9,1080.5 882.8,1085.6 890.7,1091.3 898.7,1097.7 906.6,1104.5 914.5,1112.0 922.5,1120.4 930.4,1129.6 938.3,1139.2 946.2,1149.2 954.2,1159.6 962.1,1170.6 970.0,1182.7 978.0,1195.4 985.9,1207.6 993.8,1219.0 1001.7,1229.9 1009.7,1240.7 1017.6,1251.2 1025.5,1261.2 1033.4,1270.4 1041.4,1279.1 1049.3,1287.7 1057.2,1296.4 1065.2,1305.0 1073.1,1313.1 1081.0,1320.5 1088.9,1326.9 1096.9,1331.9 1104.8,1335.9 1112.7,1339.7 1120.7,1343.3 1128.6,1346.8 1136.5,1350.3 1144.4,1353.9 1152.4,1357.4 1160.3,1360.7 1168.2,1363.9 1176.2,1366.8 1184.1,1369.5 1192.0,1371.9 1199.9,1373.8 1207.9,1375.2 1215.8,1376.5 1223.7,1377.6 1231.6,1378.6 1239.6,1379.6 1247.5,1380.7 1255.4,1381.8 1263.4,1382.8 1271.3,1383.9 1279.2,1384.8 1287.1,1385.7 1295.1,1386.4 1303.0,1387.0 1310.9,1387.4 1318.9,1387.9 1326.8,1388.3 1334.7,1388.6 1342.6,1389.0 1350.6,1389.3 1358.5,1389.6 1366.4,1389.9 1374.4,1390.1 1382.3,1390.4 1390.2,1390.6 1398.1,1390.8 1406.1,1391.0 1414.0,1391.3 1421.9,1391.5 1429.8,1391.7 1437.8,1391.9 1445.7,1392.1 1453.6,1392.3 1461.6,1392.4 1469.5,1392.6 1477.4,1392.7 1485.3,1392.9 1493.3,1393.0 1501.2,1393.1 1509.1,1393.2 1517.1,1393.3 1525.0,1393.4 1532.9,1393.5 1540.8,1393.6 1548.8,1393.7 1556.7,1393.8 1564.6,1393.8 1572.6,1393.9 1580.5,1394.0 1588.4,1394.1 1596.3,1394.1 1604.3,1394.2 1612.2,1394.3 1620.1,1394.3 1628.0,1394.4 1636.0,1394.4 1643.9,1394.5 1651.8,1394.6 1659.8,1394.6 1667.7,1394.7 1675.6,1394.8 1683.5,1394.8 1691.5,1394.9 1699.4,1395.0 1707.3,1395.0 1715.3,1395.1 1723.2,1395.2 1731.1,1395.3 1739.0,1395.3 1747.0,1395.4 1754.9,1395.5 1762.8,1395.6 1770.8,1395.6 1778.7,1395.7 1810.4,1396.0 1842.1,1396.3 1873.8,1396.6 1905.5,1396.9 1937.2,1397.2 1969.0,1397.6 2000.7,1398.0 2032.4,1398.3 2064.1,1398.6 2095.8,1398.7"/>
</g></defs>
<use href="#cv" x="-2.20" y="0"/>
<use href="#cv" x="-1.47" y="0"/>
<use href="#cv" x="-0.73" y="0"/>
<use href="#cv" x="0.00" y="0"/>
<use href="#cv" x="0.73" y="0"/>
<use href="#cv" x="1.47" y="0"/>
<use href="#cv" x="2.20" y="0"/>
<use href="#cv" x="0" y="-1.30"/>
<use href="#cv" x="0" y="-0.65"/>
<use href="#cv" x="0" y="0.65"/>
<use href="#cv" x="0" y="1.30"/>
<path d="M1914.0,1395.0 L1925.5,1383.0 L1934.0,1395.0 Z" fill="#000" stroke="#000" stroke-width="3" stroke-linejoin="round"/>
<g stroke="#000" stroke-linecap="round" fill="none">
<line x1="312.0" y1="296.5" x2="312.0" y2="1400.5" stroke-width="12.2"/>
<line x1="312.0" y1="1400.5" x2="2097.8" y2="1400.5" stroke-width="9" stroke-linecap="butt"/>
<line x1="281.6" y1="1400.5" x2="312.0" y2="1400.5" stroke-width="9.4"/>
<line x1="294.5" y1="1216.2" x2="312.0" y2="1216.2" stroke-width="8"/>
<line x1="281.6" y1="1031.8" x2="312.0" y2="1031.8" stroke-width="9.4"/>
<line x1="294.5" y1="847.5" x2="312.0" y2="847.5" stroke-width="8"/>
<line x1="281.6" y1="663.2" x2="312.0" y2="663.2" stroke-width="9.4"/>
<line x1="294.5" y1="478.8" x2="312.0" y2="478.8" stroke-width="8"/>
<line x1="281.6" y1="294.5" x2="312.0" y2="294.5" stroke-width="9.4"/>
<rect x="305.9" y="1396.0" width="12.2" height="20.5" rx="3.5" stroke="none" fill="#000"/>
<rect x="504.1" y="1396.0" width="12.2" height="30.1" rx="3.5" stroke="none" fill="#000"/>
<rect x="702.3" y="1396.0" width="12.2" height="20.5" rx="3.5" stroke="none" fill="#000"/>
<rect x="900.5" y="1396.0" width="12.2" height="30.1" rx="3.5" stroke="none" fill="#000"/>
<rect x="1098.7" y="1396.0" width="12.2" height="20.5" rx="3.5" stroke="none" fill="#000"/>
<rect x="1296.9" y="1396.0" width="12.2" height="30.1" rx="3.5" stroke="none" fill="#000"/>
<rect x="1495.1" y="1396.0" width="12.2" height="20.5" rx="3.5" stroke="none" fill="#000"/>
<rect x="1693.3" y="1396.0" width="12.2" height="30.1" rx="3.5" stroke="none" fill="#000"/>
<rect x="1891.5" y="1396.0" width="12.2" height="20.5" rx="3.5" stroke="none" fill="#000"/>
<rect x="2089.7" y="1396.0" width="12.2" height="30.1" rx="3.5" stroke="none" fill="#000"/>
</g>
<text xml:space="preserve" transform="translate(160.3,1415.8) scale(0.975,1.065)" font-size="57.5"><tspan x="0.0 42.0 63.1" y="0.0">0.0</tspan></text>
<text xml:space="preserve" transform="translate(160.3,1047.1) scale(0.975,1.065)" font-size="57.5"><tspan x="0.0 42.0 63.1" y="0.0">0.2</tspan></text>
<text xml:space="preserve" transform="translate(160.3,678.5) scale(0.975,1.065)" font-size="57.5"><tspan x="0.0 42.0 63.1" y="0.0">0.4</tspan></text>
<text xml:space="preserve" transform="translate(160.3,309.8) scale(0.975,1.065)" font-size="57.5"><tspan x="0.0 42.0 63.1" y="0.0">0.6</tspan></text>
<text xml:space="preserve" transform="translate(447.9,1479.6) scale(0.975,1.065)" font-size="57.5"><tspan x="0.0 42.0 84.1" y="0.0">300</tspan></text>
<text xml:space="preserve" transform="translate(844.3,1479.6) scale(0.975,1.065)" font-size="57.5"><tspan x="0.0 42.0 84.1" y="0.0">400</tspan></text>
<text xml:space="preserve" transform="translate(1240.7,1479.6) scale(0.975,1.065)" font-size="57.5"><tspan x="0.0 42.0 84.1" y="0.0">500</tspan></text>
<text xml:space="preserve" transform="translate(1637.1,1479.6) scale(0.975,1.065)" font-size="57.5"><tspan x="0.0 42.0 84.1" y="0.0">600</tspan></text>
<text xml:space="preserve" transform="translate(2033.5,1479.6) scale(0.975,1.065)" font-size="57.5"><tspan x="0.0 42.0 84.1" y="0.0">700</tspan></text>
<text xml:space="preserve" transform="translate(61.0,1122.0) rotate(-90) scale(1.000,1.020)" font-size="62.8"><tspan x="0.0 44.8 82.7 117.2 155.1 179.3 217.2 251.7 289.6 324.1 358.6 375.8 413.7 451.6 468.9 489.5" y="0.0">Absorbance units</tspan></text>
<text xml:space="preserve" transform="translate(1087.6,1582.5)" font-size="62.5"><tspan class="sym" font-weight="bold" font-size="66.0" x="0.0" y="0.0">λ</tspan><tspan x="43.9 66.1 88.4 110.6 159.5" y="0.0"> / nm</tspan></text>
<line x1="530.3" y1="375.7" x2="530.3" y2="576.8" stroke="#000" stroke-width="12" stroke-linecap="round"/><path d="M516.0,577.3 L544.6,577.3 L530.3,613.2 Z" fill="#000" stroke="#000" stroke-width="11" stroke-linejoin="round"/>
<line x1="1355.5" y1="693.3" x2="1355.5" y2="894" stroke="#000" stroke-width="12" stroke-linecap="round"/><path d="M1341.5,894.5 L1369.5,894.5 L1355.5,932.1 Z" fill="#000" stroke="#000" stroke-width="11" stroke-linejoin="round"/>
<g stroke="#000" stroke-linecap="round" fill="none">
<line x1="1391.6" y1="79.8" x2="1391.6" y2="554.8" stroke-width="8.6"/>
<line x1="1391.6" y1="554.8" x2="2138" y2="554.8" stroke-width="7.4"/>
<line x1="1378.5" y1="554.8" x2="1391.6" y2="554.8" stroke-width="7.2"/>
<line x1="1384.5" y1="439.1" x2="1391.6" y2="439.1" stroke-width="6.4"/>
<line x1="1378.5" y1="323.4" x2="1391.6" y2="323.4" stroke-width="7.2"/>
<line x1="1384.5" y1="207.7" x2="1391.6" y2="207.7" stroke-width="6.4"/>
<line x1="1378.5" y1="92.0" x2="1391.6" y2="92.0" stroke-width="7.2"/>
<line x1="1391.6" y1="554.8" x2="1391.6" y2="562.5" stroke-width="8.6"/>
<line x1="1495.2" y1="554.8" x2="1495.2" y2="559.5" stroke-width="7"/>
<line x1="1598.9" y1="554.8" x2="1598.9" y2="562.5" stroke-width="8.6"/>
<line x1="1702.5" y1="554.8" x2="1702.5" y2="559.5" stroke-width="7"/>
<line x1="1806.2" y1="554.8" x2="1806.2" y2="562.5" stroke-width="8.6"/>
<line x1="1909.8" y1="554.8" x2="1909.8" y2="559.5" stroke-width="7"/>
<line x1="2013.5" y1="554.8" x2="2013.5" y2="562.5" stroke-width="8.6"/>
<line x1="2117.2" y1="554.8" x2="2117.2" y2="559.5" stroke-width="7"/>
</g>
<clipPath id="ic"><rect x="1391" y="0" width="800" height="560"/></clipPath>
<g clip-path="url(#ic)"><g transform="scale(1.36,1)">
<g fill="#fff" stroke="#000" stroke-width="3.5">
<circle cx="1026.0" cy="104.1" r="17.4"/>
<circle cx="1039.7" cy="137.3" r="17.4"/>
<circle cx="1053.4" cy="167.7" r="17.4"/>
<circle cx="1067.1" cy="197.2" r="17.4"/>
<circle cx="1080.9" cy="225.8" r="17.4"/>
<circle cx="1094.6" cy="253.3" r="17.4"/>
<circle cx="1108.3" cy="279.7" r="17.4"/>
<circle cx="1122.0" cy="305.0" r="17.4"/>
<circle cx="1135.7" cy="329.1" r="17.4"/>
<circle cx="1149.4" cy="352.0" r="17.4"/>
<circle cx="1163.2" cy="373.6" r="17.4"/>
<circle cx="1176.9" cy="393.8" r="17.4"/>
<circle cx="1190.6" cy="412.7" r="17.4"/>
<circle cx="1204.3" cy="430.1" r="17.4"/>
<circle cx="1218.0" cy="446.0" r="17.4"/>
<circle cx="1231.8" cy="460.4" r="17.4"/>
<circle cx="1245.5" cy="473.1" r="17.4"/>
<circle cx="1259.2" cy="484.2" r="17.4"/>
<circle cx="1272.9" cy="493.6" r="17.4"/>
<circle cx="1286.6" cy="501.4" r="17.4"/>
<circle cx="1300.3" cy="507.6" r="17.4"/>
<circle cx="1314.1" cy="512.5" r="17.4"/>
<circle cx="1327.8" cy="516.4" r="17.4"/>
<circle cx="1341.5" cy="519.3" r="17.4"/>
<circle cx="1355.2" cy="521.5" r="17.4"/>
<circle cx="1368.9" cy="523.1" r="17.4"/>
<circle cx="1382.7" cy="524.3" r="17.4"/>
<circle cx="1396.4" cy="525.3" r="17.4"/>
<circle cx="1410.1" cy="526.2" r="17.4"/>
<circle cx="1423.8" cy="526.8" r="17.4"/>
<circle cx="1437.5" cy="527.3" r="17.4"/>
<circle cx="1451.2" cy="527.6" r="17.4"/>
<circle cx="1465.0" cy="527.9" r="17.4"/>
<circle cx="1478.7" cy="528.1" r="17.4"/>
<circle cx="1492.4" cy="528.3" r="17.4"/>
<circle cx="1506.1" cy="528.5" r="17.4"/>
<circle cx="1519.8" cy="528.6" r="17.4"/>
<circle cx="1533.6" cy="528.9" r="17.4"/>
<circle cx="1547.3" cy="529.2" r="17.4"/>
</g>
<polyline fill="none" stroke="#000" stroke-width="1.2" points="1023.4,105.6 1037.1,138.8 1050.8,169.2 1064.6,198.7 1078.3,227.3 1092.0,254.8 1105.7,281.2 1119.4,306.5 1133.2,330.6 1146.9,353.5 1160.6,375.1 1174.3,395.3"/>
<polyline fill="none" stroke="#000" stroke-width="6.4" stroke-linecap="round" stroke-linejoin="round" points="1026.0,106.1 1031.9,119.7 1037.8,133.0 1043.7,146.2 1049.6,159.3 1055.4,172.1 1061.3,184.8 1067.2,197.4 1073.1,209.7 1079.0,221.9 1084.8,233.9 1090.7,245.7 1096.6,257.2 1102.5,268.6 1108.4,279.8 1114.2,290.8 1120.1,301.6 1126.0,312.1 1131.9,322.5 1137.8,332.6 1143.7,342.5 1149.5,352.1 1155.4,361.5 1161.3,370.7 1167.2,379.6 1173.1,388.3 1178.9,396.7 1184.8,404.9 1190.7,412.8 1196.6,420.5 1202.5,427.8 1208.3,434.9 1214.2,441.7 1220.1,448.3 1226.0,454.5 1231.9,460.5 1237.7,466.2 1243.6,471.5 1249.5,476.6 1255.4,481.3 1261.3,485.8 1267.1,489.9 1273.0,493.7 1278.9,497.2 1284.8,500.4 1290.7,503.4 1296.5,506.0 1302.4,508.4 1308.3,510.6 1314.2,512.6 1320.1,514.4 1325.9,515.9 1331.8,517.3 1337.7,518.6 1343.6,519.7 1349.5,520.6 1355.4,521.5 1361.2,522.2 1367.1,522.9 1373.0,523.5 1378.9,524.0 1384.8,524.5 1390.6,524.9 1396.5,525.4 1402.4,525.7 1408.3,526.1 1414.2,526.4 1420.0,526.6 1425.9,526.9 1431.8,527.1 1437.7,527.3 1443.6,527.5 1449.4,527.6 1455.3,527.7 1461.2,527.8 1467.1,527.9 1473.0,528.0 1478.8,528.1 1484.7,528.2 1490.6,528.3 1496.5,528.3 1502.4,528.4 1508.2,528.5 1514.1,528.6 1520.0,528.6 1525.9,528.7 1531.8,528.8 1537.7,528.9 1543.5,529.1 1549.4,529.2"/>
</g></g>
<text xml:space="preserve" transform="translate(1299.6,565.6) scale(0.975,1.065)" font-size="40.5"><tspan x="0.0 29.8 44.8" y="0.0">0.0</tspan></text>
<text xml:space="preserve" transform="translate(1299.6,334.2) scale(0.975,1.065)" font-size="40.5"><tspan x="0.0 29.8 44.8" y="0.0">0.2</tspan></text>
<text xml:space="preserve" transform="translate(1299.6,102.8) scale(0.975,1.065)" font-size="40.5"><tspan x="0.0 29.8 44.8" y="0.0">0.4</tspan></text>
<text xml:space="preserve" transform="translate(1377.6,600.5) scale(0.975,1.065)" font-size="40.5"><tspan x="0.0" y="0.0">0</tspan></text>
<text xml:space="preserve" transform="translate(1555.8,600.5) scale(0.975,1.065)" font-size="40.5"><tspan x="0.0 29.8 59.7" y="0.0">500</tspan></text>
<text xml:space="preserve" transform="translate(1748.5,600.5) scale(0.975,1.065)" font-size="40.5"><tspan x="0.0 29.8 59.7 89.5" y="0.0">1000</tspan></text>
<text xml:space="preserve" transform="translate(1955.8,600.5) scale(0.975,1.065)" font-size="40.5"><tspan x="0.0 29.8 59.7 89.5" y="0.0">1500</tspan></text>
<text xml:space="preserve" transform="translate(1637.2,652.5) scale(1.000,1.040)" font-size="41.2"><tspan x="0.0 31.8 46.2 92.5 121.5 135.9 150.4 164.8" y="0.0">Time / s</tspan></text>
<text xml:space="preserve" transform="translate(1275.1,606.3) rotate(-90) scale(1.000,1.020)" font-size="41.2"><tspan x="0.0 29.8 55.0 78.0 103.2 119.3 144.5 167.4 192.7 215.6 238.6 250.1 275.3 300.5 312.0 325.7" y="0.0">Absorbance units</tspan></text>
<text xml:space="preserve" transform="translate(1275.1,252.6) rotate(-90) scale(1.000,1.020)" font-size="41.2"><tspan class="sym" font-weight="normal" font-size="30.0" x="0.0" y="-1.0">(</tspan><tspan class="sym" font-weight="normal" font-size="41.0" x="13.5" y="0.0">λ</tspan><tspan x="35.8 47.0 70.7 82.0 104.5 127.1 149.6 160.9 185.6" y="0.0"> = 465 nm</tspan><tspan class="sym" font-weight="normal" font-size="30.0" x="221.7" y="-1.0">)</tspan></text>
</svg></body></html>
